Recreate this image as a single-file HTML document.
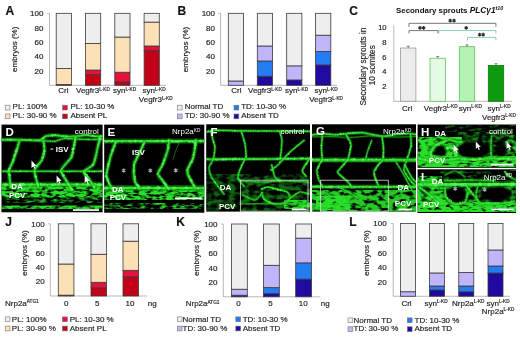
<!DOCTYPE html>
<html><head><meta charset="utf-8"><style>
html,body{margin:0;padding:0;background:#fff;}
body{width:520px;height:338px;overflow:hidden;}
svg{display:block;font-family:"Liberation Sans", sans-serif;will-change:transform;}
.ct{stroke:#2a2a2a;stroke-width:0.18px;}
</style></head><body>
<svg width="520" height="338" viewBox="0 0 520 338">
<rect width="520" height="338" fill="#fff"/>
<text x="5.6" y="14.6" font-size="12" text-anchor="start" font-weight="bold" fill="#111" class="ct" >A</text>
<line x1="49.5" y1="13.3" x2="49.5" y2="85.3" stroke="#999" stroke-width="0.7"/>
<text x="43.4" y="16.199999999999996" font-size="8" text-anchor="end" font-weight="normal" fill="#222" class="ct" >100</text>
<line x1="47.0" y1="13.30" x2="49.5" y2="13.30" stroke="#999" stroke-width="0.6"/>
<text x="43.4" y="30.599999999999994" font-size="8" text-anchor="end" font-weight="normal" fill="#222" class="ct" >80</text>
<text x="43.4" y="45.0" font-size="8" text-anchor="end" font-weight="normal" fill="#222" class="ct" >60</text>
<text x="43.4" y="59.4" font-size="8" text-anchor="end" font-weight="normal" fill="#222" class="ct" >40</text>
<text x="43.4" y="73.8" font-size="8" text-anchor="end" font-weight="normal" fill="#222" class="ct" >20</text>
<line x1="49.5" y1="85.3" x2="166" y2="85.3" stroke="#999" stroke-width="0.7"/>
<text x="0" y="0" font-size="8" text-anchor="middle" fill="#222" class="ct" transform="translate(17.0,49.3) rotate(-90)">embryos (%)</text>
<rect x="56.2" y="84.44" width="15.200000000000003" height="0.86" fill="#c20018" stroke="#3a3a3a" stroke-width="0.8"/>
<rect x="56.2" y="68.52" width="15.200000000000003" height="15.91" fill="#fde1b6" stroke="#3a3a3a" stroke-width="0.8"/>
<rect x="56.2" y="13.30" width="15.200000000000003" height="55.22" fill="#eeeeee" stroke="#3a3a3a" stroke-width="0.8"/>
<rect x="85.5" y="74.57" width="15.200000000000003" height="10.73" fill="#c20018" stroke="#3a3a3a" stroke-width="0.8"/>
<rect x="85.5" y="70.04" width="15.200000000000003" height="4.54" fill="#e6103a" stroke="#3a3a3a" stroke-width="0.8"/>
<rect x="85.5" y="43.40" width="15.200000000000003" height="26.64" fill="#fde1b6" stroke="#3a3a3a" stroke-width="0.8"/>
<rect x="85.5" y="13.30" width="15.200000000000003" height="30.10" fill="#eeeeee" stroke="#3a3a3a" stroke-width="0.8"/>
<rect x="114.8" y="81.99" width="15.200000000000003" height="3.31" fill="#c20018" stroke="#3a3a3a" stroke-width="0.8"/>
<rect x="114.8" y="72.20" width="15.200000000000003" height="9.79" fill="#e6103a" stroke="#3a3a3a" stroke-width="0.8"/>
<rect x="114.8" y="37.06" width="15.200000000000003" height="35.14" fill="#fde1b6" stroke="#3a3a3a" stroke-width="0.8"/>
<rect x="114.8" y="13.30" width="15.200000000000003" height="23.76" fill="#eeeeee" stroke="#3a3a3a" stroke-width="0.8"/>
<rect x="144.1" y="50.38" width="15.199999999999989" height="34.92" fill="#c20018" stroke="#3a3a3a" stroke-width="0.8"/>
<rect x="144.1" y="45.99" width="15.199999999999989" height="4.39" fill="#e6103a" stroke="#3a3a3a" stroke-width="0.8"/>
<rect x="144.1" y="22.08" width="15.199999999999989" height="23.90" fill="#fde1b6" stroke="#3a3a3a" stroke-width="0.8"/>
<rect x="144.1" y="13.30" width="15.199999999999989" height="8.78" fill="#eeeeee" stroke="#3a3a3a" stroke-width="0.8"/>
<text x="63.3" y="93.2" font-size="8" text-anchor="middle" font-weight="normal" fill="#222" class="ct" >Crl</text>
<text x="76" y="93.2" font-size="8" fill="#222" class="ct" text-anchor="start">Vegfr3<tspan font-size="4.7" dy="-2.6">L-KD</tspan></text>
<text x="113" y="93.2" font-size="8" fill="#222" class="ct" text-anchor="start">syn<tspan font-size="4.7" dy="-2.6">L-KD</tspan></text>
<text x="142.5" y="93.2" font-size="8" fill="#222" class="ct" text-anchor="start">syn<tspan font-size="4.7" dy="-2.6">L-KD</tspan></text>
<text x="138.8" y="102.2" font-size="8" fill="#222" class="ct" text-anchor="start">Vegfr3<tspan font-size="4.7" dy="-2.6">L-KD</tspan></text>
<rect x="5.2" y="105.19999999999999" width="4.8" height="4.8" fill="#eeeeee" stroke="#777" stroke-width="0.6"/>
<text x="12.6" y="109.4" font-size="8" text-anchor="start" font-weight="normal" fill="#222" class="ct" >PL: 100%</text>
<rect x="5.2" y="114.0" width="4.8" height="4.8" fill="#fde1b6" stroke="#777" stroke-width="0.6"/>
<text x="12.6" y="118.4" font-size="8" text-anchor="start" font-weight="normal" fill="#222" class="ct" >PL: 30-90 %</text>
<rect x="62.6" y="105.19999999999999" width="4.8" height="4.8" fill="#e6103a" stroke="#777" stroke-width="0.6"/>
<text x="70.4" y="109.4" font-size="8" text-anchor="start" font-weight="normal" fill="#222" class="ct" >PL: 10-30 %</text>
<rect x="62.6" y="114.0" width="4.8" height="4.8" fill="#c20018" stroke="#777" stroke-width="0.6"/>
<text x="70.4" y="118.4" font-size="8" text-anchor="start" font-weight="normal" fill="#222" class="ct" >Absent PL</text>
<text x="177.6" y="14.6" font-size="12" text-anchor="start" font-weight="bold" fill="#111" class="ct" >B</text>
<line x1="220.6" y1="13.3" x2="220.6" y2="85.3" stroke="#999" stroke-width="0.7"/>
<text x="215" y="16.199999999999996" font-size="8" text-anchor="end" font-weight="normal" fill="#222" class="ct" >100</text>
<line x1="218.1" y1="13.30" x2="220.6" y2="13.30" stroke="#999" stroke-width="0.6"/>
<text x="215" y="30.599999999999994" font-size="8" text-anchor="end" font-weight="normal" fill="#222" class="ct" >80</text>
<text x="215" y="45.0" font-size="8" text-anchor="end" font-weight="normal" fill="#222" class="ct" >60</text>
<text x="215" y="59.4" font-size="8" text-anchor="end" font-weight="normal" fill="#222" class="ct" >40</text>
<text x="215" y="73.8" font-size="8" text-anchor="end" font-weight="normal" fill="#222" class="ct" >20</text>
<line x1="220.6" y1="85.3" x2="337" y2="85.3" stroke="#999" stroke-width="0.7"/>
<text x="0" y="0" font-size="8" text-anchor="middle" fill="#222" class="ct" transform="translate(188,49.5) rotate(-90)">embryos (%)</text>
<rect x="228.3" y="80.98" width="15.199999999999989" height="4.32" fill="#bfb5f8" stroke="#3a3a3a" stroke-width="0.8"/>
<rect x="228.3" y="13.30" width="15.199999999999989" height="67.68" fill="#eeeeee" stroke="#3a3a3a" stroke-width="0.8"/>
<rect x="257.3" y="76.23" width="15.199999999999989" height="9.07" fill="#200aa0" stroke="#3a3a3a" stroke-width="0.8"/>
<rect x="257.3" y="61.00" width="15.199999999999989" height="15.23" fill="#237cf0" stroke="#3a3a3a" stroke-width="0.8"/>
<rect x="257.3" y="45.99" width="15.199999999999989" height="15.01" fill="#bfb5f8" stroke="#3a3a3a" stroke-width="0.8"/>
<rect x="257.3" y="13.30" width="15.199999999999989" height="32.69" fill="#eeeeee" stroke="#3a3a3a" stroke-width="0.8"/>
<rect x="286.7" y="79.97" width="15.199999999999989" height="5.33" fill="#200aa0" stroke="#3a3a3a" stroke-width="0.8"/>
<rect x="286.7" y="65.86" width="15.199999999999989" height="14.11" fill="#bfb5f8" stroke="#3a3a3a" stroke-width="0.8"/>
<rect x="286.7" y="13.30" width="15.199999999999989" height="52.56" fill="#eeeeee" stroke="#3a3a3a" stroke-width="0.8"/>
<rect x="315.6" y="64.92" width="15.199999999999989" height="20.38" fill="#200aa0" stroke="#3a3a3a" stroke-width="0.8"/>
<rect x="315.6" y="51.46" width="15.199999999999989" height="13.46" fill="#237cf0" stroke="#3a3a3a" stroke-width="0.8"/>
<rect x="315.6" y="35.19" width="15.199999999999989" height="16.27" fill="#bfb5f8" stroke="#3a3a3a" stroke-width="0.8"/>
<rect x="315.6" y="13.30" width="15.199999999999989" height="21.89" fill="#eeeeee" stroke="#3a3a3a" stroke-width="0.8"/>
<text x="236.3" y="93.2" font-size="8" text-anchor="middle" font-weight="normal" fill="#222" class="ct" >Crl</text>
<text x="248" y="93.2" font-size="8" fill="#222" class="ct" text-anchor="start">Vegfr3<tspan font-size="4.7" dy="-2.6">L-KD</tspan></text>
<text x="285" y="93.2" font-size="8" fill="#222" class="ct" text-anchor="start">syn<tspan font-size="4.7" dy="-2.6">L-KD</tspan></text>
<text x="314.5" y="93.2" font-size="8" fill="#222" class="ct" text-anchor="start">syn<tspan font-size="4.7" dy="-2.6">L-KD</tspan></text>
<text x="309.2" y="102.2" font-size="8" fill="#222" class="ct" text-anchor="start">Vegfr3<tspan font-size="4.7" dy="-2.6">L-KD</tspan></text>
<rect x="177.3" y="105.19999999999999" width="4.8" height="4.8" fill="#eeeeee" stroke="#777" stroke-width="0.6"/>
<text x="184.7" y="109.4" font-size="8" text-anchor="start" font-weight="normal" fill="#222" class="ct" >Normal TD</text>
<rect x="177.3" y="114.0" width="4.8" height="4.8" fill="#bfb5f8" stroke="#777" stroke-width="0.6"/>
<text x="184.7" y="118.4" font-size="8" text-anchor="start" font-weight="normal" fill="#222" class="ct" >TD: 30-90 %</text>
<rect x="234.0" y="105.19999999999999" width="4.8" height="4.8" fill="#237cf0" stroke="#777" stroke-width="0.6"/>
<text x="241.2" y="109.4" font-size="8" text-anchor="start" font-weight="normal" fill="#222" class="ct" >TD: 10-30 %</text>
<rect x="234.0" y="114.0" width="4.8" height="4.8" fill="#200aa0" stroke="#777" stroke-width="0.6"/>
<text x="241.2" y="118.4" font-size="8" text-anchor="start" font-weight="normal" fill="#222" class="ct" >Absent TD</text>
<text x="349.3" y="14.7" font-size="12" text-anchor="start" font-weight="bold" fill="#111" class="ct" >C</text>
<text x="396" y="12.5" font-size="7.9" font-weight="bold" fill="#111">Secondary sprouts <tspan font-style="italic" font-size="8.3">PLC&#947;1</tspan><tspan font-size="5.3" dy="-2.8" font-style="italic">t10</tspan></text>
<line x1="393.8" y1="25.3" x2="393.8" y2="101.3" stroke="#999" stroke-width="0.7"/>
<text x="386.6" y="30.2" font-size="7.6" text-anchor="end" font-weight="normal" fill="#222" class="ct" >10</text>
<text x="386.6" y="44.96" font-size="7.6" text-anchor="end" font-weight="normal" fill="#222" class="ct" >8</text>
<text x="386.6" y="59.72" font-size="7.6" text-anchor="end" font-weight="normal" fill="#222" class="ct" >6</text>
<text x="386.6" y="74.48" font-size="7.6" text-anchor="end" font-weight="normal" fill="#222" class="ct" >4</text>
<text x="386.6" y="89.24" font-size="7.6" text-anchor="end" font-weight="normal" fill="#222" class="ct" >2</text>
<line x1="393.8" y1="101.3" x2="512" y2="101.3" stroke="#999" stroke-width="0.7"/>
<text x="0" y="0" font-size="8.3" text-anchor="middle" fill="#222" class="ct" transform="translate(366.4,66.6) rotate(-90)">Secondary sprouts in</text>
<text x="0" y="0" font-size="8.3" text-anchor="middle" fill="#222" class="ct" transform="translate(375.3,65.2) rotate(-90)">10 somites</text>
<rect x="400.5" y="48.02" width="15.4" height="53.28" fill="#ececec" stroke="#9a9a9a" stroke-width="0.8"/>
<line x1="408.2" y1="48.02" x2="408.2" y2="46.22" stroke="#555" stroke-width="0.7"/>
<line x1="406.7" y1="46.22" x2="409.7" y2="46.22" stroke="#555" stroke-width="0.7"/>
<rect x="430" y="58.27" width="15.4" height="43.03" fill="#e2fbe2" stroke="#6dbf6d" stroke-width="0.8"/>
<line x1="437.7" y1="58.27" x2="437.7" y2="56.47" stroke="#555" stroke-width="0.7"/>
<line x1="436.2" y1="56.47" x2="439.2" y2="56.47" stroke="#555" stroke-width="0.7"/>
<rect x="459.3" y="46.69" width="15.4" height="54.61" fill="#b4f3b4" stroke="#5fbf5f" stroke-width="0.8"/>
<line x1="467.0" y1="46.69" x2="467.0" y2="44.89" stroke="#555" stroke-width="0.7"/>
<line x1="465.5" y1="44.89" x2="468.5" y2="44.89" stroke="#555" stroke-width="0.7"/>
<rect x="488.3" y="65.51" width="15.4" height="35.79" fill="#0f9a0f" stroke="#0b7a0b" stroke-width="0.8"/>
<line x1="496.0" y1="65.51" x2="496.0" y2="63.71" stroke="#555" stroke-width="0.7"/>
<line x1="494.5" y1="63.71" x2="497.5" y2="63.71" stroke="#555" stroke-width="0.7"/>
<text x="407.2" y="110.9" font-size="8" text-anchor="middle" font-weight="normal" fill="#222" class="ct" >Crl</text>
<text x="423.8" y="110.9" font-size="8" fill="#222" class="ct" text-anchor="start">Vegfr3<tspan font-size="4.7" dy="-2.6">L-KD</tspan></text>
<text x="458.7" y="110.9" font-size="8" fill="#222" class="ct" text-anchor="start">syn<tspan font-size="4.7" dy="-2.6">L-KD</tspan></text>
<text x="487.5" y="110.9" font-size="8" fill="#222" class="ct" text-anchor="start">syn<tspan font-size="4.7" dy="-2.6">L-KD</tspan></text>
<text x="482" y="119.5" font-size="8" fill="#222" class="ct" text-anchor="start">Vegfr3<tspan font-size="4.7" dy="-2.6">L-KD</tspan></text>
<path d="M409,26.8 V23.3 H495.9 V26.8" fill="none" stroke="#555" stroke-width="0.8"/>
<path d="M409,33.4 V30.6 H437.9 V33.4" fill="none" stroke="#555" stroke-width="0.8"/>
<path d="M438.8,33.4 V30.6 H495.9 V33.4" fill="none" stroke="#6cc0a0" stroke-width="0.8"/>
<path d="M467.5,40.4 V37.4 H495.9 V40.4" fill="none" stroke="#6cc0a0" stroke-width="0.8"/>
<path d="M450.20,18.75 L450.20,22.45 M448.60,19.68 L451.80,21.53 M448.60,21.53 L451.80,19.68 " stroke="#2a2a2a" stroke-width="1.15" fill="none"/>
<path d="M454.00,18.75 L454.00,22.45 M452.40,19.68 L455.60,21.53 M452.40,21.53 L455.60,19.68 " stroke="#2a2a2a" stroke-width="1.15" fill="none"/>
<path d="M420.00,25.95 L420.00,29.65 M418.40,26.88 L421.60,28.73 M418.40,28.73 L421.60,26.88 " stroke="#2a2a2a" stroke-width="1.15" fill="none"/>
<path d="M423.60,25.95 L423.60,29.65 M422.00,26.88 L425.20,28.73 M422.00,28.73 L425.20,26.88 " stroke="#2a2a2a" stroke-width="1.15" fill="none"/>
<path d="M466.20,25.95 L466.20,29.65 M464.60,26.88 L467.80,28.73 M464.60,28.73 L467.80,26.88 " stroke="#2a2a2a" stroke-width="1.15" fill="none"/>
<path d="M479.60,32.75 L479.60,36.45 M478.00,33.68 L481.20,35.52 M478.00,35.52 L481.20,33.68 " stroke="#2a2a2a" stroke-width="1.15" fill="none"/>
<path d="M483.20,32.75 L483.20,36.45 M481.60,33.68 L484.80,35.52 M481.60,35.52 L484.80,33.68 " stroke="#2a2a2a" stroke-width="1.15" fill="none"/>
<text x="5.2" y="225.9" font-size="12" text-anchor="start" font-weight="bold" fill="#111" class="ct" >J</text>
<line x1="50.3" y1="223.8" x2="50.3" y2="296" stroke="#999" stroke-width="0.7"/>
<text x="44.7" y="226.70000000000002" font-size="8" text-anchor="end" font-weight="normal" fill="#222" class="ct" >100</text>
<line x1="47.8" y1="223.80" x2="50.3" y2="223.80" stroke="#999" stroke-width="0.6"/>
<text x="44.7" y="241.14000000000001" font-size="8" text-anchor="end" font-weight="normal" fill="#222" class="ct" >80</text>
<text x="44.7" y="255.58" font-size="8" text-anchor="end" font-weight="normal" fill="#222" class="ct" >60</text>
<text x="44.7" y="270.02" font-size="8" text-anchor="end" font-weight="normal" fill="#222" class="ct" >40</text>
<text x="44.7" y="284.46" font-size="8" text-anchor="end" font-weight="normal" fill="#222" class="ct" >20</text>
<line x1="50.3" y1="296" x2="147" y2="296" stroke="#999" stroke-width="0.7"/>
<text x="0" y="0" font-size="8" text-anchor="middle" fill="#222" class="ct" transform="translate(27,253) rotate(-90)">embryos (%)</text>
<rect x="58.3" y="295.13" width="15.599999999999994" height="0.87" fill="#c20018" stroke="#3a3a3a" stroke-width="0.8"/>
<rect x="58.3" y="264.02" width="15.599999999999994" height="31.12" fill="#fde1b6" stroke="#3a3a3a" stroke-width="0.8"/>
<rect x="58.3" y="223.80" width="15.599999999999994" height="40.22" fill="#eeeeee" stroke="#3a3a3a" stroke-width="0.8"/>
<rect x="91" y="287.77" width="15.599999999999994" height="8.23" fill="#c20018" stroke="#3a3a3a" stroke-width="0.8"/>
<rect x="91" y="282.28" width="15.599999999999994" height="5.49" fill="#e6103a" stroke="#3a3a3a" stroke-width="0.8"/>
<rect x="91" y="254.27" width="15.599999999999994" height="28.01" fill="#fde1b6" stroke="#3a3a3a" stroke-width="0.8"/>
<rect x="91" y="223.80" width="15.599999999999994" height="30.47" fill="#eeeeee" stroke="#3a3a3a" stroke-width="0.8"/>
<rect x="123" y="276.79" width="15.599999999999994" height="19.21" fill="#c20018" stroke="#3a3a3a" stroke-width="0.8"/>
<rect x="123" y="270.30" width="15.599999999999994" height="6.50" fill="#e6103a" stroke="#3a3a3a" stroke-width="0.8"/>
<rect x="123" y="241.20" width="15.599999999999994" height="29.10" fill="#fde1b6" stroke="#3a3a3a" stroke-width="0.8"/>
<rect x="123" y="223.80" width="15.599999999999994" height="17.40" fill="#eeeeee" stroke="#3a3a3a" stroke-width="0.8"/>
<text x="5.0" y="306.0" font-size="8" fill="#222" class="ct" text-anchor="start">Nrp2a<tspan font-size="4.7" dy="-2.6">ATG1</tspan></text>
<text x="66.2" y="305.9" font-size="8" text-anchor="middle" font-weight="normal" fill="#222" class="ct" >0</text>
<text x="97.3" y="305.9" font-size="8" text-anchor="middle" font-weight="normal" fill="#222" class="ct" >5</text>
<text x="129.9" y="305.9" font-size="8" text-anchor="middle" font-weight="normal" fill="#222" class="ct" >10</text>
<text x="147.8" y="305.9" font-size="8" text-anchor="start" font-weight="normal" fill="#222" class="ct" >ng</text>
<rect x="5.2" y="316.90000000000003" width="4.8" height="4.8" fill="#eeeeee" stroke="#777" stroke-width="0.6"/>
<text x="11.8" y="321.5" font-size="8" text-anchor="start" font-weight="normal" fill="#222" class="ct" >PL: 100%</text>
<rect x="5.2" y="326.1" width="4.8" height="4.8" fill="#fde1b6" stroke="#777" stroke-width="0.6"/>
<text x="11.8" y="330.7" font-size="8" text-anchor="start" font-weight="normal" fill="#222" class="ct" >PL: 30-90 %</text>
<rect x="62.5" y="316.90000000000003" width="4.8" height="4.8" fill="#e6103a" stroke="#777" stroke-width="0.6"/>
<text x="69.7" y="321.5" font-size="8" text-anchor="start" font-weight="normal" fill="#222" class="ct" >PL: 10-30 %</text>
<rect x="62.5" y="326.1" width="4.8" height="4.8" fill="#c20018" stroke="#777" stroke-width="0.6"/>
<text x="69.7" y="330.7" font-size="8" text-anchor="start" font-weight="normal" fill="#222" class="ct" >Absent PL</text>
<text x="176.3" y="225.9" font-size="12" text-anchor="start" font-weight="bold" fill="#111" class="ct" >K</text>
<line x1="223.3" y1="224" x2="223.3" y2="296.8" stroke="#999" stroke-width="0.7"/>
<text x="217.5" y="226.9" font-size="8" text-anchor="end" font-weight="normal" fill="#222" class="ct" >100</text>
<line x1="220.8" y1="224.00" x2="223.3" y2="224.00" stroke="#999" stroke-width="0.6"/>
<text x="217.5" y="241.46" font-size="8" text-anchor="end" font-weight="normal" fill="#222" class="ct" >80</text>
<text x="217.5" y="256.02" font-size="8" text-anchor="end" font-weight="normal" fill="#222" class="ct" >60</text>
<text x="217.5" y="270.58" font-size="8" text-anchor="end" font-weight="normal" fill="#222" class="ct" >40</text>
<text x="217.5" y="285.14" font-size="8" text-anchor="end" font-weight="normal" fill="#222" class="ct" >20</text>
<line x1="223.3" y1="296.8" x2="319.8" y2="296.8" stroke="#999" stroke-width="0.7"/>
<text x="0" y="0" font-size="8" text-anchor="middle" fill="#222" class="ct" transform="translate(199.2,253) rotate(-90)">embryos (%)</text>
<rect x="231.5" y="295.20" width="15.800000000000011" height="1.60" fill="#200aa0" stroke="#3a3a3a" stroke-width="0.8"/>
<rect x="231.5" y="289.23" width="15.800000000000011" height="5.97" fill="#bfb5f8" stroke="#3a3a3a" stroke-width="0.8"/>
<rect x="231.5" y="224.00" width="15.800000000000011" height="65.23" fill="#eeeeee" stroke="#3a3a3a" stroke-width="0.8"/>
<rect x="263.5" y="293.67" width="15.800000000000011" height="3.13" fill="#200aa0" stroke="#3a3a3a" stroke-width="0.8"/>
<rect x="263.5" y="287.63" width="15.800000000000011" height="6.04" fill="#237cf0" stroke="#3a3a3a" stroke-width="0.8"/>
<rect x="263.5" y="265.28" width="15.800000000000011" height="22.35" fill="#bfb5f8" stroke="#3a3a3a" stroke-width="0.8"/>
<rect x="263.5" y="224.00" width="15.800000000000011" height="41.28" fill="#eeeeee" stroke="#3a3a3a" stroke-width="0.8"/>
<rect x="295.7" y="279.11" width="15.800000000000011" height="17.69" fill="#200aa0" stroke="#3a3a3a" stroke-width="0.8"/>
<rect x="295.7" y="262.88" width="15.800000000000011" height="16.23" fill="#237cf0" stroke="#3a3a3a" stroke-width="0.8"/>
<rect x="295.7" y="238.12" width="15.800000000000011" height="24.75" fill="#bfb5f8" stroke="#3a3a3a" stroke-width="0.8"/>
<rect x="295.7" y="224.00" width="15.800000000000011" height="14.12" fill="#eeeeee" stroke="#3a3a3a" stroke-width="0.8"/>
<text x="185.7" y="306.3" font-size="8" fill="#222" class="ct" text-anchor="start">Nrp2a<tspan font-size="4.7" dy="-2.6">ATG1</tspan></text>
<text x="238.5" y="305.8" font-size="8" text-anchor="middle" font-weight="normal" fill="#222" class="ct" >0</text>
<text x="270.5" y="305.8" font-size="8" text-anchor="middle" font-weight="normal" fill="#222" class="ct" >5</text>
<text x="303.2" y="306.0" font-size="8" text-anchor="middle" font-weight="normal" fill="#222" class="ct" >10</text>
<text x="320.8" y="306.0" font-size="8" text-anchor="start" font-weight="normal" fill="#222" class="ct" >ng</text>
<rect x="177.3" y="316.90000000000003" width="4.8" height="4.8" fill="#eeeeee" stroke="#777" stroke-width="0.6"/>
<text x="182.5" y="321.5" font-size="8" text-anchor="start" font-weight="normal" fill="#222" class="ct" >Normal TD</text>
<rect x="177.3" y="326.1" width="4.8" height="4.8" fill="#bfb5f8" stroke="#777" stroke-width="0.6"/>
<text x="182.5" y="330.7" font-size="8" text-anchor="start" font-weight="normal" fill="#222" class="ct" >TD: 30-90 %</text>
<rect x="235.8" y="316.90000000000003" width="4.8" height="4.8" fill="#237cf0" stroke="#777" stroke-width="0.6"/>
<text x="242.7" y="321.5" font-size="8" text-anchor="start" font-weight="normal" fill="#222" class="ct" >TD: 10-30 %</text>
<rect x="235.8" y="326.1" width="4.8" height="4.8" fill="#200aa0" stroke="#777" stroke-width="0.6"/>
<text x="242.7" y="330.7" font-size="8" text-anchor="start" font-weight="normal" fill="#222" class="ct" >Absent TD</text>
<text x="349.3" y="225.9" font-size="12" text-anchor="start" font-weight="bold" fill="#111" class="ct" >L</text>
<line x1="393.2" y1="223.5" x2="393.2" y2="296.25" stroke="#999" stroke-width="0.7"/>
<text x="386.7" y="226.4" font-size="8" text-anchor="end" font-weight="normal" fill="#222" class="ct" >100</text>
<line x1="390.7" y1="223.50" x2="393.2" y2="223.50" stroke="#999" stroke-width="0.6"/>
<text x="386.7" y="240.95000000000002" font-size="8" text-anchor="end" font-weight="normal" fill="#222" class="ct" >80</text>
<text x="386.7" y="255.5" font-size="8" text-anchor="end" font-weight="normal" fill="#222" class="ct" >60</text>
<text x="386.7" y="270.04999999999995" font-size="8" text-anchor="end" font-weight="normal" fill="#222" class="ct" >40</text>
<text x="386.7" y="284.59999999999997" font-size="8" text-anchor="end" font-weight="normal" fill="#222" class="ct" >20</text>
<line x1="393.2" y1="296.25" x2="510" y2="296.25" stroke="#999" stroke-width="0.7"/>
<text x="0" y="0" font-size="8" text-anchor="middle" fill="#222" class="ct" transform="translate(368.6,253) rotate(-90)">embryos (%)</text>
<rect x="400.5" y="291.74" width="15.0" height="4.51" fill="#bfb5f8" stroke="#3a3a3a" stroke-width="0.8"/>
<rect x="400.5" y="223.50" width="15.0" height="68.24" fill="#eeeeee" stroke="#3a3a3a" stroke-width="0.8"/>
<rect x="429.5" y="289.99" width="15.0" height="6.26" fill="#200aa0" stroke="#3a3a3a" stroke-width="0.8"/>
<rect x="429.5" y="285.99" width="15.0" height="4.00" fill="#237cf0" stroke="#3a3a3a" stroke-width="0.8"/>
<rect x="429.5" y="272.97" width="15.0" height="13.02" fill="#bfb5f8" stroke="#3a3a3a" stroke-width="0.8"/>
<rect x="429.5" y="223.50" width="15.0" height="49.47" fill="#eeeeee" stroke="#3a3a3a" stroke-width="0.8"/>
<rect x="458.75" y="291.74" width="15.0" height="4.51" fill="#200aa0" stroke="#3a3a3a" stroke-width="0.8"/>
<rect x="458.75" y="285.99" width="15.0" height="5.75" fill="#237cf0" stroke="#3a3a3a" stroke-width="0.8"/>
<rect x="458.75" y="272.53" width="15.0" height="13.46" fill="#bfb5f8" stroke="#3a3a3a" stroke-width="0.8"/>
<rect x="458.75" y="223.50" width="15.0" height="49.03" fill="#eeeeee" stroke="#3a3a3a" stroke-width="0.8"/>
<rect x="488" y="272.97" width="15.0" height="23.28" fill="#200aa0" stroke="#3a3a3a" stroke-width="0.8"/>
<rect x="488" y="265.99" width="15.0" height="6.98" fill="#237cf0" stroke="#3a3a3a" stroke-width="0.8"/>
<rect x="488" y="249.98" width="15.0" height="16.00" fill="#bfb5f8" stroke="#3a3a3a" stroke-width="0.8"/>
<rect x="488" y="223.50" width="15.0" height="26.48" fill="#eeeeee" stroke="#3a3a3a" stroke-width="0.8"/>
<text x="406.5" y="306" font-size="8" text-anchor="middle" font-weight="normal" fill="#222" class="ct" >Crl</text>
<text x="424.4" y="306" font-size="8" fill="#222" class="ct" text-anchor="start">syn<tspan font-size="4.7" dy="-2.6">L-KD</tspan></text>
<text x="452" y="306" font-size="8" fill="#222" class="ct" text-anchor="start">Nrp2a<tspan font-size="4.7" dy="-2.6">L-KD</tspan></text>
<text x="486.5" y="306" font-size="8" fill="#222" class="ct" text-anchor="start">syn<tspan font-size="4.7" dy="-2.6">L-KD</tspan></text>
<text x="481.8" y="314" font-size="8" fill="#222" class="ct" text-anchor="start">Nrp2a<tspan font-size="4.7" dy="-2.6">L-KD</tspan></text>
<rect x="348" y="317.90000000000003" width="4.8" height="4.8" fill="#eeeeee" stroke="#777" stroke-width="0.6"/>
<text x="353.5" y="322.5" font-size="8" text-anchor="start" font-weight="normal" fill="#222" class="ct" >Normal TD</text>
<rect x="348" y="326.8" width="4.8" height="4.8" fill="#bfb5f8" stroke="#777" stroke-width="0.6"/>
<text x="353.5" y="331.4" font-size="8" text-anchor="start" font-weight="normal" fill="#222" class="ct" >TD: 30-90 %</text>
<rect x="407.3" y="317.90000000000003" width="4.8" height="4.8" fill="#237cf0" stroke="#777" stroke-width="0.6"/>
<text x="414.5" y="322.5" font-size="8" text-anchor="start" font-weight="normal" fill="#222" class="ct" >TD: 10-30 %</text>
<rect x="407.3" y="326.8" width="4.8" height="4.8" fill="#200aa0" stroke="#777" stroke-width="0.6"/>
<text x="414.5" y="331.4" font-size="8" text-anchor="start" font-weight="normal" fill="#222" class="ct" >Absent TD</text>
<defs>
<filter id="blur1" x="-50%" y="-50%" width="200%" height="200%"><feGaussianBlur stdDeviation="1.2"/></filter>
<filter id="tA" x="0" y="0" width="1" height="1" filterUnits="objectBoundingBox" color-interpolation-filters="sRGB"><feTurbulence type="fractalNoise" baseFrequency="0.15 0.38" numOctaves="2" seed="3" result="n"/><feColorMatrix in="n" type="matrix" values="0 0 0 0 0.16  0 0 0 0 0.88  0 0 0 0 0.16  3.8 0 0 0 -1.15" result="g"/><feComposite in="g" in2="SourceGraphic" operator="in"/></filter>
<filter id="tB" x="0" y="0" width="1" height="1" filterUnits="objectBoundingBox" color-interpolation-filters="sRGB"><feTurbulence type="fractalNoise" baseFrequency="0.15 0.38" numOctaves="2" seed="9" result="n"/><feColorMatrix in="n" type="matrix" values="0 0 0 0 0.16  0 0 0 0 0.88  0 0 0 0 0.16  3.2 0 0 0 -1.35" result="g"/><feComposite in="g" in2="SourceGraphic" operator="in"/></filter>
<filter id="tC" x="0" y="0" width="1" height="1" filterUnits="objectBoundingBox" color-interpolation-filters="sRGB"><feTurbulence type="fractalNoise" baseFrequency="0.12 0.35" numOctaves="2" seed="4" result="n"/><feColorMatrix in="n" type="matrix" values="0 0 0 0 0.16  0 0 0 0 0.88  0 0 0 0 0.16  2.6 0 0 0 -1.3" result="g"/><feComposite in="g" in2="SourceGraphic" operator="in"/></filter>
<filter id="tD" x="0" y="0" width="1" height="1" filterUnits="objectBoundingBox" color-interpolation-filters="sRGB"><feTurbulence type="fractalNoise" baseFrequency="0.14 0.22" numOctaves="2" seed="11" result="n"/><feColorMatrix in="n" type="matrix" values="0 0 0 0 0.16  0 0 0 0 0.88  0 0 0 0 0.16  3.4 0 0 0 -1.3" result="g"/><feComposite in="g" in2="SourceGraphic" operator="in"/></filter>
<filter id="tE" x="0" y="0" width="1" height="1" filterUnits="objectBoundingBox" color-interpolation-filters="sRGB"><feTurbulence type="fractalNoise" baseFrequency="0.14 0.25" numOctaves="2" seed="13" result="n"/><feColorMatrix in="n" type="matrix" values="0 0 0 0 0.16  0 0 0 0 0.88  0 0 0 0 0.16  4.2 0 0 0 -1.25" result="g"/><feComposite in="g" in2="SourceGraphic" operator="in"/></filter>
<filter id="tF" x="0" y="0" width="1" height="1" filterUnits="objectBoundingBox" color-interpolation-filters="sRGB"><feTurbulence type="fractalNoise" baseFrequency="0.15 0.38" numOctaves="2" seed="17" result="n"/><feColorMatrix in="n" type="matrix" values="0 0 0 0 0.16  0 0 0 0 0.88  0 0 0 0 0.16  4.2 0 0 0 -1.2" result="g"/><feComposite in="g" in2="SourceGraphic" operator="in"/></filter>
<clipPath id="cpD"><rect x="1.5" y="124.6" width="101.1" height="87.7"/></clipPath>
<clipPath id="cpE"><rect x="104.2" y="124.6" width="100.1" height="88.1"/></clipPath>
<clipPath id="cpF"><rect x="206.2" y="124.3" width="103.8" height="87.3"/></clipPath>
<clipPath id="cpG"><rect x="312.0" y="124.3" width="104.0" height="87.3"/></clipPath>
<clipPath id="cpH"><rect x="417.6" y="124.5" width="98.4" height="43.3"/></clipPath>
<clipPath id="cpI"><rect x="417.6" y="169.3" width="98.4" height="43.7"/></clipPath>
</defs>
<rect x="1.5" y="124.6" width="101.1" height="87.7" fill="#000"/>
<rect x="104.2" y="124.6" width="100.1" height="88.1" fill="#000"/>
<rect x="206.2" y="124.3" width="103.8" height="87.3" fill="#000"/>
<rect x="312.0" y="124.3" width="104.0" height="87.3" fill="#000"/>
<rect x="417.6" y="124.5" width="98.4" height="43.3" fill="#000"/>
<rect x="417.6" y="169.3" width="98.4" height="43.7" fill="#000"/>
<g clip-path="url(#cpD)"><rect x="1" y="186" width="102.0" height="11.5" fill="#fff" fill-opacity="1.0" filter="url(#tA)"/><rect x="1" y="197.5" width="102.0" height="5.5" fill="#fff" fill-opacity="0.8" filter="url(#tB)"/><rect x="1" y="205.5" width="102.0" height="3.5" fill="#fff" fill-opacity="1.0" filter="url(#tA)"/><path d="M1.0,139.8 C4.2,139.8 13.5,139.7 20.0,139.8 C26.5,139.9 35.7,140.8 40.0,140.2 C44.3,139.6 43.5,137.0 46.0,136.2 C48.5,135.4 51.7,135.2 55.0,135.3 C58.3,135.4 62.5,136.3 66.0,136.5 C69.5,136.7 72.7,136.6 76.0,136.3 C79.3,136.1 82.8,135.0 86.0,135.0 C89.2,135.0 92.2,136.0 95.0,136.2 C97.8,136.4 101.7,136.3 103.0,136.3" fill="none" stroke="#129a12" stroke-width="4.4" stroke-opacity="0.50" stroke-linecap="round" stroke-linejoin="round"/><path d="M1.0,139.8 C4.2,139.8 13.5,139.7 20.0,139.8 C26.5,139.9 35.7,140.8 40.0,140.2 C44.3,139.6 43.5,137.0 46.0,136.2 C48.5,135.4 51.7,135.2 55.0,135.3 C58.3,135.4 62.5,136.3 66.0,136.5 C69.5,136.7 72.7,136.6 76.0,136.3 C79.3,136.1 82.8,135.0 86.0,135.0 C89.2,135.0 92.2,136.0 95.0,136.2 C97.8,136.4 101.7,136.3 103.0,136.3" fill="none" stroke="#2ee02e" stroke-width="1.9" stroke-opacity="0.85" stroke-linecap="round" stroke-linejoin="round"/><circle cx="1.1" cy="139.5" r="0.9" fill="#55ff55" fill-opacity="0.31"/><circle cx="3.0" cy="139.8" r="1.1" fill="#55ff55" fill-opacity="0.46"/><circle cx="5.4" cy="139.5" r="0.7" fill="#55ff55" fill-opacity="0.50"/><circle cx="7.8" cy="139.6" r="1.0" fill="#55ff55" fill-opacity="0.78"/><circle cx="10.6" cy="139.7" r="1.2" fill="#55ff55" fill-opacity="0.86"/><circle cx="13.2" cy="139.6" r="1.4" fill="#55ff55" fill-opacity="0.23"/><circle cx="15.1" cy="140.1" r="0.8" fill="#55ff55" fill-opacity="0.28"/><circle cx="17.7" cy="139.7" r="0.8" fill="#55ff55" fill-opacity="0.61"/><circle cx="19.6" cy="139.6" r="1.1" fill="#55ff55" fill-opacity="0.24"/><circle cx="22.1" cy="139.9" r="1.2" fill="#55ff55" fill-opacity="0.50"/><circle cx="24.7" cy="140.0" r="1.0" fill="#55ff55" fill-opacity="0.41"/><circle cx="26.7" cy="140.2" r="0.9" fill="#55ff55" fill-opacity="0.60"/><circle cx="29.3" cy="139.7" r="1.2" fill="#55ff55" fill-opacity="0.40"/><circle cx="30.8" cy="140.0" r="1.0" fill="#55ff55" fill-opacity="0.73"/><circle cx="33.5" cy="140.1" r="0.7" fill="#55ff55" fill-opacity="0.67"/><circle cx="35.7" cy="140.2" r="1.3" fill="#55ff55" fill-opacity="0.42"/><circle cx="38.0" cy="140.5" r="1.1" fill="#55ff55" fill-opacity="0.52"/><circle cx="39.6" cy="140.4" r="1.1" fill="#55ff55" fill-opacity="0.66"/><circle cx="42.3" cy="138.7" r="1.2" fill="#55ff55" fill-opacity="0.90"/><circle cx="43.6" cy="137.5" r="1.0" fill="#55ff55" fill-opacity="0.67"/><circle cx="45.6" cy="136.4" r="0.8" fill="#55ff55" fill-opacity="0.28"/><circle cx="48.2" cy="136.3" r="0.8" fill="#55ff55" fill-opacity="0.37"/><circle cx="50.5" cy="136.1" r="0.8" fill="#55ff55" fill-opacity="0.51"/><circle cx="52.6" cy="135.5" r="1.3" fill="#55ff55" fill-opacity="0.80"/><circle cx="55.4" cy="135.0" r="1.0" fill="#55ff55" fill-opacity="0.82"/><circle cx="57.0" cy="135.5" r="0.8" fill="#55ff55" fill-opacity="0.36"/><circle cx="59.0" cy="135.7" r="1.1" fill="#55ff55" fill-opacity="0.38"/><circle cx="62.0" cy="136.2" r="1.0" fill="#55ff55" fill-opacity="0.60"/><circle cx="63.9" cy="135.9" r="1.1" fill="#55ff55" fill-opacity="0.63"/><circle cx="66.3" cy="136.7" r="1.4" fill="#55ff55" fill-opacity="0.75"/><circle cx="68.2" cy="136.6" r="1.0" fill="#55ff55" fill-opacity="0.48"/><circle cx="70.8" cy="136.1" r="0.8" fill="#55ff55" fill-opacity="0.25"/><circle cx="73.1" cy="136.1" r="1.0" fill="#55ff55" fill-opacity="0.24"/><circle cx="75.6" cy="136.6" r="0.8" fill="#55ff55" fill-opacity="0.45"/><circle cx="78.3" cy="135.9" r="1.2" fill="#55ff55" fill-opacity="0.30"/><circle cx="81.3" cy="136.0" r="1.0" fill="#55ff55" fill-opacity="0.29"/><circle cx="83.2" cy="135.0" r="1.0" fill="#55ff55" fill-opacity="0.54"/><circle cx="86.3" cy="134.7" r="1.0" fill="#55ff55" fill-opacity="0.39"/><circle cx="88.3" cy="135.0" r="0.7" fill="#55ff55" fill-opacity="0.87"/><circle cx="90.5" cy="136.0" r="1.1" fill="#55ff55" fill-opacity="0.22"/><circle cx="92.6" cy="135.8" r="1.3" fill="#55ff55" fill-opacity="0.69"/><circle cx="95.0" cy="136.4" r="0.8" fill="#55ff55" fill-opacity="0.74"/><circle cx="97.9" cy="136.6" r="0.9" fill="#55ff55" fill-opacity="0.36"/><circle cx="100.6" cy="136.5" r="1.3" fill="#55ff55" fill-opacity="0.76"/><circle cx="102.9" cy="135.9" r="0.9" fill="#55ff55" fill-opacity="0.56"/><path d="M40.0,140.6 C42.5,140.7 51.0,141.5 55.0,141.2 C59.0,140.8 59.8,138.8 64.0,138.5 C68.2,138.2 73.5,139.0 80.0,139.2 C86.5,139.4 99.2,139.4 103.0,139.5" fill="none" stroke="#129a12" stroke-width="3.4" stroke-opacity="0.40" stroke-linecap="round" stroke-linejoin="round"/><path d="M40.0,140.6 C42.5,140.7 51.0,141.5 55.0,141.2 C59.0,140.8 59.8,138.8 64.0,138.5 C68.2,138.2 73.5,139.0 80.0,139.2 C86.5,139.4 99.2,139.4 103.0,139.5" fill="none" stroke="#2ee02e" stroke-width="1.5" stroke-opacity="0.68" stroke-linecap="round" stroke-linejoin="round"/><circle cx="39.8" cy="140.8" r="0.6" fill="#55ff55" fill-opacity="0.32"/><circle cx="42.8" cy="141.1" r="1.1" fill="#55ff55" fill-opacity="0.41"/><circle cx="44.8" cy="140.6" r="1.1" fill="#55ff55" fill-opacity="0.36"/><circle cx="47.6" cy="141.2" r="0.7" fill="#55ff55" fill-opacity="0.27"/><circle cx="50.1" cy="141.2" r="1.0" fill="#55ff55" fill-opacity="0.43"/><circle cx="52.8" cy="141.3" r="0.6" fill="#55ff55" fill-opacity="0.53"/><circle cx="54.7" cy="141.4" r="1.0" fill="#55ff55" fill-opacity="0.43"/><circle cx="57.6" cy="140.4" r="0.7" fill="#55ff55" fill-opacity="0.61"/><circle cx="59.7" cy="139.6" r="0.8" fill="#55ff55" fill-opacity="0.69"/><circle cx="62.1" cy="139.4" r="0.6" fill="#55ff55" fill-opacity="0.24"/><circle cx="64.4" cy="138.6" r="0.6" fill="#55ff55" fill-opacity="0.62"/><circle cx="66.0" cy="138.2" r="0.8" fill="#55ff55" fill-opacity="0.47"/><circle cx="68.6" cy="139.0" r="1.1" fill="#55ff55" fill-opacity="0.52"/><circle cx="71.1" cy="138.6" r="0.8" fill="#55ff55" fill-opacity="0.65"/><circle cx="72.9" cy="139.0" r="0.7" fill="#55ff55" fill-opacity="0.32"/><circle cx="75.1" cy="139.3" r="0.7" fill="#55ff55" fill-opacity="0.39"/><circle cx="77.8" cy="139.4" r="0.8" fill="#55ff55" fill-opacity="0.42"/><circle cx="80.0" cy="139.2" r="0.8" fill="#55ff55" fill-opacity="0.67"/><circle cx="82.3" cy="139.0" r="0.9" fill="#55ff55" fill-opacity="0.17"/><circle cx="84.3" cy="139.2" r="0.6" fill="#55ff55" fill-opacity="0.61"/><circle cx="86.8" cy="139.3" r="1.0" fill="#55ff55" fill-opacity="0.47"/><circle cx="88.9" cy="139.4" r="0.9" fill="#55ff55" fill-opacity="0.60"/><circle cx="91.7" cy="139.4" r="0.7" fill="#55ff55" fill-opacity="0.32"/><circle cx="94.1" cy="139.3" r="0.9" fill="#55ff55" fill-opacity="0.59"/><circle cx="96.1" cy="139.6" r="0.9" fill="#55ff55" fill-opacity="0.44"/><circle cx="98.4" cy="139.8" r="0.8" fill="#55ff55" fill-opacity="0.46"/><circle cx="101.1" cy="139.3" r="1.0" fill="#55ff55" fill-opacity="0.65"/><circle cx="103.3" cy="139.2" r="0.9" fill="#55ff55" fill-opacity="0.69"/><path d="M1.0,171.3 L103.0,171.3" fill="none" stroke="#129a12" stroke-width="3.4" stroke-opacity="0.45" stroke-linecap="round" stroke-linejoin="round"/><path d="M1.0,171.3 L103.0,171.3" fill="none" stroke="#2ee02e" stroke-width="1.5" stroke-opacity="0.77" stroke-linecap="round" stroke-linejoin="round"/><circle cx="0.7" cy="171.1" r="0.6" fill="#55ff55" fill-opacity="0.46"/><circle cx="3.4" cy="171.6" r="0.6" fill="#55ff55" fill-opacity="0.60"/><circle cx="5.6" cy="171.0" r="0.6" fill="#55ff55" fill-opacity="0.63"/><circle cx="7.4" cy="171.7" r="1.1" fill="#55ff55" fill-opacity="0.79"/><circle cx="10.3" cy="171.6" r="0.8" fill="#55ff55" fill-opacity="0.49"/><circle cx="12.1" cy="171.2" r="0.7" fill="#55ff55" fill-opacity="0.45"/><circle cx="14.5" cy="170.9" r="0.7" fill="#55ff55" fill-opacity="0.38"/><circle cx="16.1" cy="171.2" r="0.9" fill="#55ff55" fill-opacity="0.46"/><circle cx="18.4" cy="171.7" r="0.9" fill="#55ff55" fill-opacity="0.50"/><circle cx="20.6" cy="171.1" r="1.0" fill="#55ff55" fill-opacity="0.79"/><circle cx="23.0" cy="171.0" r="0.6" fill="#55ff55" fill-opacity="0.67"/><circle cx="25.6" cy="171.1" r="0.8" fill="#55ff55" fill-opacity="0.75"/><circle cx="27.7" cy="171.5" r="0.6" fill="#55ff55" fill-opacity="0.76"/><circle cx="30.0" cy="171.2" r="0.6" fill="#55ff55" fill-opacity="0.22"/><circle cx="32.2" cy="171.5" r="0.6" fill="#55ff55" fill-opacity="0.77"/><circle cx="33.9" cy="171.6" r="0.6" fill="#55ff55" fill-opacity="0.72"/><circle cx="36.5" cy="171.6" r="0.8" fill="#55ff55" fill-opacity="0.39"/><circle cx="38.7" cy="171.1" r="0.7" fill="#55ff55" fill-opacity="0.26"/><circle cx="40.6" cy="171.1" r="0.6" fill="#55ff55" fill-opacity="0.28"/><circle cx="43.3" cy="171.1" r="0.7" fill="#55ff55" fill-opacity="0.37"/><circle cx="45.2" cy="170.9" r="0.8" fill="#55ff55" fill-opacity="0.29"/><circle cx="47.8" cy="171.3" r="0.7" fill="#55ff55" fill-opacity="0.19"/><circle cx="50.1" cy="171.0" r="0.7" fill="#55ff55" fill-opacity="0.48"/><circle cx="52.0" cy="171.6" r="1.0" fill="#55ff55" fill-opacity="0.45"/><circle cx="54.4" cy="171.7" r="0.8" fill="#55ff55" fill-opacity="0.50"/><circle cx="56.6" cy="171.4" r="0.8" fill="#55ff55" fill-opacity="0.70"/><circle cx="58.3" cy="171.0" r="0.8" fill="#55ff55" fill-opacity="0.40"/><circle cx="60.7" cy="171.0" r="0.6" fill="#55ff55" fill-opacity="0.65"/><circle cx="63.4" cy="171.4" r="0.6" fill="#55ff55" fill-opacity="0.71"/><circle cx="65.1" cy="171.3" r="0.7" fill="#55ff55" fill-opacity="0.33"/><circle cx="67.3" cy="171.7" r="0.7" fill="#55ff55" fill-opacity="0.46"/><circle cx="69.5" cy="171.7" r="1.1" fill="#55ff55" fill-opacity="0.52"/><circle cx="71.6" cy="171.2" r="0.7" fill="#55ff55" fill-opacity="0.40"/><circle cx="73.9" cy="171.3" r="0.8" fill="#55ff55" fill-opacity="0.50"/><circle cx="76.1" cy="171.2" r="0.6" fill="#55ff55" fill-opacity="0.35"/><circle cx="78.5" cy="171.1" r="0.6" fill="#55ff55" fill-opacity="0.19"/><circle cx="81.0" cy="171.4" r="0.9" fill="#55ff55" fill-opacity="0.51"/><circle cx="83.0" cy="171.2" r="1.0" fill="#55ff55" fill-opacity="0.73"/><circle cx="85.4" cy="171.4" r="1.1" fill="#55ff55" fill-opacity="0.27"/><circle cx="87.8" cy="171.4" r="0.6" fill="#55ff55" fill-opacity="0.71"/><circle cx="89.4" cy="171.3" r="1.0" fill="#55ff55" fill-opacity="0.69"/><circle cx="92.2" cy="171.6" r="0.8" fill="#55ff55" fill-opacity="0.71"/><circle cx="94.3" cy="171.5" r="0.9" fill="#55ff55" fill-opacity="0.74"/><circle cx="96.1" cy="171.2" r="0.7" fill="#55ff55" fill-opacity="0.20"/><circle cx="98.6" cy="171.4" r="0.6" fill="#55ff55" fill-opacity="0.71"/><circle cx="100.8" cy="170.9" r="0.9" fill="#55ff55" fill-opacity="0.61"/><circle cx="103.0" cy="171.3" r="1.0" fill="#55ff55" fill-opacity="0.65"/><path d="M1.0,184.6 L103.0,184.6" fill="none" stroke="#129a12" stroke-width="5.5" stroke-opacity="0.50" stroke-linecap="round" stroke-linejoin="round"/><path d="M1.0,184.6 L103.0,184.6" fill="none" stroke="#2ee02e" stroke-width="2.4" stroke-opacity="0.85" stroke-linecap="round" stroke-linejoin="round"/><circle cx="1.2" cy="184.4" r="1.5" fill="#55ff55" fill-opacity="0.25"/><circle cx="3.4" cy="184.4" r="1.0" fill="#55ff55" fill-opacity="0.39"/><circle cx="5.4" cy="184.5" r="1.6" fill="#55ff55" fill-opacity="0.88"/><circle cx="7.9" cy="184.7" r="1.3" fill="#55ff55" fill-opacity="0.68"/><circle cx="9.6" cy="184.4" r="1.5" fill="#55ff55" fill-opacity="0.25"/><circle cx="12.1" cy="184.2" r="1.6" fill="#55ff55" fill-opacity="0.41"/><circle cx="14.4" cy="184.8" r="1.0" fill="#55ff55" fill-opacity="0.39"/><circle cx="16.5" cy="184.6" r="1.5" fill="#55ff55" fill-opacity="0.40"/><circle cx="19.1" cy="184.4" r="1.3" fill="#55ff55" fill-opacity="0.28"/><circle cx="20.6" cy="184.6" r="1.8" fill="#55ff55" fill-opacity="0.86"/><circle cx="23.1" cy="184.4" r="1.6" fill="#55ff55" fill-opacity="0.88"/><circle cx="25.2" cy="184.7" r="1.1" fill="#55ff55" fill-opacity="0.86"/><circle cx="28.0" cy="184.3" r="1.0" fill="#55ff55" fill-opacity="0.57"/><circle cx="30.1" cy="184.8" r="1.6" fill="#55ff55" fill-opacity="0.56"/><circle cx="32.0" cy="184.2" r="1.1" fill="#55ff55" fill-opacity="0.83"/><circle cx="34.2" cy="184.4" r="0.9" fill="#55ff55" fill-opacity="0.54"/><circle cx="36.3" cy="184.9" r="1.0" fill="#55ff55" fill-opacity="0.44"/><circle cx="39.0" cy="184.3" r="0.9" fill="#55ff55" fill-opacity="0.73"/><circle cx="41.2" cy="184.4" r="1.7" fill="#55ff55" fill-opacity="0.70"/><circle cx="43.5" cy="184.7" r="1.2" fill="#55ff55" fill-opacity="0.48"/><circle cx="45.2" cy="184.2" r="1.2" fill="#55ff55" fill-opacity="0.50"/><circle cx="47.4" cy="184.9" r="1.0" fill="#55ff55" fill-opacity="0.78"/><circle cx="49.8" cy="184.4" r="1.1" fill="#55ff55" fill-opacity="0.39"/><circle cx="52.3" cy="184.8" r="1.2" fill="#55ff55" fill-opacity="0.87"/><circle cx="54.6" cy="184.6" r="1.5" fill="#55ff55" fill-opacity="0.84"/><circle cx="56.6" cy="184.6" r="1.5" fill="#55ff55" fill-opacity="0.23"/><circle cx="58.5" cy="184.2" r="1.6" fill="#55ff55" fill-opacity="0.65"/><circle cx="60.8" cy="184.5" r="1.7" fill="#55ff55" fill-opacity="0.29"/><circle cx="63.5" cy="184.4" r="1.2" fill="#55ff55" fill-opacity="0.72"/><circle cx="65.4" cy="184.5" r="1.5" fill="#55ff55" fill-opacity="0.41"/><circle cx="67.3" cy="184.9" r="1.1" fill="#55ff55" fill-opacity="0.31"/><circle cx="70.1" cy="185.0" r="1.3" fill="#55ff55" fill-opacity="0.35"/><circle cx="71.7" cy="184.3" r="1.3" fill="#55ff55" fill-opacity="0.30"/><circle cx="74.0" cy="184.4" r="1.2" fill="#55ff55" fill-opacity="0.26"/><circle cx="76.6" cy="184.5" r="1.4" fill="#55ff55" fill-opacity="0.82"/><circle cx="78.5" cy="184.5" r="1.3" fill="#55ff55" fill-opacity="0.57"/><circle cx="81.2" cy="184.3" r="1.0" fill="#55ff55" fill-opacity="0.39"/><circle cx="83.3" cy="184.4" r="1.4" fill="#55ff55" fill-opacity="0.64"/><circle cx="85.2" cy="184.6" r="1.1" fill="#55ff55" fill-opacity="0.37"/><circle cx="87.8" cy="184.2" r="1.8" fill="#55ff55" fill-opacity="0.79"/><circle cx="90.0" cy="184.6" r="0.9" fill="#55ff55" fill-opacity="0.70"/><circle cx="91.8" cy="184.9" r="1.4" fill="#55ff55" fill-opacity="0.20"/><circle cx="94.5" cy="184.4" r="1.6" fill="#55ff55" fill-opacity="0.80"/><circle cx="96.4" cy="184.7" r="1.0" fill="#55ff55" fill-opacity="0.31"/><circle cx="98.7" cy="184.8" r="1.7" fill="#55ff55" fill-opacity="0.71"/><circle cx="100.4" cy="184.8" r="1.3" fill="#55ff55" fill-opacity="0.59"/><circle cx="103.1" cy="184.4" r="1.1" fill="#55ff55" fill-opacity="0.84"/><path d="M19.5,140.6 C19.1,142.1 17.9,146.2 16.9,149.5 C15.9,152.8 14.6,156.6 13.3,160.2 C12.0,163.8 9.5,167.6 8.9,170.8 C8.3,174.1 9.5,177.0 9.8,179.7 C10.1,182.4 10.5,185.6 10.6,186.8" fill="none" stroke="#129a12" stroke-width="4.6" stroke-opacity="0.50" stroke-linecap="round" stroke-linejoin="round"/><path d="M19.5,140.6 C19.1,142.1 17.9,146.2 16.9,149.5 C15.9,152.8 14.6,156.6 13.3,160.2 C12.0,163.8 9.5,167.6 8.9,170.8 C8.3,174.1 9.5,177.0 9.8,179.7 C10.1,182.4 10.5,185.6 10.6,186.8" fill="none" stroke="#2ee02e" stroke-width="2.0" stroke-opacity="0.85" stroke-linecap="round" stroke-linejoin="round"/><circle cx="19.6" cy="140.8" r="0.8" fill="#55ff55" fill-opacity="0.38"/><circle cx="18.9" cy="142.9" r="0.8" fill="#55ff55" fill-opacity="0.25"/><circle cx="18.3" cy="144.7" r="1.0" fill="#55ff55" fill-opacity="0.36"/><circle cx="17.9" cy="147.4" r="1.0" fill="#55ff55" fill-opacity="0.52"/><circle cx="16.7" cy="149.3" r="1.4" fill="#55ff55" fill-opacity="0.53"/><circle cx="16.0" cy="151.3" r="1.5" fill="#55ff55" fill-opacity="0.69"/><circle cx="15.4" cy="153.6" r="1.1" fill="#55ff55" fill-opacity="0.67"/><circle cx="14.5" cy="155.5" r="1.3" fill="#55ff55" fill-opacity="0.85"/><circle cx="14.2" cy="157.8" r="1.0" fill="#55ff55" fill-opacity="0.49"/><circle cx="13.3" cy="160.0" r="1.3" fill="#55ff55" fill-opacity="0.72"/><circle cx="12.7" cy="162.1" r="1.5" fill="#55ff55" fill-opacity="0.42"/><circle cx="11.4" cy="164.8" r="0.9" fill="#55ff55" fill-opacity="0.73"/><circle cx="10.4" cy="166.5" r="1.1" fill="#55ff55" fill-opacity="0.33"/><circle cx="9.5" cy="168.6" r="1.2" fill="#55ff55" fill-opacity="0.86"/><circle cx="8.6" cy="170.4" r="0.9" fill="#55ff55" fill-opacity="0.88"/><circle cx="9.4" cy="173.3" r="0.8" fill="#55ff55" fill-opacity="0.48"/><circle cx="9.7" cy="175.1" r="1.3" fill="#55ff55" fill-opacity="0.90"/><circle cx="9.8" cy="177.1" r="0.9" fill="#55ff55" fill-opacity="0.86"/><circle cx="9.7" cy="179.6" r="1.2" fill="#55ff55" fill-opacity="0.47"/><circle cx="9.9" cy="181.9" r="0.9" fill="#55ff55" fill-opacity="0.20"/><circle cx="10.7" cy="184.2" r="1.5" fill="#55ff55" fill-opacity="0.29"/><circle cx="10.9" cy="186.7" r="1.0" fill="#55ff55" fill-opacity="0.78"/><path d="M43.5,141.5 C43.6,143.1 44.7,148.2 44.4,151.3 C44.1,154.4 43.2,157.4 41.7,160.2 C40.2,163.0 36.7,166.2 35.5,168.1 C34.3,170.0 34.5,169.8 34.6,171.7 C34.8,173.6 35.8,177.2 36.4,179.7 C37.0,182.2 37.8,185.6 38.1,186.8" fill="none" stroke="#129a12" stroke-width="4.6" stroke-opacity="0.50" stroke-linecap="round" stroke-linejoin="round"/><path d="M43.5,141.5 C43.6,143.1 44.7,148.2 44.4,151.3 C44.1,154.4 43.2,157.4 41.7,160.2 C40.2,163.0 36.7,166.2 35.5,168.1 C34.3,170.0 34.5,169.8 34.6,171.7 C34.8,173.6 35.8,177.2 36.4,179.7 C37.0,182.2 37.8,185.6 38.1,186.8" fill="none" stroke="#2ee02e" stroke-width="2.0" stroke-opacity="0.85" stroke-linecap="round" stroke-linejoin="round"/><circle cx="43.4" cy="141.8" r="0.8" fill="#55ff55" fill-opacity="0.53"/><circle cx="44.0" cy="143.6" r="0.9" fill="#55ff55" fill-opacity="0.45"/><circle cx="44.2" cy="146.0" r="1.1" fill="#55ff55" fill-opacity="0.77"/><circle cx="44.5" cy="148.7" r="0.8" fill="#55ff55" fill-opacity="0.24"/><circle cx="44.3" cy="151.1" r="1.3" fill="#55ff55" fill-opacity="0.83"/><circle cx="43.5" cy="153.7" r="1.5" fill="#55ff55" fill-opacity="0.63"/><circle cx="42.7" cy="156.0" r="1.0" fill="#55ff55" fill-opacity="0.39"/><circle cx="42.7" cy="157.6" r="1.4" fill="#55ff55" fill-opacity="0.64"/><circle cx="42.1" cy="160.6" r="0.9" fill="#55ff55" fill-opacity="0.53"/><circle cx="40.1" cy="162.2" r="1.0" fill="#55ff55" fill-opacity="0.38"/><circle cx="38.8" cy="164.3" r="1.4" fill="#55ff55" fill-opacity="0.33"/><circle cx="37.1" cy="166.0" r="1.4" fill="#55ff55" fill-opacity="0.74"/><circle cx="35.7" cy="167.8" r="1.0" fill="#55ff55" fill-opacity="0.45"/><circle cx="34.4" cy="171.4" r="0.9" fill="#55ff55" fill-opacity="0.73"/><circle cx="35.1" cy="174.8" r="0.8" fill="#55ff55" fill-opacity="0.59"/><circle cx="35.6" cy="176.7" r="1.4" fill="#55ff55" fill-opacity="0.89"/><circle cx="36.6" cy="179.7" r="0.8" fill="#55ff55" fill-opacity="0.55"/><circle cx="37.1" cy="182.2" r="0.9" fill="#55ff55" fill-opacity="0.49"/><circle cx="37.7" cy="184.1" r="1.3" fill="#55ff55" fill-opacity="0.79"/><circle cx="38.2" cy="186.7" r="1.4" fill="#55ff55" fill-opacity="0.41"/><path d="M75.6,137.6 C75.2,139.3 74.2,144.7 73.5,148.0 C72.8,151.3 72.8,154.7 71.3,157.5 C69.8,160.3 66.5,162.7 64.8,165.0 C63.1,167.3 60.8,168.7 61.0,171.2 C61.2,173.7 64.1,176.9 66.0,180.0 C67.9,183.1 71.2,188.3 72.2,190.0" fill="none" stroke="#129a12" stroke-width="4.6" stroke-opacity="0.50" stroke-linecap="round" stroke-linejoin="round"/><path d="M75.6,137.6 C75.2,139.3 74.2,144.7 73.5,148.0 C72.8,151.3 72.8,154.7 71.3,157.5 C69.8,160.3 66.5,162.7 64.8,165.0 C63.1,167.3 60.8,168.7 61.0,171.2 C61.2,173.7 64.1,176.9 66.0,180.0 C67.9,183.1 71.2,188.3 72.2,190.0" fill="none" stroke="#2ee02e" stroke-width="2.0" stroke-opacity="0.85" stroke-linecap="round" stroke-linejoin="round"/><circle cx="75.4" cy="137.4" r="1.3" fill="#55ff55" fill-opacity="0.34"/><circle cx="75.1" cy="140.1" r="0.9" fill="#55ff55" fill-opacity="0.82"/><circle cx="74.6" cy="142.6" r="1.0" fill="#55ff55" fill-opacity="0.89"/><circle cx="74.4" cy="145.1" r="1.4" fill="#55ff55" fill-opacity="0.66"/><circle cx="73.8" cy="148.3" r="1.1" fill="#55ff55" fill-opacity="0.77"/><circle cx="72.6" cy="150.1" r="0.8" fill="#55ff55" fill-opacity="0.41"/><circle cx="72.7" cy="152.6" r="1.5" fill="#55ff55" fill-opacity="0.61"/><circle cx="71.7" cy="155.3" r="1.4" fill="#55ff55" fill-opacity="0.51"/><circle cx="71.4" cy="157.6" r="1.5" fill="#55ff55" fill-opacity="0.27"/><circle cx="69.4" cy="159.1" r="0.9" fill="#55ff55" fill-opacity="0.46"/><circle cx="68.2" cy="161.0" r="0.9" fill="#55ff55" fill-opacity="0.62"/><circle cx="66.6" cy="162.9" r="0.8" fill="#55ff55" fill-opacity="0.43"/><circle cx="65.0" cy="165.0" r="1.0" fill="#55ff55" fill-opacity="0.34"/><circle cx="63.4" cy="167.1" r="0.8" fill="#55ff55" fill-opacity="0.27"/><circle cx="62.0" cy="169.3" r="1.2" fill="#55ff55" fill-opacity="0.26"/><circle cx="60.8" cy="171.6" r="1.1" fill="#55ff55" fill-opacity="0.40"/><circle cx="62.1" cy="173.3" r="1.0" fill="#55ff55" fill-opacity="0.60"/><circle cx="63.4" cy="175.4" r="1.4" fill="#55ff55" fill-opacity="0.90"/><circle cx="64.4" cy="178.1" r="1.3" fill="#55ff55" fill-opacity="0.34"/><circle cx="65.9" cy="180.3" r="1.1" fill="#55ff55" fill-opacity="0.77"/><circle cx="66.9" cy="182.0" r="1.1" fill="#55ff55" fill-opacity="0.31"/><circle cx="68.2" cy="184.1" r="1.2" fill="#55ff55" fill-opacity="0.84"/><circle cx="69.4" cy="185.8" r="1.0" fill="#55ff55" fill-opacity="0.55"/><circle cx="70.6" cy="188.0" r="1.1" fill="#55ff55" fill-opacity="0.85"/><circle cx="72.0" cy="189.7" r="1.4" fill="#55ff55" fill-opacity="0.88"/><path d="M99.7,139.0 C99.3,140.5 98.2,144.9 97.5,148.0 C96.8,151.1 96.3,154.7 95.5,157.5 C94.7,160.3 94.8,162.6 92.9,165.0 C91.0,167.4 84.7,169.4 84.0,171.7 C83.3,174.0 87.3,176.4 89.0,179.0 C90.7,181.6 93.5,185.8 94.4,187.2" fill="none" stroke="#129a12" stroke-width="4.6" stroke-opacity="0.50" stroke-linecap="round" stroke-linejoin="round"/><path d="M99.7,139.0 C99.3,140.5 98.2,144.9 97.5,148.0 C96.8,151.1 96.3,154.7 95.5,157.5 C94.7,160.3 94.8,162.6 92.9,165.0 C91.0,167.4 84.7,169.4 84.0,171.7 C83.3,174.0 87.3,176.4 89.0,179.0 C90.7,181.6 93.5,185.8 94.4,187.2" fill="none" stroke="#2ee02e" stroke-width="2.0" stroke-opacity="0.85" stroke-linecap="round" stroke-linejoin="round"/><circle cx="99.7" cy="138.6" r="1.5" fill="#55ff55" fill-opacity="0.88"/><circle cx="99.5" cy="141.3" r="1.4" fill="#55ff55" fill-opacity="0.47"/><circle cx="98.8" cy="143.3" r="1.4" fill="#55ff55" fill-opacity="0.31"/><circle cx="98.3" cy="145.5" r="1.1" fill="#55ff55" fill-opacity="0.79"/><circle cx="97.5" cy="147.9" r="0.9" fill="#55ff55" fill-opacity="0.48"/><circle cx="97.2" cy="150.7" r="0.8" fill="#55ff55" fill-opacity="0.37"/><circle cx="96.7" cy="152.4" r="0.8" fill="#55ff55" fill-opacity="0.59"/><circle cx="96.1" cy="155.2" r="1.4" fill="#55ff55" fill-opacity="0.28"/><circle cx="95.4" cy="157.6" r="1.2" fill="#55ff55" fill-opacity="0.41"/><circle cx="94.6" cy="160.0" r="1.1" fill="#55ff55" fill-opacity="0.66"/><circle cx="93.8" cy="162.3" r="0.8" fill="#55ff55" fill-opacity="0.63"/><circle cx="92.9" cy="164.7" r="1.3" fill="#55ff55" fill-opacity="0.75"/><circle cx="90.8" cy="166.3" r="1.1" fill="#55ff55" fill-opacity="0.27"/><circle cx="89.3" cy="167.3" r="0.8" fill="#55ff55" fill-opacity="0.51"/><circle cx="87.7" cy="169.2" r="1.2" fill="#55ff55" fill-opacity="0.26"/><circle cx="85.8" cy="170.3" r="1.1" fill="#55ff55" fill-opacity="0.24"/><circle cx="84.3" cy="172.1" r="1.5" fill="#55ff55" fill-opacity="0.30"/><circle cx="85.0" cy="173.9" r="1.3" fill="#55ff55" fill-opacity="0.77"/><circle cx="86.8" cy="175.1" r="1.1" fill="#55ff55" fill-opacity="0.87"/><circle cx="87.4" cy="177.1" r="1.3" fill="#55ff55" fill-opacity="0.85"/><circle cx="89.3" cy="178.8" r="1.3" fill="#55ff55" fill-opacity="0.31"/><circle cx="90.4" cy="181.4" r="1.4" fill="#55ff55" fill-opacity="0.30"/><circle cx="91.7" cy="183.0" r="0.9" fill="#55ff55" fill-opacity="0.38"/><circle cx="92.8" cy="185.5" r="0.8" fill="#55ff55" fill-opacity="0.33"/><circle cx="94.1" cy="187.4" r="1.3" fill="#55ff55" fill-opacity="0.83"/></g>
<text x="5.6" y="136.4" font-size="11.5" font-weight="bold" fill="#fff" text-anchor="start">D</text>
<text x="98.8" y="134.2" font-size="8" font-weight="normal" fill="#fff" text-anchor="end">control</text>
<text x="55.7" y="152" font-size="8" font-weight="bold" fill="#fff" text-anchor="start">ISV</text>
<rect x="50.5" y="148.6" width="2.4" height="1" fill="#fff"/><rect x="71.5" y="148.6" width="2.4" height="1" fill="#fff"/>
<text x="11.2" y="188.7" font-size="8" font-weight="bold" fill="#fff" text-anchor="start">DA</text>
<text x="8.9" y="198.4" font-size="8" font-weight="bold" fill="#fff" text-anchor="start">PCV</text>
<path transform="translate(31.5,160.5) rotate(0) scale(1.0)" d="M0,0 L0,7.4 L1.8,5.9 L3.0,8.3 L4.0,7.8 L2.9,5.5 L5.0,5.3 Z" fill="#fff"/>
<path transform="translate(56.6,175.5) rotate(0) scale(1.0)" d="M0,0 L0,7.4 L1.8,5.9 L3.0,8.3 L4.0,7.8 L2.9,5.5 L5.0,5.3 Z" fill="#fff"/>
<path transform="translate(84.7,175.5) rotate(0) scale(1.0)" d="M0,0 L0,7.4 L1.8,5.9 L3.0,8.3 L4.0,7.8 L2.9,5.5 L5.0,5.3 Z" fill="#fff"/>
<rect x="73" y="209.2" width="26" height="1.7" fill="#fff"/>
<g clip-path="url(#cpE)"><rect x="104" y="189.5" width="101.0" height="10.5" fill="#fff" fill-opacity="1.0" filter="url(#tA)"/><rect x="104" y="203" width="101.0" height="6.0" fill="#fff" fill-opacity="1.0" filter="url(#tB)"/><path d="M104.0,141.2 L205.0,141.2" fill="none" stroke="#129a12" stroke-width="5.3" stroke-opacity="0.50" stroke-linecap="round" stroke-linejoin="round"/><path d="M104.0,141.2 L205.0,141.2" fill="none" stroke="#2ee02e" stroke-width="2.3" stroke-opacity="0.85" stroke-linecap="round" stroke-linejoin="round"/><circle cx="104.1" cy="141.1" r="1.0" fill="#55ff55" fill-opacity="0.57"/><circle cx="106.3" cy="141.5" r="1.6" fill="#55ff55" fill-opacity="0.59"/><circle cx="108.6" cy="141.1" r="1.0" fill="#55ff55" fill-opacity="0.90"/><circle cx="111.1" cy="141.3" r="1.6" fill="#55ff55" fill-opacity="0.39"/><circle cx="112.9" cy="140.9" r="1.2" fill="#55ff55" fill-opacity="0.74"/><circle cx="115.5" cy="141.0" r="1.5" fill="#55ff55" fill-opacity="0.23"/><circle cx="117.5" cy="141.3" r="1.4" fill="#55ff55" fill-opacity="0.89"/><circle cx="119.3" cy="140.9" r="1.1" fill="#55ff55" fill-opacity="0.20"/><circle cx="122.0" cy="141.5" r="1.4" fill="#55ff55" fill-opacity="0.50"/><circle cx="124.3" cy="140.8" r="1.0" fill="#55ff55" fill-opacity="0.36"/><circle cx="126.1" cy="141.1" r="0.9" fill="#55ff55" fill-opacity="0.45"/><circle cx="128.8" cy="141.0" r="1.1" fill="#55ff55" fill-opacity="0.61"/><circle cx="130.6" cy="141.5" r="1.4" fill="#55ff55" fill-opacity="0.53"/><circle cx="132.9" cy="141.3" r="1.1" fill="#55ff55" fill-opacity="0.30"/><circle cx="135.3" cy="141.0" r="1.6" fill="#55ff55" fill-opacity="0.75"/><circle cx="137.7" cy="141.1" r="0.9" fill="#55ff55" fill-opacity="0.65"/><circle cx="140.3" cy="141.4" r="1.4" fill="#55ff55" fill-opacity="0.51"/><circle cx="141.8" cy="141.2" r="1.1" fill="#55ff55" fill-opacity="0.83"/><circle cx="144.0" cy="141.4" r="1.2" fill="#55ff55" fill-opacity="0.37"/><circle cx="147.0" cy="140.9" r="0.9" fill="#55ff55" fill-opacity="0.59"/><circle cx="148.9" cy="141.3" r="1.0" fill="#55ff55" fill-opacity="0.63"/><circle cx="151.0" cy="141.0" r="1.6" fill="#55ff55" fill-opacity="0.32"/><circle cx="153.6" cy="141.4" r="0.9" fill="#55ff55" fill-opacity="0.82"/><circle cx="155.8" cy="141.2" r="0.9" fill="#55ff55" fill-opacity="0.79"/><circle cx="157.6" cy="140.9" r="1.5" fill="#55ff55" fill-opacity="0.52"/><circle cx="160.0" cy="141.4" r="1.1" fill="#55ff55" fill-opacity="0.23"/><circle cx="162.5" cy="141.0" r="1.5" fill="#55ff55" fill-opacity="0.79"/><circle cx="164.8" cy="141.2" r="1.3" fill="#55ff55" fill-opacity="0.51"/><circle cx="167.2" cy="141.0" r="1.1" fill="#55ff55" fill-opacity="0.65"/><circle cx="168.9" cy="141.0" r="1.6" fill="#55ff55" fill-opacity="0.21"/><circle cx="171.5" cy="141.1" r="1.5" fill="#55ff55" fill-opacity="0.86"/><circle cx="173.4" cy="141.5" r="1.6" fill="#55ff55" fill-opacity="0.43"/><circle cx="176.0" cy="141.6" r="1.4" fill="#55ff55" fill-opacity="0.68"/><circle cx="178.2" cy="141.5" r="1.3" fill="#55ff55" fill-opacity="0.79"/><circle cx="180.4" cy="141.0" r="1.2" fill="#55ff55" fill-opacity="0.71"/><circle cx="182.2" cy="141.5" r="1.0" fill="#55ff55" fill-opacity="0.64"/><circle cx="184.5" cy="141.5" r="1.0" fill="#55ff55" fill-opacity="0.22"/><circle cx="186.7" cy="140.8" r="1.2" fill="#55ff55" fill-opacity="0.30"/><circle cx="189.4" cy="141.4" r="1.5" fill="#55ff55" fill-opacity="0.64"/><circle cx="191.4" cy="141.5" r="0.9" fill="#55ff55" fill-opacity="0.61"/><circle cx="193.4" cy="141.5" r="1.6" fill="#55ff55" fill-opacity="0.82"/><circle cx="195.7" cy="141.0" r="1.7" fill="#55ff55" fill-opacity="0.86"/><circle cx="198.5" cy="141.4" r="1.0" fill="#55ff55" fill-opacity="0.22"/><circle cx="200.6" cy="141.0" r="1.4" fill="#55ff55" fill-opacity="0.78"/><circle cx="203.0" cy="141.0" r="0.9" fill="#55ff55" fill-opacity="0.27"/><circle cx="204.6" cy="141.0" r="1.1" fill="#55ff55" fill-opacity="0.50"/><path d="M104.0,188.0 L205.0,188.0" fill="none" stroke="#129a12" stroke-width="5.8" stroke-opacity="0.50" stroke-linecap="round" stroke-linejoin="round"/><path d="M104.0,188.0 L205.0,188.0" fill="none" stroke="#2ee02e" stroke-width="2.5" stroke-opacity="0.85" stroke-linecap="round" stroke-linejoin="round"/><circle cx="103.9" cy="187.9" r="1.2" fill="#55ff55" fill-opacity="0.70"/><circle cx="106.5" cy="188.1" r="1.8" fill="#55ff55" fill-opacity="0.55"/><circle cx="108.4" cy="188.2" r="1.0" fill="#55ff55" fill-opacity="0.49"/><circle cx="110.8" cy="187.8" r="1.3" fill="#55ff55" fill-opacity="0.69"/><circle cx="113.2" cy="187.7" r="1.7" fill="#55ff55" fill-opacity="0.26"/><circle cx="115.4" cy="188.4" r="0.9" fill="#55ff55" fill-opacity="0.34"/><circle cx="117.5" cy="188.2" r="0.9" fill="#55ff55" fill-opacity="0.54"/><circle cx="119.6" cy="188.3" r="1.1" fill="#55ff55" fill-opacity="0.55"/><circle cx="121.8" cy="187.8" r="1.2" fill="#55ff55" fill-opacity="0.86"/><circle cx="123.9" cy="188.1" r="1.6" fill="#55ff55" fill-opacity="0.55"/><circle cx="126.6" cy="188.2" r="1.0" fill="#55ff55" fill-opacity="0.75"/><circle cx="128.6" cy="187.9" r="1.5" fill="#55ff55" fill-opacity="0.45"/><circle cx="131.2" cy="187.6" r="1.8" fill="#55ff55" fill-opacity="0.26"/><circle cx="133.5" cy="188.0" r="1.1" fill="#55ff55" fill-opacity="0.38"/><circle cx="135.2" cy="188.0" r="1.3" fill="#55ff55" fill-opacity="0.82"/><circle cx="137.9" cy="188.1" r="1.4" fill="#55ff55" fill-opacity="0.73"/><circle cx="139.6" cy="188.3" r="1.3" fill="#55ff55" fill-opacity="0.43"/><circle cx="141.9" cy="188.0" r="1.6" fill="#55ff55" fill-opacity="0.72"/><circle cx="144.1" cy="188.0" r="1.7" fill="#55ff55" fill-opacity="0.61"/><circle cx="146.4" cy="187.8" r="1.8" fill="#55ff55" fill-opacity="0.37"/><circle cx="148.6" cy="187.7" r="1.6" fill="#55ff55" fill-opacity="0.79"/><circle cx="151.2" cy="187.7" r="1.2" fill="#55ff55" fill-opacity="0.43"/><circle cx="153.8" cy="188.2" r="1.2" fill="#55ff55" fill-opacity="0.33"/><circle cx="155.3" cy="187.9" r="1.0" fill="#55ff55" fill-opacity="0.87"/><circle cx="158.1" cy="187.9" r="1.9" fill="#55ff55" fill-opacity="0.76"/><circle cx="159.8" cy="187.8" r="1.1" fill="#55ff55" fill-opacity="0.65"/><circle cx="162.3" cy="188.2" r="1.3" fill="#55ff55" fill-opacity="0.22"/><circle cx="164.7" cy="188.0" r="1.6" fill="#55ff55" fill-opacity="0.55"/><circle cx="166.8" cy="188.2" r="1.1" fill="#55ff55" fill-opacity="0.62"/><circle cx="169.1" cy="188.2" r="1.8" fill="#55ff55" fill-opacity="0.50"/><circle cx="171.5" cy="188.3" r="1.3" fill="#55ff55" fill-opacity="0.36"/><circle cx="173.9" cy="188.1" r="1.7" fill="#55ff55" fill-opacity="0.69"/><circle cx="175.7" cy="188.1" r="1.5" fill="#55ff55" fill-opacity="0.52"/><circle cx="178.3" cy="188.2" r="1.0" fill="#55ff55" fill-opacity="0.49"/><circle cx="180.2" cy="188.0" r="1.5" fill="#55ff55" fill-opacity="0.38"/><circle cx="182.7" cy="188.3" r="1.5" fill="#55ff55" fill-opacity="0.49"/><circle cx="185.0" cy="187.9" r="1.1" fill="#55ff55" fill-opacity="0.66"/><circle cx="186.7" cy="188.0" r="1.4" fill="#55ff55" fill-opacity="0.88"/><circle cx="189.6" cy="188.0" r="1.1" fill="#55ff55" fill-opacity="0.75"/><circle cx="191.6" cy="188.2" r="1.0" fill="#55ff55" fill-opacity="0.60"/><circle cx="194.0" cy="188.0" r="1.4" fill="#55ff55" fill-opacity="0.65"/><circle cx="195.8" cy="188.1" r="1.3" fill="#55ff55" fill-opacity="0.86"/><circle cx="198.0" cy="188.4" r="1.3" fill="#55ff55" fill-opacity="0.73"/><circle cx="200.3" cy="187.9" r="1.3" fill="#55ff55" fill-opacity="0.24"/><circle cx="202.7" cy="188.2" r="0.9" fill="#55ff55" fill-opacity="0.49"/><circle cx="204.8" cy="188.2" r="1.3" fill="#55ff55" fill-opacity="0.39"/><path d="M115.8,141.9 C115.0,144.1 112.4,150.3 111.0,155.0 C109.6,159.7 108.0,166.5 107.3,170.0 C106.5,173.5 106.2,173.9 106.5,176.0 C106.8,178.1 108.0,180.7 108.9,182.8 C109.8,184.9 111.4,187.7 111.9,188.7" fill="none" stroke="#129a12" stroke-width="4.6" stroke-opacity="0.50" stroke-linecap="round" stroke-linejoin="round"/><path d="M115.8,141.9 C115.0,144.1 112.4,150.3 111.0,155.0 C109.6,159.7 108.0,166.5 107.3,170.0 C106.5,173.5 106.2,173.9 106.5,176.0 C106.8,178.1 108.0,180.7 108.9,182.8 C109.8,184.9 111.4,187.7 111.9,188.7" fill="none" stroke="#2ee02e" stroke-width="2.0" stroke-opacity="0.85" stroke-linecap="round" stroke-linejoin="round"/><circle cx="115.6" cy="142.1" r="1.5" fill="#55ff55" fill-opacity="0.57"/><circle cx="114.7" cy="144.3" r="1.0" fill="#55ff55" fill-opacity="0.35"/><circle cx="114.2" cy="146.3" r="1.4" fill="#55ff55" fill-opacity="0.64"/><circle cx="113.3" cy="148.6" r="0.9" fill="#55ff55" fill-opacity="0.87"/><circle cx="112.6" cy="150.5" r="1.4" fill="#55ff55" fill-opacity="0.77"/><circle cx="112.1" cy="152.7" r="1.2" fill="#55ff55" fill-opacity="0.29"/><circle cx="110.9" cy="154.8" r="1.4" fill="#55ff55" fill-opacity="0.39"/><circle cx="110.1" cy="157.3" r="1.1" fill="#55ff55" fill-opacity="0.33"/><circle cx="109.8" cy="159.3" r="1.0" fill="#55ff55" fill-opacity="0.37"/><circle cx="109.5" cy="161.3" r="1.1" fill="#55ff55" fill-opacity="0.65"/><circle cx="108.5" cy="163.8" r="1.4" fill="#55ff55" fill-opacity="0.80"/><circle cx="108.1" cy="166.0" r="1.4" fill="#55ff55" fill-opacity="0.75"/><circle cx="107.4" cy="168.2" r="1.2" fill="#55ff55" fill-opacity="0.21"/><circle cx="107.0" cy="169.7" r="1.2" fill="#55ff55" fill-opacity="0.38"/><circle cx="106.8" cy="172.7" r="0.9" fill="#55ff55" fill-opacity="0.74"/><circle cx="106.2" cy="176.3" r="1.4" fill="#55ff55" fill-opacity="0.75"/><circle cx="107.4" cy="178.6" r="1.2" fill="#55ff55" fill-opacity="0.75"/><circle cx="107.9" cy="180.7" r="1.3" fill="#55ff55" fill-opacity="0.79"/><circle cx="108.9" cy="183.1" r="1.1" fill="#55ff55" fill-opacity="0.72"/><circle cx="109.7" cy="184.5" r="1.2" fill="#55ff55" fill-opacity="0.39"/><circle cx="110.9" cy="186.4" r="1.1" fill="#55ff55" fill-opacity="0.24"/><circle cx="111.9" cy="189.0" r="1.1" fill="#55ff55" fill-opacity="0.55"/><path d="M144.2,142.6 C143.2,144.7 140.2,151.3 138.5,155.0 C136.8,158.7 134.6,160.6 134.0,165.0 C133.4,169.4 133.8,177.4 134.8,181.3 C135.8,185.2 139.1,187.5 140.0,188.7" fill="none" stroke="#129a12" stroke-width="4.6" stroke-opacity="0.50" stroke-linecap="round" stroke-linejoin="round"/><path d="M144.2,142.6 C143.2,144.7 140.2,151.3 138.5,155.0 C136.8,158.7 134.6,160.6 134.0,165.0 C133.4,169.4 133.8,177.4 134.8,181.3 C135.8,185.2 139.1,187.5 140.0,188.7" fill="none" stroke="#2ee02e" stroke-width="2.0" stroke-opacity="0.85" stroke-linecap="round" stroke-linejoin="round"/><circle cx="144.2" cy="142.7" r="0.8" fill="#55ff55" fill-opacity="0.79"/><circle cx="143.1" cy="144.6" r="1.2" fill="#55ff55" fill-opacity="0.79"/><circle cx="142.4" cy="146.8" r="1.5" fill="#55ff55" fill-opacity="0.25"/><circle cx="141.5" cy="149.1" r="0.8" fill="#55ff55" fill-opacity="0.63"/><circle cx="140.4" cy="150.9" r="1.0" fill="#55ff55" fill-opacity="0.89"/><circle cx="139.6" cy="153.0" r="1.4" fill="#55ff55" fill-opacity="0.22"/><circle cx="138.4" cy="155.0" r="1.0" fill="#55ff55" fill-opacity="0.80"/><circle cx="137.1" cy="157.4" r="1.1" fill="#55ff55" fill-opacity="0.74"/><circle cx="136.5" cy="159.8" r="1.1" fill="#55ff55" fill-opacity="0.59"/><circle cx="135.1" cy="162.3" r="1.4" fill="#55ff55" fill-opacity="0.48"/><circle cx="134.1" cy="165.2" r="1.1" fill="#55ff55" fill-opacity="0.88"/><circle cx="134.0" cy="167.4" r="1.0" fill="#55ff55" fill-opacity="0.42"/><circle cx="133.9" cy="169.8" r="1.2" fill="#55ff55" fill-opacity="0.75"/><circle cx="134.0" cy="171.8" r="1.4" fill="#55ff55" fill-opacity="0.58"/><circle cx="134.8" cy="174.4" r="0.8" fill="#55ff55" fill-opacity="0.33"/><circle cx="134.9" cy="176.7" r="1.2" fill="#55ff55" fill-opacity="0.75"/><circle cx="134.8" cy="179.0" r="1.2" fill="#55ff55" fill-opacity="0.64"/><circle cx="134.9" cy="181.3" r="1.3" fill="#55ff55" fill-opacity="0.35"/><circle cx="135.8" cy="182.8" r="1.3" fill="#55ff55" fill-opacity="0.27"/><circle cx="137.5" cy="184.9" r="1.3" fill="#55ff55" fill-opacity="0.84"/><circle cx="138.7" cy="186.7" r="1.4" fill="#55ff55" fill-opacity="0.75"/><circle cx="139.9" cy="188.6" r="1.0" fill="#55ff55" fill-opacity="0.50"/><path d="M169.0,140.5 C168.8,142.2 168.7,146.3 167.6,150.4 C166.5,154.5 164.0,161.1 162.4,165.0 C160.8,168.9 157.9,171.2 158.0,173.9 C158.1,176.6 161.3,178.5 163.0,181.0 C164.7,183.5 167.4,187.4 168.3,188.7" fill="none" stroke="#129a12" stroke-width="4.6" stroke-opacity="0.50" stroke-linecap="round" stroke-linejoin="round"/><path d="M169.0,140.5 C168.8,142.2 168.7,146.3 167.6,150.4 C166.5,154.5 164.0,161.1 162.4,165.0 C160.8,168.9 157.9,171.2 158.0,173.9 C158.1,176.6 161.3,178.5 163.0,181.0 C164.7,183.5 167.4,187.4 168.3,188.7" fill="none" stroke="#2ee02e" stroke-width="2.0" stroke-opacity="0.85" stroke-linecap="round" stroke-linejoin="round"/><circle cx="168.6" cy="140.6" r="1.2" fill="#55ff55" fill-opacity="0.85"/><circle cx="168.9" cy="143.0" r="0.8" fill="#55ff55" fill-opacity="0.28"/><circle cx="167.9" cy="145.4" r="1.4" fill="#55ff55" fill-opacity="0.51"/><circle cx="168.3" cy="147.9" r="1.2" fill="#55ff55" fill-opacity="0.86"/><circle cx="167.7" cy="150.2" r="1.1" fill="#55ff55" fill-opacity="0.27"/><circle cx="166.5" cy="152.6" r="0.9" fill="#55ff55" fill-opacity="0.21"/><circle cx="165.8" cy="154.9" r="0.8" fill="#55ff55" fill-opacity="0.88"/><circle cx="165.5" cy="156.5" r="0.8" fill="#55ff55" fill-opacity="0.21"/><circle cx="164.3" cy="159.0" r="1.3" fill="#55ff55" fill-opacity="0.33"/><circle cx="164.1" cy="160.5" r="1.3" fill="#55ff55" fill-opacity="0.80"/><circle cx="163.1" cy="163.3" r="1.2" fill="#55ff55" fill-opacity="0.70"/><circle cx="162.6" cy="164.6" r="0.9" fill="#55ff55" fill-opacity="0.88"/><circle cx="161.6" cy="166.9" r="0.8" fill="#55ff55" fill-opacity="0.66"/><circle cx="159.9" cy="169.7" r="1.0" fill="#55ff55" fill-opacity="0.71"/><circle cx="159.0" cy="171.7" r="1.1" fill="#55ff55" fill-opacity="0.24"/><circle cx="157.7" cy="174.1" r="1.1" fill="#55ff55" fill-opacity="0.67"/><circle cx="159.8" cy="176.2" r="1.0" fill="#55ff55" fill-opacity="0.65"/><circle cx="161.7" cy="178.9" r="1.0" fill="#55ff55" fill-opacity="0.75"/><circle cx="162.6" cy="181.4" r="1.2" fill="#55ff55" fill-opacity="0.40"/><circle cx="164.2" cy="183.0" r="1.3" fill="#55ff55" fill-opacity="0.78"/><circle cx="165.7" cy="184.7" r="1.5" fill="#55ff55" fill-opacity="0.78"/><circle cx="166.9" cy="186.9" r="1.1" fill="#55ff55" fill-opacity="0.82"/><circle cx="168.5" cy="188.5" r="1.2" fill="#55ff55" fill-opacity="0.83"/><path d="M180.4,140.5 C179.7,142.1 177.2,146.9 176.0,150.0 C174.8,153.1 173.8,157.5 173.3,159.0" fill="none" stroke="#2ee02e" stroke-width="1.0" stroke-opacity="0.42" stroke-linecap="round" stroke-linejoin="round"/><path d="M196.0,140.5 C195.5,143.3 194.6,152.6 193.2,157.5 C191.8,162.4 188.2,166.8 187.5,170.0 C186.8,173.2 187.8,173.9 189.0,176.8 C190.2,179.7 193.9,185.5 194.9,187.2" fill="none" stroke="#129a12" stroke-width="4.6" stroke-opacity="0.50" stroke-linecap="round" stroke-linejoin="round"/><path d="M196.0,140.5 C195.5,143.3 194.6,152.6 193.2,157.5 C191.8,162.4 188.2,166.8 187.5,170.0 C186.8,173.2 187.8,173.9 189.0,176.8 C190.2,179.7 193.9,185.5 194.9,187.2" fill="none" stroke="#2ee02e" stroke-width="2.0" stroke-opacity="0.85" stroke-linecap="round" stroke-linejoin="round"/><circle cx="195.9" cy="140.6" r="0.8" fill="#55ff55" fill-opacity="0.38"/><circle cx="195.2" cy="143.2" r="1.4" fill="#55ff55" fill-opacity="0.82"/><circle cx="195.3" cy="145.2" r="1.4" fill="#55ff55" fill-opacity="0.81"/><circle cx="194.9" cy="148.1" r="1.4" fill="#55ff55" fill-opacity="0.76"/><circle cx="194.4" cy="150.5" r="1.0" fill="#55ff55" fill-opacity="0.26"/><circle cx="194.3" cy="152.4" r="0.9" fill="#55ff55" fill-opacity="0.73"/><circle cx="193.6" cy="154.8" r="1.2" fill="#55ff55" fill-opacity="0.67"/><circle cx="193.4" cy="157.5" r="0.9" fill="#55ff55" fill-opacity="0.73"/><circle cx="192.5" cy="159.4" r="0.8" fill="#55ff55" fill-opacity="0.76"/><circle cx="191.6" cy="161.7" r="1.2" fill="#55ff55" fill-opacity="0.83"/><circle cx="190.1" cy="163.5" r="1.1" fill="#55ff55" fill-opacity="0.61"/><circle cx="189.3" cy="165.9" r="0.9" fill="#55ff55" fill-opacity="0.69"/><circle cx="188.2" cy="167.6" r="1.1" fill="#55ff55" fill-opacity="0.56"/><circle cx="187.2" cy="170.1" r="1.5" fill="#55ff55" fill-opacity="0.46"/><circle cx="188.1" cy="172.1" r="1.3" fill="#55ff55" fill-opacity="0.31"/><circle cx="188.1" cy="174.9" r="1.1" fill="#55ff55" fill-opacity="0.21"/><circle cx="189.1" cy="176.6" r="1.4" fill="#55ff55" fill-opacity="0.54"/><circle cx="190.5" cy="179.1" r="1.3" fill="#55ff55" fill-opacity="0.50"/><circle cx="191.2" cy="180.6" r="1.4" fill="#55ff55" fill-opacity="0.87"/><circle cx="192.2" cy="182.7" r="0.9" fill="#55ff55" fill-opacity="0.33"/><circle cx="193.7" cy="185.5" r="1.2" fill="#55ff55" fill-opacity="0.81"/><circle cx="195.0" cy="187.1" r="1.4" fill="#55ff55" fill-opacity="0.24"/></g>
<text x="107.6" y="135.8" font-size="11.5" font-weight="bold" fill="#fff" text-anchor="start">E</text>
<text x="172" y="134.2" font-size="8" fill="#fff" text-anchor="start">Nrp2a<tspan font-size="4.7" dy="-2.6">KD</tspan></text>
<text x="132" y="154.7" font-size="8" font-weight="bold" fill="#fff" text-anchor="start">ISV</text>
<path d="M123.70,168.40 L123.70,172.60 M121.88,169.45 L125.52,171.55 M121.88,171.55 L125.52,169.45 " stroke="#aaa3b2" stroke-width="1.3" fill="none"/>
<path d="M150.30,168.40 L150.30,172.60 M148.48,169.45 L152.12,171.55 M148.48,171.55 L152.12,169.45 " stroke="#aaa3b2" stroke-width="1.3" fill="none"/>
<path d="M175.70,168.20 L175.70,172.40 M173.88,169.25 L177.52,171.35 M173.88,171.35 L177.52,169.25 " stroke="#aaa3b2" stroke-width="1.3" fill="none"/>
<text x="111.9" y="191.6" font-size="8" font-weight="bold" fill="#fff" text-anchor="start">DA</text>
<text x="109.7" y="199.7" font-size="8" font-weight="bold" fill="#fff" text-anchor="start">PCV</text>
<rect x="175" y="197.5" width="26.599999999999994" height="1.7" fill="#fff"/>
<g clip-path="url(#cpF)"><rect x="206" y="174" width="104.0" height="37.6" fill="#fff" fill-opacity="0.45" filter="url(#tD)"/><rect x="284" y="200" width="26.0" height="9.0" fill="#fff" fill-opacity="1.0" filter="url(#tA)"/><path d="M206.0,132.0 C207.7,131.7 210.3,130.5 216.0,130.3 C221.7,130.1 232.7,130.7 240.0,130.8 C247.3,130.9 248.3,130.9 260.0,131.0 C271.7,131.1 301.7,131.2 310.0,131.3" fill="none" stroke="#129a12" stroke-width="3.2" stroke-opacity="0.50" stroke-linecap="round" stroke-linejoin="round"/><path d="M206.0,132.0 C207.7,131.7 210.3,130.5 216.0,130.3 C221.7,130.1 232.7,130.7 240.0,130.8 C247.3,130.9 248.3,130.9 260.0,131.0 C271.7,131.1 301.7,131.2 310.0,131.3" fill="none" stroke="#2ee02e" stroke-width="1.4" stroke-opacity="0.85" stroke-linecap="round" stroke-linejoin="round"/><circle cx="205.8" cy="132.1" r="0.6" fill="#55ff55" fill-opacity="0.87"/><circle cx="208.6" cy="131.5" r="0.9" fill="#55ff55" fill-opacity="0.87"/><circle cx="211.4" cy="131.5" r="0.8" fill="#55ff55" fill-opacity="0.31"/><circle cx="213.3" cy="130.6" r="0.6" fill="#55ff55" fill-opacity="0.23"/><circle cx="216.3" cy="129.9" r="1.0" fill="#55ff55" fill-opacity="0.83"/><circle cx="218.5" cy="130.7" r="0.9" fill="#55ff55" fill-opacity="0.70"/><circle cx="221.0" cy="130.8" r="0.6" fill="#55ff55" fill-opacity="0.30"/><circle cx="223.3" cy="130.7" r="0.9" fill="#55ff55" fill-opacity="0.41"/><circle cx="225.4" cy="130.2" r="0.6" fill="#55ff55" fill-opacity="0.43"/><circle cx="227.8" cy="130.3" r="0.8" fill="#55ff55" fill-opacity="0.32"/><circle cx="230.6" cy="130.4" r="0.9" fill="#55ff55" fill-opacity="0.21"/><circle cx="232.6" cy="131.0" r="0.5" fill="#55ff55" fill-opacity="0.85"/><circle cx="234.9" cy="130.7" r="1.0" fill="#55ff55" fill-opacity="0.82"/><circle cx="237.9" cy="130.9" r="0.6" fill="#55ff55" fill-opacity="0.85"/><circle cx="240.3" cy="130.8" r="0.8" fill="#55ff55" fill-opacity="0.44"/><circle cx="242.0" cy="130.5" r="0.9" fill="#55ff55" fill-opacity="0.30"/><circle cx="244.2" cy="131.1" r="0.9" fill="#55ff55" fill-opacity="0.59"/><circle cx="246.4" cy="130.7" r="0.7" fill="#55ff55" fill-opacity="0.49"/><circle cx="248.6" cy="130.9" r="1.0" fill="#55ff55" fill-opacity="0.43"/><circle cx="250.8" cy="131.3" r="0.7" fill="#55ff55" fill-opacity="0.83"/><circle cx="253.5" cy="130.7" r="0.6" fill="#55ff55" fill-opacity="0.83"/><circle cx="255.4" cy="130.7" r="0.8" fill="#55ff55" fill-opacity="0.40"/><circle cx="258.2" cy="131.3" r="0.7" fill="#55ff55" fill-opacity="0.89"/><circle cx="260.3" cy="130.6" r="0.6" fill="#55ff55" fill-opacity="0.40"/><circle cx="262.7" cy="130.6" r="0.9" fill="#55ff55" fill-opacity="0.41"/><circle cx="264.3" cy="130.6" r="0.9" fill="#55ff55" fill-opacity="0.44"/><circle cx="266.6" cy="131.0" r="1.0" fill="#55ff55" fill-opacity="0.57"/><circle cx="269.1" cy="130.8" r="1.0" fill="#55ff55" fill-opacity="0.35"/><circle cx="271.5" cy="130.8" r="0.6" fill="#55ff55" fill-opacity="0.74"/><circle cx="273.7" cy="131.1" r="0.6" fill="#55ff55" fill-opacity="0.26"/><circle cx="276.0" cy="131.3" r="0.7" fill="#55ff55" fill-opacity="0.34"/><circle cx="277.9" cy="130.8" r="1.0" fill="#55ff55" fill-opacity="0.61"/><circle cx="280.6" cy="130.8" r="0.9" fill="#55ff55" fill-opacity="0.49"/><circle cx="283.0" cy="131.4" r="1.0" fill="#55ff55" fill-opacity="0.43"/><circle cx="285.3" cy="131.1" r="0.8" fill="#55ff55" fill-opacity="0.21"/><circle cx="287.0" cy="131.4" r="1.0" fill="#55ff55" fill-opacity="0.39"/><circle cx="289.4" cy="131.3" r="0.7" fill="#55ff55" fill-opacity="0.31"/><circle cx="291.8" cy="131.2" r="0.5" fill="#55ff55" fill-opacity="0.56"/><circle cx="294.3" cy="131.5" r="0.6" fill="#55ff55" fill-opacity="0.70"/><circle cx="296.3" cy="131.4" r="0.7" fill="#55ff55" fill-opacity="0.70"/><circle cx="299.0" cy="131.2" r="0.6" fill="#55ff55" fill-opacity="0.81"/><circle cx="300.9" cy="130.9" r="0.8" fill="#55ff55" fill-opacity="0.57"/><circle cx="302.9" cy="130.9" r="1.0" fill="#55ff55" fill-opacity="0.36"/><circle cx="305.1" cy="130.9" r="0.7" fill="#55ff55" fill-opacity="0.77"/><circle cx="307.3" cy="131.4" r="0.9" fill="#55ff55" fill-opacity="0.34"/><circle cx="310.2" cy="131.0" r="0.8" fill="#55ff55" fill-opacity="0.57"/><path d="M206.0,159.4 L310.0,158.6" fill="none" stroke="#129a12" stroke-width="4.1" stroke-opacity="0.50" stroke-linecap="round" stroke-linejoin="round"/><path d="M206.0,159.4 L310.0,158.6" fill="none" stroke="#2ee02e" stroke-width="1.8" stroke-opacity="0.85" stroke-linecap="round" stroke-linejoin="round"/><circle cx="205.6" cy="159.1" r="1.3" fill="#55ff55" fill-opacity="0.70"/><circle cx="208.0" cy="159.1" r="1.0" fill="#55ff55" fill-opacity="0.55"/><circle cx="210.5" cy="159.7" r="0.9" fill="#55ff55" fill-opacity="0.30"/><circle cx="212.8" cy="159.1" r="0.8" fill="#55ff55" fill-opacity="0.60"/><circle cx="214.8" cy="159.3" r="1.2" fill="#55ff55" fill-opacity="0.86"/><circle cx="217.0" cy="159.7" r="1.2" fill="#55ff55" fill-opacity="0.57"/><circle cx="219.1" cy="159.2" r="1.2" fill="#55ff55" fill-opacity="0.44"/><circle cx="221.7" cy="159.6" r="1.0" fill="#55ff55" fill-opacity="0.89"/><circle cx="223.3" cy="159.3" r="1.2" fill="#55ff55" fill-opacity="0.79"/><circle cx="225.7" cy="159.2" r="1.3" fill="#55ff55" fill-opacity="0.85"/><circle cx="228.2" cy="158.9" r="1.1" fill="#55ff55" fill-opacity="0.46"/><circle cx="230.0" cy="158.9" r="1.0" fill="#55ff55" fill-opacity="0.55"/><circle cx="232.9" cy="159.3" r="1.3" fill="#55ff55" fill-opacity="0.74"/><circle cx="235.1" cy="158.8" r="1.2" fill="#55ff55" fill-opacity="0.82"/><circle cx="237.1" cy="159.0" r="1.1" fill="#55ff55" fill-opacity="0.39"/><circle cx="239.3" cy="158.9" r="1.0" fill="#55ff55" fill-opacity="0.85"/><circle cx="241.8" cy="159.0" r="1.0" fill="#55ff55" fill-opacity="0.50"/><circle cx="243.3" cy="159.2" r="0.9" fill="#55ff55" fill-opacity="0.65"/><circle cx="245.6" cy="159.1" r="1.3" fill="#55ff55" fill-opacity="0.56"/><circle cx="247.7" cy="158.8" r="1.0" fill="#55ff55" fill-opacity="0.30"/><circle cx="250.1" cy="158.9" r="0.9" fill="#55ff55" fill-opacity="0.48"/><circle cx="252.7" cy="159.1" r="0.7" fill="#55ff55" fill-opacity="0.58"/><circle cx="254.4" cy="159.2" r="1.1" fill="#55ff55" fill-opacity="0.66"/><circle cx="257.0" cy="159.0" r="1.0" fill="#55ff55" fill-opacity="0.58"/><circle cx="258.9" cy="159.0" r="0.9" fill="#55ff55" fill-opacity="0.37"/><circle cx="260.9" cy="158.9" r="0.9" fill="#55ff55" fill-opacity="0.61"/><circle cx="263.6" cy="159.0" r="1.3" fill="#55ff55" fill-opacity="0.37"/><circle cx="265.6" cy="159.2" r="0.9" fill="#55ff55" fill-opacity="0.89"/><circle cx="268.3" cy="158.9" r="0.8" fill="#55ff55" fill-opacity="0.25"/><circle cx="270.1" cy="159.1" r="0.7" fill="#55ff55" fill-opacity="0.47"/><circle cx="272.8" cy="159.1" r="0.7" fill="#55ff55" fill-opacity="0.36"/><circle cx="274.5" cy="159.0" r="0.8" fill="#55ff55" fill-opacity="0.44"/><circle cx="277.1" cy="158.9" r="1.1" fill="#55ff55" fill-opacity="0.79"/><circle cx="279.2" cy="158.8" r="1.2" fill="#55ff55" fill-opacity="0.72"/><circle cx="281.6" cy="158.5" r="1.2" fill="#55ff55" fill-opacity="0.70"/><circle cx="283.7" cy="158.9" r="1.3" fill="#55ff55" fill-opacity="0.20"/><circle cx="285.7" cy="158.7" r="1.0" fill="#55ff55" fill-opacity="0.87"/><circle cx="288.0" cy="158.7" r="1.2" fill="#55ff55" fill-opacity="0.81"/><circle cx="290.3" cy="158.6" r="1.0" fill="#55ff55" fill-opacity="0.52"/><circle cx="292.2" cy="158.6" r="0.9" fill="#55ff55" fill-opacity="0.59"/><circle cx="294.5" cy="158.7" r="1.2" fill="#55ff55" fill-opacity="0.79"/><circle cx="296.4" cy="158.8" r="0.8" fill="#55ff55" fill-opacity="0.41"/><circle cx="299.3" cy="158.5" r="1.1" fill="#55ff55" fill-opacity="0.26"/><circle cx="301.5" cy="158.4" r="1.2" fill="#55ff55" fill-opacity="0.79"/><circle cx="303.0" cy="158.3" r="1.0" fill="#55ff55" fill-opacity="0.84"/><circle cx="305.9" cy="158.9" r="1.1" fill="#55ff55" fill-opacity="0.55"/><circle cx="307.8" cy="158.6" r="1.0" fill="#55ff55" fill-opacity="0.90"/><circle cx="309.9" cy="158.7" r="1.1" fill="#55ff55" fill-opacity="0.47"/><path d="M210.7,131.0 C211.1,132.5 212.3,137.2 213.0,140.0 C213.7,142.8 214.9,144.4 215.0,147.6 C215.1,150.8 213.8,157.1 213.5,159.0" fill="none" stroke="#129a12" stroke-width="3.0" stroke-opacity="0.50" stroke-linecap="round" stroke-linejoin="round"/><path d="M210.7,131.0 C211.1,132.5 212.3,137.2 213.0,140.0 C213.7,142.8 214.9,144.4 215.0,147.6 C215.1,150.8 213.8,157.1 213.5,159.0" fill="none" stroke="#2ee02e" stroke-width="1.3" stroke-opacity="0.85" stroke-linecap="round" stroke-linejoin="round"/><circle cx="210.8" cy="131.0" r="0.7" fill="#55ff55" fill-opacity="0.86"/><circle cx="211.2" cy="133.3" r="0.5" fill="#55ff55" fill-opacity="0.46"/><circle cx="212.2" cy="135.5" r="0.8" fill="#55ff55" fill-opacity="0.82"/><circle cx="212.8" cy="137.6" r="0.7" fill="#55ff55" fill-opacity="0.64"/><circle cx="212.7" cy="139.9" r="0.7" fill="#55ff55" fill-opacity="0.77"/><circle cx="213.7" cy="142.2" r="1.0" fill="#55ff55" fill-opacity="0.78"/><circle cx="214.6" cy="145.5" r="0.9" fill="#55ff55" fill-opacity="0.68"/><circle cx="214.7" cy="147.4" r="0.9" fill="#55ff55" fill-opacity="0.49"/><circle cx="214.5" cy="149.6" r="0.7" fill="#55ff55" fill-opacity="0.55"/><circle cx="214.3" cy="152.6" r="0.8" fill="#55ff55" fill-opacity="0.62"/><circle cx="214.0" cy="154.7" r="0.8" fill="#55ff55" fill-opacity="0.23"/><circle cx="213.4" cy="156.6" r="0.6" fill="#55ff55" fill-opacity="0.68"/><circle cx="213.6" cy="158.8" r="0.9" fill="#55ff55" fill-opacity="0.61"/><path d="M241.2,131.2 C241.8,133.2 244.0,139.2 244.8,143.3 C245.6,147.5 246.2,153.4 246.2,156.1 C246.2,158.8 245.0,158.8 244.8,159.3" fill="none" stroke="#129a12" stroke-width="3.0" stroke-opacity="0.50" stroke-linecap="round" stroke-linejoin="round"/><path d="M241.2,131.2 C241.8,133.2 244.0,139.2 244.8,143.3 C245.6,147.5 246.2,153.4 246.2,156.1 C246.2,158.8 245.0,158.8 244.8,159.3" fill="none" stroke="#2ee02e" stroke-width="1.3" stroke-opacity="0.85" stroke-linecap="round" stroke-linejoin="round"/><circle cx="241.0" cy="131.3" r="0.7" fill="#55ff55" fill-opacity="0.59"/><circle cx="242.0" cy="133.5" r="0.7" fill="#55ff55" fill-opacity="0.90"/><circle cx="242.8" cy="135.7" r="0.5" fill="#55ff55" fill-opacity="0.31"/><circle cx="243.4" cy="138.7" r="0.5" fill="#55ff55" fill-opacity="0.32"/><circle cx="243.7" cy="140.5" r="0.8" fill="#55ff55" fill-opacity="0.76"/><circle cx="245.0" cy="143.2" r="0.9" fill="#55ff55" fill-opacity="0.43"/><circle cx="244.8" cy="146.2" r="0.6" fill="#55ff55" fill-opacity="0.39"/><circle cx="245.3" cy="148.3" r="0.8" fill="#55ff55" fill-opacity="0.44"/><circle cx="245.7" cy="151.3" r="0.5" fill="#55ff55" fill-opacity="0.82"/><circle cx="245.7" cy="153.2" r="0.7" fill="#55ff55" fill-opacity="0.63"/><circle cx="246.1" cy="156.4" r="0.9" fill="#55ff55" fill-opacity="0.80"/><circle cx="244.9" cy="159.7" r="0.9" fill="#55ff55" fill-opacity="0.41"/><path d="M279.7,131.5 C280.1,133.0 281.8,136.2 281.9,140.5 C282.0,144.8 280.8,154.4 280.4,157.5 C280.0,160.6 279.8,159.0 279.7,159.3" fill="none" stroke="#129a12" stroke-width="3.0" stroke-opacity="0.50" stroke-linecap="round" stroke-linejoin="round"/><path d="M279.7,131.5 C280.1,133.0 281.8,136.2 281.9,140.5 C282.0,144.8 280.8,154.4 280.4,157.5 C280.0,160.6 279.8,159.0 279.7,159.3" fill="none" stroke="#2ee02e" stroke-width="1.3" stroke-opacity="0.85" stroke-linecap="round" stroke-linejoin="round"/><circle cx="279.5" cy="131.4" r="0.7" fill="#55ff55" fill-opacity="0.86"/><circle cx="280.1" cy="134.1" r="0.8" fill="#55ff55" fill-opacity="0.35"/><circle cx="280.6" cy="135.7" r="0.7" fill="#55ff55" fill-opacity="0.75"/><circle cx="281.7" cy="138.1" r="0.7" fill="#55ff55" fill-opacity="0.33"/><circle cx="281.9" cy="140.4" r="0.8" fill="#55ff55" fill-opacity="0.28"/><circle cx="281.4" cy="143.2" r="0.7" fill="#55ff55" fill-opacity="0.25"/><circle cx="281.2" cy="145.2" r="0.7" fill="#55ff55" fill-opacity="0.37"/><circle cx="281.4" cy="147.7" r="0.6" fill="#55ff55" fill-opacity="0.22"/><circle cx="280.7" cy="150.0" r="0.6" fill="#55ff55" fill-opacity="0.69"/><circle cx="280.8" cy="152.9" r="0.9" fill="#55ff55" fill-opacity="0.29"/><circle cx="280.5" cy="155.2" r="0.9" fill="#55ff55" fill-opacity="0.31"/><circle cx="280.2" cy="157.9" r="0.7" fill="#55ff55" fill-opacity="0.87"/><circle cx="279.7" cy="159.0" r="0.7" fill="#55ff55" fill-opacity="0.36"/><path d="M303.9,140.5 C301.6,142.4 294.3,148.0 290.0,152.0 C285.7,156.0 281.4,161.6 278.3,164.6 C275.2,167.6 272.4,169.1 271.2,170.0" fill="none" stroke="#129a12" stroke-width="3.0" stroke-opacity="0.50" stroke-linecap="round" stroke-linejoin="round"/><path d="M303.9,140.5 C301.6,142.4 294.3,148.0 290.0,152.0 C285.7,156.0 281.4,161.6 278.3,164.6 C275.2,167.6 272.4,169.1 271.2,170.0" fill="none" stroke="#2ee02e" stroke-width="1.3" stroke-opacity="0.85" stroke-linecap="round" stroke-linejoin="round"/><circle cx="304.2" cy="140.6" r="0.8" fill="#55ff55" fill-opacity="0.38"/><circle cx="302.2" cy="141.7" r="0.7" fill="#55ff55" fill-opacity="0.37"/><circle cx="300.4" cy="143.4" r="0.9" fill="#55ff55" fill-opacity="0.29"/><circle cx="298.6" cy="144.9" r="0.6" fill="#55ff55" fill-opacity="0.74"/><circle cx="296.9" cy="145.9" r="0.8" fill="#55ff55" fill-opacity="0.42"/><circle cx="295.1" cy="147.8" r="0.6" fill="#55ff55" fill-opacity="0.80"/><circle cx="293.4" cy="149.1" r="0.5" fill="#55ff55" fill-opacity="0.59"/><circle cx="291.6" cy="150.3" r="0.6" fill="#55ff55" fill-opacity="0.25"/><circle cx="289.8" cy="151.9" r="0.5" fill="#55ff55" fill-opacity="0.70"/><circle cx="288.6" cy="154.1" r="0.9" fill="#55ff55" fill-opacity="0.74"/><circle cx="286.3" cy="155.7" r="0.6" fill="#55ff55" fill-opacity="0.39"/><circle cx="284.9" cy="157.5" r="0.8" fill="#55ff55" fill-opacity="0.45"/><circle cx="283.6" cy="159.1" r="0.8" fill="#55ff55" fill-opacity="0.37"/><circle cx="281.3" cy="161.3" r="0.8" fill="#55ff55" fill-opacity="0.33"/><circle cx="279.6" cy="162.4" r="0.8" fill="#55ff55" fill-opacity="0.70"/><circle cx="278.1" cy="164.5" r="0.6" fill="#55ff55" fill-opacity="0.34"/><circle cx="276.6" cy="165.7" r="0.5" fill="#55ff55" fill-opacity="0.42"/><circle cx="274.9" cy="167.1" r="0.9" fill="#55ff55" fill-opacity="0.60"/><circle cx="272.9" cy="168.3" r="0.7" fill="#55ff55" fill-opacity="0.68"/><circle cx="271.0" cy="169.6" r="0.9" fill="#55ff55" fill-opacity="0.74"/><path d="M244.8,159.3 C244.0,161.1 240.9,166.9 239.8,170.0 C238.7,173.1 237.3,175.3 238.0,178.0 C238.7,180.7 243.0,184.7 244.0,186.0" fill="none" stroke="#129a12" stroke-width="3.0" stroke-opacity="0.50" stroke-linecap="round" stroke-linejoin="round"/><path d="M244.8,159.3 C244.0,161.1 240.9,166.9 239.8,170.0 C238.7,173.1 237.3,175.3 238.0,178.0 C238.7,180.7 243.0,184.7 244.0,186.0" fill="none" stroke="#2ee02e" stroke-width="1.3" stroke-opacity="0.85" stroke-linecap="round" stroke-linejoin="round"/><circle cx="244.4" cy="159.1" r="0.9" fill="#55ff55" fill-opacity="0.63"/><circle cx="243.6" cy="161.8" r="0.5" fill="#55ff55" fill-opacity="0.75"/><circle cx="243.0" cy="163.5" r="0.9" fill="#55ff55" fill-opacity="0.26"/><circle cx="241.6" cy="165.4" r="0.9" fill="#55ff55" fill-opacity="0.78"/><circle cx="241.1" cy="168.0" r="0.9" fill="#55ff55" fill-opacity="0.50"/><circle cx="239.9" cy="170.0" r="0.8" fill="#55ff55" fill-opacity="0.78"/><circle cx="239.1" cy="172.7" r="0.5" fill="#55ff55" fill-opacity="0.69"/><circle cx="238.8" cy="175.0" r="0.9" fill="#55ff55" fill-opacity="0.29"/><circle cx="237.8" cy="178.0" r="0.8" fill="#55ff55" fill-opacity="0.76"/><circle cx="239.5" cy="179.8" r="1.0" fill="#55ff55" fill-opacity="0.65"/><circle cx="240.9" cy="181.8" r="0.5" fill="#55ff55" fill-opacity="0.45"/><circle cx="242.7" cy="184.1" r="0.6" fill="#55ff55" fill-opacity="0.30"/><circle cx="244.0" cy="186.0" r="0.6" fill="#55ff55" fill-opacity="0.37"/><path d="M271.8,165.0 C272.3,167.0 273.4,174.1 274.8,176.8 C276.2,179.5 279.1,180.3 280.0,181.0" fill="none" stroke="#129a12" stroke-width="3.0" stroke-opacity="0.50" stroke-linecap="round" stroke-linejoin="round"/><path d="M271.8,165.0 C272.3,167.0 273.4,174.1 274.8,176.8 C276.2,179.5 279.1,180.3 280.0,181.0" fill="none" stroke="#2ee02e" stroke-width="1.3" stroke-opacity="0.85" stroke-linecap="round" stroke-linejoin="round"/><circle cx="271.6" cy="165.3" r="0.9" fill="#55ff55" fill-opacity="0.45"/><circle cx="272.3" cy="167.6" r="0.6" fill="#55ff55" fill-opacity="0.59"/><circle cx="272.7" cy="169.9" r="0.8" fill="#55ff55" fill-opacity="0.73"/><circle cx="273.8" cy="172.3" r="0.8" fill="#55ff55" fill-opacity="0.52"/><circle cx="274.1" cy="174.2" r="0.5" fill="#55ff55" fill-opacity="0.40"/><circle cx="274.6" cy="177.0" r="0.5" fill="#55ff55" fill-opacity="0.40"/><circle cx="276.4" cy="178.2" r="0.7" fill="#55ff55" fill-opacity="0.28"/><circle cx="277.9" cy="179.2" r="0.7" fill="#55ff55" fill-opacity="0.32"/><circle cx="279.7" cy="181.2" r="1.0" fill="#55ff55" fill-opacity="0.73"/><path d="M213.5,159.0 C212.8,160.5 209.2,164.8 209.0,168.0 C208.8,171.2 209.5,173.7 212.0,178.0 C214.5,182.3 222.0,191.3 224.0,194.0" fill="none" stroke="#129a12" stroke-width="3.2" stroke-opacity="0.40" stroke-linecap="round" stroke-linejoin="round"/><path d="M213.5,159.0 C212.8,160.5 209.2,164.8 209.0,168.0 C208.8,171.2 209.5,173.7 212.0,178.0 C214.5,182.3 222.0,191.3 224.0,194.0" fill="none" stroke="#2ee02e" stroke-width="1.4" stroke-opacity="0.68" stroke-linecap="round" stroke-linejoin="round"/><circle cx="213.2" cy="159.0" r="1.0" fill="#55ff55" fill-opacity="0.48"/><circle cx="212.4" cy="160.9" r="0.8" fill="#55ff55" fill-opacity="0.27"/><circle cx="211.4" cy="163.8" r="1.0" fill="#55ff55" fill-opacity="0.52"/><circle cx="209.9" cy="165.5" r="0.9" fill="#55ff55" fill-opacity="0.30"/><circle cx="209.3" cy="167.8" r="0.5" fill="#55ff55" fill-opacity="0.59"/><circle cx="210.0" cy="170.8" r="0.6" fill="#55ff55" fill-opacity="0.52"/><circle cx="210.8" cy="173.2" r="0.6" fill="#55ff55" fill-opacity="0.60"/><circle cx="211.5" cy="175.4" r="0.7" fill="#55ff55" fill-opacity="0.26"/><circle cx="211.9" cy="178.3" r="0.7" fill="#55ff55" fill-opacity="0.47"/><circle cx="213.4" cy="179.9" r="0.7" fill="#55ff55" fill-opacity="0.18"/><circle cx="215.0" cy="181.9" r="1.0" fill="#55ff55" fill-opacity="0.56"/><circle cx="215.7" cy="183.2" r="0.8" fill="#55ff55" fill-opacity="0.44"/><circle cx="217.5" cy="184.8" r="0.8" fill="#55ff55" fill-opacity="0.20"/><circle cx="218.3" cy="186.5" r="0.8" fill="#55ff55" fill-opacity="0.70"/><circle cx="220.2" cy="188.3" r="0.8" fill="#55ff55" fill-opacity="0.27"/><circle cx="221.6" cy="190.4" r="1.0" fill="#55ff55" fill-opacity="0.64"/><circle cx="222.7" cy="192.2" r="0.7" fill="#55ff55" fill-opacity="0.53"/><circle cx="224.1" cy="194.3" r="0.7" fill="#55ff55" fill-opacity="0.41"/><path d="M310.0,158.0 C308.8,160.0 303.2,167.0 302.5,170.0 C301.8,173.0 305.2,175.0 305.8,176.0" fill="none" stroke="#129a12" stroke-width="3.2" stroke-opacity="0.50" stroke-linecap="round" stroke-linejoin="round"/><path d="M310.0,158.0 C308.8,160.0 303.2,167.0 302.5,170.0 C301.8,173.0 305.2,175.0 305.8,176.0" fill="none" stroke="#2ee02e" stroke-width="1.4" stroke-opacity="0.85" stroke-linecap="round" stroke-linejoin="round"/><circle cx="309.8" cy="158.0" r="1.0" fill="#55ff55" fill-opacity="0.32"/><circle cx="308.5" cy="159.7" r="0.8" fill="#55ff55" fill-opacity="0.44"/><circle cx="307.9" cy="162.3" r="0.7" fill="#55ff55" fill-opacity="0.52"/><circle cx="306.6" cy="164.1" r="1.0" fill="#55ff55" fill-opacity="0.88"/><circle cx="305.1" cy="166.1" r="1.0" fill="#55ff55" fill-opacity="0.24"/><circle cx="304.1" cy="168.0" r="0.7" fill="#55ff55" fill-opacity="0.60"/><circle cx="302.4" cy="170.3" r="0.9" fill="#55ff55" fill-opacity="0.41"/><circle cx="303.7" cy="172.0" r="0.5" fill="#55ff55" fill-opacity="0.33"/><circle cx="304.6" cy="174.1" r="0.6" fill="#55ff55" fill-opacity="0.66"/><circle cx="305.9" cy="175.9" r="0.7" fill="#55ff55" fill-opacity="0.57"/><path d="M240.0,181.0 C243.3,181.2 252.5,182.0 260.0,182.0 C267.5,182.0 277.0,181.0 285.0,181.0 C293.0,181.0 304.2,181.8 308.0,182.0" fill="none" stroke="#129a12" stroke-width="3.0" stroke-opacity="0.35" stroke-linecap="round" stroke-linejoin="round"/><path d="M240.0,181.0 C243.3,181.2 252.5,182.0 260.0,182.0 C267.5,182.0 277.0,181.0 285.0,181.0 C293.0,181.0 304.2,181.8 308.0,182.0" fill="none" stroke="#2ee02e" stroke-width="1.3" stroke-opacity="0.59" stroke-linecap="round" stroke-linejoin="round"/><circle cx="240.3" cy="181.0" r="0.5" fill="#55ff55" fill-opacity="0.23"/><circle cx="242.0" cy="180.8" r="0.5" fill="#55ff55" fill-opacity="0.56"/><circle cx="244.4" cy="181.3" r="0.7" fill="#55ff55" fill-opacity="0.26"/><circle cx="246.4" cy="181.3" r="0.6" fill="#55ff55" fill-opacity="0.42"/><circle cx="248.8" cy="181.1" r="0.8" fill="#55ff55" fill-opacity="0.18"/><circle cx="251.2" cy="181.7" r="0.7" fill="#55ff55" fill-opacity="0.56"/><circle cx="253.7" cy="181.8" r="0.9" fill="#55ff55" fill-opacity="0.20"/><circle cx="255.5" cy="181.5" r="0.5" fill="#55ff55" fill-opacity="0.55"/><circle cx="258.0" cy="181.6" r="1.0" fill="#55ff55" fill-opacity="0.42"/><circle cx="259.8" cy="181.9" r="0.9" fill="#55ff55" fill-opacity="0.17"/><circle cx="262.0" cy="181.7" r="0.5" fill="#55ff55" fill-opacity="0.43"/><circle cx="264.9" cy="181.9" r="0.8" fill="#55ff55" fill-opacity="0.35"/><circle cx="267.2" cy="182.0" r="0.9" fill="#55ff55" fill-opacity="0.42"/><circle cx="269.0" cy="181.8" r="0.6" fill="#55ff55" fill-opacity="0.51"/><circle cx="271.1" cy="181.4" r="0.8" fill="#55ff55" fill-opacity="0.54"/><circle cx="273.8" cy="181.1" r="0.8" fill="#55ff55" fill-opacity="0.60"/><circle cx="275.9" cy="181.6" r="0.8" fill="#55ff55" fill-opacity="0.19"/><circle cx="278.3" cy="181.1" r="0.5" fill="#55ff55" fill-opacity="0.59"/><circle cx="280.7" cy="181.2" r="0.6" fill="#55ff55" fill-opacity="0.36"/><circle cx="282.4" cy="181.3" r="0.5" fill="#55ff55" fill-opacity="0.15"/><circle cx="284.8" cy="181.1" r="0.6" fill="#55ff55" fill-opacity="0.41"/><circle cx="287.6" cy="181.1" r="0.7" fill="#55ff55" fill-opacity="0.21"/><circle cx="290.0" cy="180.8" r="0.8" fill="#55ff55" fill-opacity="0.54"/><circle cx="291.9" cy="181.6" r="0.7" fill="#55ff55" fill-opacity="0.21"/><circle cx="293.9" cy="181.7" r="0.9" fill="#55ff55" fill-opacity="0.16"/><circle cx="296.5" cy="181.2" r="0.8" fill="#55ff55" fill-opacity="0.33"/><circle cx="299.1" cy="181.7" r="0.9" fill="#55ff55" fill-opacity="0.33"/><circle cx="300.9" cy="182.0" r="0.5" fill="#55ff55" fill-opacity="0.30"/><circle cx="303.1" cy="181.7" r="0.8" fill="#55ff55" fill-opacity="0.16"/><circle cx="305.6" cy="181.8" r="0.7" fill="#55ff55" fill-opacity="0.42"/><circle cx="307.9" cy="181.6" r="0.5" fill="#55ff55" fill-opacity="0.42"/><path d="M262.0,189.0 C263.0,188.7 265.3,186.9 268.0,187.0 C270.7,187.1 274.8,188.7 278.0,189.5 C281.2,190.3 285.0,190.6 287.0,192.0 C289.0,193.4 290.5,196.2 290.0,198.0 C289.5,199.8 287.0,202.1 284.0,203.0 C281.0,203.9 275.3,204.2 272.0,203.5 C268.7,202.8 265.7,200.8 264.0,199.0 C262.3,197.2 262.3,194.0 262.0,193.0" fill="none" stroke="#129a12" stroke-width="3.2" stroke-opacity="0.50" stroke-linecap="round" stroke-linejoin="round"/><path d="M262.0,189.0 C263.0,188.7 265.3,186.9 268.0,187.0 C270.7,187.1 274.8,188.7 278.0,189.5 C281.2,190.3 285.0,190.6 287.0,192.0 C289.0,193.4 290.5,196.2 290.0,198.0 C289.5,199.8 287.0,202.1 284.0,203.0 C281.0,203.9 275.3,204.2 272.0,203.5 C268.7,202.8 265.7,200.8 264.0,199.0 C262.3,197.2 262.3,194.0 262.0,193.0" fill="none" stroke="#2ee02e" stroke-width="1.4" stroke-opacity="0.85" stroke-linecap="round" stroke-linejoin="round"/><circle cx="261.6" cy="188.7" r="0.8" fill="#55ff55" fill-opacity="0.89"/><circle cx="264.8" cy="188.0" r="0.9" fill="#55ff55" fill-opacity="0.39"/><circle cx="268.0" cy="187.4" r="0.7" fill="#55ff55" fill-opacity="0.60"/><circle cx="270.5" cy="187.8" r="1.0" fill="#55ff55" fill-opacity="0.22"/><circle cx="273.1" cy="188.4" r="1.0" fill="#55ff55" fill-opacity="0.74"/><circle cx="275.7" cy="189.2" r="0.7" fill="#55ff55" fill-opacity="0.40"/><circle cx="277.8" cy="189.7" r="1.0" fill="#55ff55" fill-opacity="0.68"/><circle cx="280.4" cy="190.0" r="0.9" fill="#55ff55" fill-opacity="0.56"/><circle cx="282.1" cy="190.6" r="0.8" fill="#55ff55" fill-opacity="0.48"/><circle cx="284.7" cy="191.3" r="0.7" fill="#55ff55" fill-opacity="0.89"/><circle cx="286.9" cy="191.7" r="0.7" fill="#55ff55" fill-opacity="0.36"/><circle cx="288.0" cy="194.0" r="0.5" fill="#55ff55" fill-opacity="0.81"/><circle cx="288.7" cy="195.7" r="0.8" fill="#55ff55" fill-opacity="0.41"/><circle cx="290.2" cy="198.0" r="0.7" fill="#55ff55" fill-opacity="0.42"/><circle cx="288.3" cy="199.7" r="1.0" fill="#55ff55" fill-opacity="0.44"/><circle cx="286.1" cy="201.7" r="0.6" fill="#55ff55" fill-opacity="0.33"/><circle cx="283.9" cy="203.3" r="0.7" fill="#55ff55" fill-opacity="0.74"/><circle cx="281.9" cy="202.9" r="0.6" fill="#55ff55" fill-opacity="0.54"/><circle cx="278.9" cy="203.0" r="0.7" fill="#55ff55" fill-opacity="0.22"/><circle cx="276.7" cy="203.1" r="0.9" fill="#55ff55" fill-opacity="0.35"/><circle cx="274.5" cy="203.2" r="0.8" fill="#55ff55" fill-opacity="0.80"/><circle cx="272.1" cy="203.2" r="0.9" fill="#55ff55" fill-opacity="0.87"/><circle cx="269.9" cy="202.1" r="0.9" fill="#55ff55" fill-opacity="0.81"/><circle cx="268.3" cy="201.4" r="0.6" fill="#55ff55" fill-opacity="0.58"/><circle cx="265.9" cy="200.3" r="1.0" fill="#55ff55" fill-opacity="0.35"/><circle cx="264.1" cy="198.9" r="0.9" fill="#55ff55" fill-opacity="0.48"/><circle cx="262.6" cy="196.1" r="0.6" fill="#55ff55" fill-opacity="0.49"/><circle cx="262.1" cy="192.8" r="0.7" fill="#55ff55" fill-opacity="0.55"/><path d="M240.0,203.8 L310.0,203.8" fill="none" stroke="#129a12" stroke-width="2.3" stroke-opacity="0.30" stroke-linecap="round" stroke-linejoin="round"/><path d="M240.0,203.8 L310.0,203.8" fill="none" stroke="#2ee02e" stroke-width="1.0" stroke-opacity="0.51" stroke-linecap="round" stroke-linejoin="round"/><circle cx="240.3" cy="203.9" r="0.5" fill="#55ff55" fill-opacity="0.13"/><circle cx="242.3" cy="204.0" r="0.7" fill="#55ff55" fill-opacity="0.14"/><circle cx="244.2" cy="203.5" r="0.5" fill="#55ff55" fill-opacity="0.16"/><circle cx="247.0" cy="203.7" r="0.7" fill="#55ff55" fill-opacity="0.16"/><circle cx="249.1" cy="203.9" r="0.6" fill="#55ff55" fill-opacity="0.37"/><circle cx="251.5" cy="203.6" r="0.6" fill="#55ff55" fill-opacity="0.26"/><circle cx="253.8" cy="203.6" r="0.6" fill="#55ff55" fill-opacity="0.44"/><circle cx="255.8" cy="203.6" r="0.7" fill="#55ff55" fill-opacity="0.53"/><circle cx="257.8" cy="203.4" r="0.6" fill="#55ff55" fill-opacity="0.52"/><circle cx="260.5" cy="203.7" r="0.6" fill="#55ff55" fill-opacity="0.40"/><circle cx="262.8" cy="203.5" r="0.7" fill="#55ff55" fill-opacity="0.22"/><circle cx="264.5" cy="203.8" r="0.4" fill="#55ff55" fill-opacity="0.18"/><circle cx="267.4" cy="203.7" r="0.6" fill="#55ff55" fill-opacity="0.20"/><circle cx="269.5" cy="204.1" r="0.4" fill="#55ff55" fill-opacity="0.19"/><circle cx="271.8" cy="203.6" r="0.4" fill="#55ff55" fill-opacity="0.13"/><circle cx="274.0" cy="203.7" r="0.7" fill="#55ff55" fill-opacity="0.33"/><circle cx="276.0" cy="204.1" r="0.7" fill="#55ff55" fill-opacity="0.31"/><circle cx="278.0" cy="203.9" r="0.4" fill="#55ff55" fill-opacity="0.43"/><circle cx="280.3" cy="203.9" r="0.5" fill="#55ff55" fill-opacity="0.48"/><circle cx="283.3" cy="203.9" r="0.5" fill="#55ff55" fill-opacity="0.51"/><circle cx="285.0" cy="203.7" r="0.5" fill="#55ff55" fill-opacity="0.23"/><circle cx="287.6" cy="203.9" r="0.5" fill="#55ff55" fill-opacity="0.21"/><circle cx="289.5" cy="203.9" r="0.5" fill="#55ff55" fill-opacity="0.54"/><circle cx="292.2" cy="203.6" r="0.4" fill="#55ff55" fill-opacity="0.48"/><circle cx="294.0" cy="203.7" r="0.7" fill="#55ff55" fill-opacity="0.47"/><circle cx="296.2" cy="203.9" r="0.6" fill="#55ff55" fill-opacity="0.49"/><circle cx="298.8" cy="204.1" r="0.6" fill="#55ff55" fill-opacity="0.31"/><circle cx="300.9" cy="204.0" r="0.5" fill="#55ff55" fill-opacity="0.49"/><circle cx="303.5" cy="204.2" r="0.7" fill="#55ff55" fill-opacity="0.20"/><circle cx="305.2" cy="204.2" r="0.5" fill="#55ff55" fill-opacity="0.13"/><circle cx="307.5" cy="204.0" r="0.4" fill="#55ff55" fill-opacity="0.50"/><circle cx="310.1" cy="203.5" r="0.4" fill="#55ff55" fill-opacity="0.19"/><path d="M243.0,195.0 C245.0,195.8 251.8,200.3 255.0,200.0 C258.2,199.7 260.8,194.2 262.0,193.0" fill="none" stroke="#129a12" stroke-width="3.0" stroke-opacity="0.40" stroke-linecap="round" stroke-linejoin="round"/><path d="M243.0,195.0 C245.0,195.8 251.8,200.3 255.0,200.0 C258.2,199.7 260.8,194.2 262.0,193.0" fill="none" stroke="#2ee02e" stroke-width="1.3" stroke-opacity="0.68" stroke-linecap="round" stroke-linejoin="round"/><circle cx="243.2" cy="195.3" r="0.7" fill="#55ff55" fill-opacity="0.67"/><circle cx="245.2" cy="196.2" r="1.0" fill="#55ff55" fill-opacity="0.18"/><circle cx="247.8" cy="196.8" r="0.8" fill="#55ff55" fill-opacity="0.18"/><circle cx="249.8" cy="198.4" r="0.7" fill="#55ff55" fill-opacity="0.22"/><circle cx="252.3" cy="199.0" r="0.6" fill="#55ff55" fill-opacity="0.65"/><circle cx="254.7" cy="200.1" r="0.6" fill="#55ff55" fill-opacity="0.40"/><circle cx="256.8" cy="197.9" r="0.6" fill="#55ff55" fill-opacity="0.57"/><circle cx="258.8" cy="196.4" r="0.7" fill="#55ff55" fill-opacity="0.44"/><circle cx="260.6" cy="194.9" r="0.6" fill="#55ff55" fill-opacity="0.70"/><circle cx="261.8" cy="192.7" r="0.6" fill="#55ff55" fill-opacity="0.26"/><path d="M290.0,198.0 C291.7,197.0 297.0,192.7 300.0,192.0 C303.0,191.3 306.7,193.7 308.0,194.0" fill="none" stroke="#129a12" stroke-width="3.0" stroke-opacity="0.40" stroke-linecap="round" stroke-linejoin="round"/><path d="M290.0,198.0 C291.7,197.0 297.0,192.7 300.0,192.0 C303.0,191.3 306.7,193.7 308.0,194.0" fill="none" stroke="#2ee02e" stroke-width="1.3" stroke-opacity="0.68" stroke-linecap="round" stroke-linejoin="round"/><circle cx="289.9" cy="198.0" r="0.5" fill="#55ff55" fill-opacity="0.44"/><circle cx="292.2" cy="196.9" r="0.7" fill="#55ff55" fill-opacity="0.17"/><circle cx="294.2" cy="196.0" r="0.8" fill="#55ff55" fill-opacity="0.47"/><circle cx="295.9" cy="194.3" r="0.9" fill="#55ff55" fill-opacity="0.56"/><circle cx="297.9" cy="193.1" r="0.7" fill="#55ff55" fill-opacity="0.70"/><circle cx="300.4" cy="191.6" r="0.7" fill="#55ff55" fill-opacity="0.24"/><circle cx="302.5" cy="192.8" r="0.8" fill="#55ff55" fill-opacity="0.68"/><circle cx="305.1" cy="193.0" r="0.7" fill="#55ff55" fill-opacity="0.29"/><circle cx="308.3" cy="193.6" r="0.9" fill="#55ff55" fill-opacity="0.60"/></g>
<text x="210.6" y="135.7" font-size="11.5" font-weight="bold" fill="#fff" text-anchor="start">F</text>
<text x="304.6" y="134.3" font-size="8" font-weight="normal" fill="#fff" text-anchor="end">control</text>
<rect x="240.5" y="180.2" width="67.5" height="31.0" fill="none" stroke="#d8d8d8" stroke-width="0.8"/>
<text x="219.8" y="189.9" font-size="8" font-weight="bold" fill="#fff" text-anchor="start">DA</text>
<text x="219" y="208.6" font-size="8" font-weight="bold" fill="#fff" text-anchor="start">PCV</text>
<rect x="291.8" y="208.6" width="14.800000000000011" height="1.7" fill="#fff"/>
<g clip-path="url(#cpG)"><rect x="312" y="190" width="104.0" height="22.5" fill="#fff" fill-opacity="0.9" filter="url(#tE)"/><rect x="316" y="196" width="34.0" height="14.0" fill="#fff" fill-opacity="1.0" filter="url(#tF)"/><path d="M312.0,135.0 C313.7,134.8 318.2,133.5 322.0,133.5 C325.8,133.5 330.7,134.8 335.0,134.8 C339.3,134.8 343.5,133.8 348.0,133.5 C352.5,133.2 358.0,132.5 362.0,132.7 C366.0,132.9 368.5,133.9 372.0,134.5 C375.5,135.1 379.2,136.3 383.0,136.3 C386.8,136.3 390.8,135.0 395.0,134.5 C399.2,134.0 404.5,133.5 408.0,133.5 C411.5,133.5 414.7,134.3 416.0,134.5" fill="none" stroke="#129a12" stroke-width="3.7" stroke-opacity="0.50" stroke-linecap="round" stroke-linejoin="round"/><path d="M312.0,135.0 C313.7,134.8 318.2,133.5 322.0,133.5 C325.8,133.5 330.7,134.8 335.0,134.8 C339.3,134.8 343.5,133.8 348.0,133.5 C352.5,133.2 358.0,132.5 362.0,132.7 C366.0,132.9 368.5,133.9 372.0,134.5 C375.5,135.1 379.2,136.3 383.0,136.3 C386.8,136.3 390.8,135.0 395.0,134.5 C399.2,134.0 404.5,133.5 408.0,133.5 C411.5,133.5 414.7,134.3 416.0,134.5" fill="none" stroke="#2ee02e" stroke-width="1.6" stroke-opacity="0.85" stroke-linecap="round" stroke-linejoin="round"/><circle cx="312.1" cy="135.0" r="1.0" fill="#55ff55" fill-opacity="0.43"/><circle cx="314.1" cy="134.8" r="0.8" fill="#55ff55" fill-opacity="0.88"/><circle cx="317.1" cy="134.6" r="1.1" fill="#55ff55" fill-opacity="0.56"/><circle cx="319.7" cy="133.8" r="0.7" fill="#55ff55" fill-opacity="0.64"/><circle cx="322.0" cy="133.6" r="1.0" fill="#55ff55" fill-opacity="0.48"/><circle cx="324.7" cy="133.8" r="1.0" fill="#55ff55" fill-opacity="0.43"/><circle cx="327.0" cy="134.3" r="0.7" fill="#55ff55" fill-opacity="0.63"/><circle cx="329.8" cy="134.3" r="0.9" fill="#55ff55" fill-opacity="0.71"/><circle cx="332.7" cy="134.6" r="0.7" fill="#55ff55" fill-opacity="0.30"/><circle cx="335.3" cy="134.6" r="0.9" fill="#55ff55" fill-opacity="0.57"/><circle cx="337.6" cy="134.7" r="0.7" fill="#55ff55" fill-opacity="0.78"/><circle cx="340.5" cy="133.9" r="1.1" fill="#55ff55" fill-opacity="0.83"/><circle cx="343.1" cy="133.7" r="0.8" fill="#55ff55" fill-opacity="0.78"/><circle cx="345.1" cy="133.6" r="0.7" fill="#55ff55" fill-opacity="0.38"/><circle cx="348.0" cy="133.2" r="1.1" fill="#55ff55" fill-opacity="0.56"/><circle cx="350.5" cy="133.3" r="0.8" fill="#55ff55" fill-opacity="0.90"/><circle cx="352.9" cy="133.0" r="0.9" fill="#55ff55" fill-opacity="0.76"/><circle cx="355.0" cy="132.9" r="1.0" fill="#55ff55" fill-opacity="0.46"/><circle cx="357.2" cy="132.6" r="0.8" fill="#55ff55" fill-opacity="0.44"/><circle cx="359.3" cy="132.6" r="0.7" fill="#55ff55" fill-opacity="0.60"/><circle cx="361.9" cy="132.5" r="1.0" fill="#55ff55" fill-opacity="0.39"/><circle cx="364.6" cy="133.4" r="1.1" fill="#55ff55" fill-opacity="0.26"/><circle cx="367.2" cy="133.7" r="0.7" fill="#55ff55" fill-opacity="0.50"/><circle cx="369.5" cy="133.9" r="0.8" fill="#55ff55" fill-opacity="0.23"/><circle cx="371.9" cy="134.6" r="1.0" fill="#55ff55" fill-opacity="0.41"/><circle cx="374.1" cy="134.9" r="1.1" fill="#55ff55" fill-opacity="0.45"/><circle cx="376.8" cy="135.4" r="1.2" fill="#55ff55" fill-opacity="0.33"/><circle cx="378.5" cy="135.2" r="0.8" fill="#55ff55" fill-opacity="0.67"/><circle cx="380.8" cy="135.9" r="1.1" fill="#55ff55" fill-opacity="0.47"/><circle cx="382.6" cy="136.4" r="1.1" fill="#55ff55" fill-opacity="0.73"/><circle cx="385.7" cy="135.9" r="0.9" fill="#55ff55" fill-opacity="0.52"/><circle cx="387.8" cy="135.6" r="0.9" fill="#55ff55" fill-opacity="0.82"/><circle cx="390.3" cy="135.4" r="0.9" fill="#55ff55" fill-opacity="0.78"/><circle cx="392.7" cy="134.9" r="0.8" fill="#55ff55" fill-opacity="0.23"/><circle cx="394.7" cy="134.3" r="1.1" fill="#55ff55" fill-opacity="0.74"/><circle cx="397.3" cy="134.0" r="0.6" fill="#55ff55" fill-opacity="0.77"/><circle cx="399.8" cy="134.2" r="1.1" fill="#55ff55" fill-opacity="0.60"/><circle cx="402.4" cy="134.1" r="1.0" fill="#55ff55" fill-opacity="0.54"/><circle cx="405.8" cy="134.0" r="0.9" fill="#55ff55" fill-opacity="0.61"/><circle cx="407.9" cy="133.5" r="1.1" fill="#55ff55" fill-opacity="0.30"/><circle cx="410.5" cy="133.6" r="0.6" fill="#55ff55" fill-opacity="0.89"/><circle cx="413.6" cy="134.2" r="0.8" fill="#55ff55" fill-opacity="0.38"/><circle cx="415.6" cy="134.3" r="0.9" fill="#55ff55" fill-opacity="0.49"/><path d="M312.0,137.0 C315.0,136.9 323.7,136.4 330.0,136.5 C336.3,136.6 343.3,137.6 350.0,137.5 C356.7,137.4 362.5,136.1 370.0,136.0 C377.5,135.9 387.3,136.9 395.0,137.0 C402.7,137.1 412.5,136.6 416.0,136.5" fill="none" stroke="#129a12" stroke-width="2.3" stroke-opacity="0.30" stroke-linecap="round" stroke-linejoin="round"/><path d="M312.0,137.0 C315.0,136.9 323.7,136.4 330.0,136.5 C336.3,136.6 343.3,137.6 350.0,137.5 C356.7,137.4 362.5,136.1 370.0,136.0 C377.5,135.9 387.3,136.9 395.0,137.0 C402.7,137.1 412.5,136.6 416.0,136.5" fill="none" stroke="#2ee02e" stroke-width="1.0" stroke-opacity="0.51" stroke-linecap="round" stroke-linejoin="round"/><path d="M312.0,159.8 L416.0,159.8" fill="none" stroke="#129a12" stroke-width="5.1" stroke-opacity="0.50" stroke-linecap="round" stroke-linejoin="round"/><path d="M312.0,159.8 L416.0,159.8" fill="none" stroke="#2ee02e" stroke-width="2.2" stroke-opacity="0.85" stroke-linecap="round" stroke-linejoin="round"/><circle cx="312.3" cy="159.6" r="1.5" fill="#55ff55" fill-opacity="0.76"/><circle cx="314.2" cy="159.7" r="1.0" fill="#55ff55" fill-opacity="0.24"/><circle cx="316.5" cy="159.7" r="1.2" fill="#55ff55" fill-opacity="0.54"/><circle cx="319.0" cy="159.8" r="1.5" fill="#55ff55" fill-opacity="0.34"/><circle cx="320.9" cy="159.7" r="0.9" fill="#55ff55" fill-opacity="0.42"/><circle cx="322.9" cy="160.0" r="1.3" fill="#55ff55" fill-opacity="0.43"/><circle cx="325.5" cy="159.9" r="1.1" fill="#55ff55" fill-opacity="0.70"/><circle cx="327.4" cy="160.1" r="1.2" fill="#55ff55" fill-opacity="0.85"/><circle cx="329.8" cy="159.4" r="0.9" fill="#55ff55" fill-opacity="0.50"/><circle cx="332.0" cy="159.5" r="1.5" fill="#55ff55" fill-opacity="0.25"/><circle cx="334.4" cy="159.8" r="1.6" fill="#55ff55" fill-opacity="0.59"/><circle cx="336.2" cy="159.6" r="1.4" fill="#55ff55" fill-opacity="0.67"/><circle cx="338.9" cy="159.6" r="1.5" fill="#55ff55" fill-opacity="0.30"/><circle cx="341.0" cy="160.2" r="0.9" fill="#55ff55" fill-opacity="0.27"/><circle cx="342.8" cy="160.1" r="1.2" fill="#55ff55" fill-opacity="0.66"/><circle cx="344.8" cy="160.0" r="1.4" fill="#55ff55" fill-opacity="0.31"/><circle cx="347.2" cy="159.6" r="0.9" fill="#55ff55" fill-opacity="0.79"/><circle cx="349.7" cy="159.5" r="1.3" fill="#55ff55" fill-opacity="0.42"/><circle cx="352.1" cy="159.5" r="1.6" fill="#55ff55" fill-opacity="0.43"/><circle cx="354.0" cy="159.4" r="1.5" fill="#55ff55" fill-opacity="0.89"/><circle cx="356.0" cy="159.8" r="1.1" fill="#55ff55" fill-opacity="0.65"/><circle cx="358.7" cy="159.7" r="0.9" fill="#55ff55" fill-opacity="0.53"/><circle cx="360.9" cy="159.5" r="1.4" fill="#55ff55" fill-opacity="0.28"/><circle cx="363.2" cy="159.8" r="1.6" fill="#55ff55" fill-opacity="0.90"/><circle cx="365.3" cy="159.8" r="1.1" fill="#55ff55" fill-opacity="0.44"/><circle cx="367.3" cy="160.1" r="1.6" fill="#55ff55" fill-opacity="0.27"/><circle cx="369.2" cy="159.5" r="1.3" fill="#55ff55" fill-opacity="0.58"/><circle cx="372.0" cy="159.6" r="1.0" fill="#55ff55" fill-opacity="0.83"/><circle cx="374.0" cy="160.2" r="1.6" fill="#55ff55" fill-opacity="0.22"/><circle cx="376.3" cy="159.4" r="1.1" fill="#55ff55" fill-opacity="0.86"/><circle cx="378.2" cy="160.0" r="1.1" fill="#55ff55" fill-opacity="0.51"/><circle cx="380.4" cy="159.5" r="1.0" fill="#55ff55" fill-opacity="0.75"/><circle cx="382.8" cy="160.0" r="1.3" fill="#55ff55" fill-opacity="0.27"/><circle cx="384.6" cy="159.8" r="1.3" fill="#55ff55" fill-opacity="0.52"/><circle cx="386.9" cy="159.9" r="0.9" fill="#55ff55" fill-opacity="0.65"/><circle cx="389.6" cy="159.5" r="1.1" fill="#55ff55" fill-opacity="0.46"/><circle cx="391.5" cy="160.1" r="1.0" fill="#55ff55" fill-opacity="0.86"/><circle cx="393.6" cy="159.5" r="1.5" fill="#55ff55" fill-opacity="0.54"/><circle cx="396.1" cy="159.8" r="1.6" fill="#55ff55" fill-opacity="0.28"/><circle cx="398.0" cy="159.8" r="0.9" fill="#55ff55" fill-opacity="0.53"/><circle cx="400.3" cy="159.7" r="1.2" fill="#55ff55" fill-opacity="0.46"/><circle cx="402.5" cy="160.1" r="1.0" fill="#55ff55" fill-opacity="0.29"/><circle cx="404.5" cy="160.2" r="1.2" fill="#55ff55" fill-opacity="0.82"/><circle cx="407.2" cy="160.0" r="1.2" fill="#55ff55" fill-opacity="0.75"/><circle cx="409.1" cy="159.6" r="1.0" fill="#55ff55" fill-opacity="0.73"/><circle cx="411.6" cy="159.6" r="0.9" fill="#55ff55" fill-opacity="0.48"/><circle cx="413.9" cy="159.6" r="1.6" fill="#55ff55" fill-opacity="0.26"/><circle cx="416.2" cy="159.4" r="1.3" fill="#55ff55" fill-opacity="0.75"/><path d="M312.0,161.3 L416.0,161.3" fill="none" stroke="#129a12" stroke-width="2.3" stroke-opacity="0.30" stroke-linecap="round" stroke-linejoin="round"/><path d="M312.0,161.3 L416.0,161.3" fill="none" stroke="#2ee02e" stroke-width="1.0" stroke-opacity="0.51" stroke-linecap="round" stroke-linejoin="round"/><path d="M312.0,186.8 L416.0,186.8" fill="none" stroke="#129a12" stroke-width="4.6" stroke-opacity="0.50" stroke-linecap="round" stroke-linejoin="round"/><path d="M312.0,186.8 L416.0,186.8" fill="none" stroke="#2ee02e" stroke-width="2.0" stroke-opacity="0.85" stroke-linecap="round" stroke-linejoin="round"/><circle cx="312.4" cy="186.4" r="0.9" fill="#55ff55" fill-opacity="0.62"/><circle cx="314.5" cy="186.7" r="1.2" fill="#55ff55" fill-opacity="0.68"/><circle cx="316.8" cy="186.4" r="1.4" fill="#55ff55" fill-opacity="0.52"/><circle cx="318.6" cy="186.5" r="1.5" fill="#55ff55" fill-opacity="0.49"/><circle cx="321.0" cy="186.5" r="0.9" fill="#55ff55" fill-opacity="0.71"/><circle cx="322.8" cy="186.6" r="1.0" fill="#55ff55" fill-opacity="0.30"/><circle cx="325.7" cy="187.0" r="1.0" fill="#55ff55" fill-opacity="0.88"/><circle cx="327.7" cy="187.1" r="1.1" fill="#55ff55" fill-opacity="0.55"/><circle cx="329.5" cy="186.9" r="1.3" fill="#55ff55" fill-opacity="0.65"/><circle cx="331.6" cy="187.0" r="1.4" fill="#55ff55" fill-opacity="0.75"/><circle cx="334.5" cy="186.9" r="1.0" fill="#55ff55" fill-opacity="0.31"/><circle cx="336.6" cy="187.1" r="1.3" fill="#55ff55" fill-opacity="0.29"/><circle cx="338.8" cy="187.0" r="1.4" fill="#55ff55" fill-opacity="0.72"/><circle cx="341.0" cy="187.0" r="1.2" fill="#55ff55" fill-opacity="0.50"/><circle cx="343.3" cy="186.8" r="1.4" fill="#55ff55" fill-opacity="0.41"/><circle cx="345.6" cy="187.0" r="1.5" fill="#55ff55" fill-opacity="0.28"/><circle cx="347.2" cy="186.6" r="0.9" fill="#55ff55" fill-opacity="0.79"/><circle cx="349.6" cy="187.1" r="1.1" fill="#55ff55" fill-opacity="0.37"/><circle cx="351.7" cy="187.0" r="1.3" fill="#55ff55" fill-opacity="0.70"/><circle cx="354.4" cy="187.1" r="1.3" fill="#55ff55" fill-opacity="0.68"/><circle cx="356.4" cy="187.1" r="1.1" fill="#55ff55" fill-opacity="0.26"/><circle cx="358.7" cy="187.0" r="1.0" fill="#55ff55" fill-opacity="0.62"/><circle cx="360.3" cy="186.5" r="0.8" fill="#55ff55" fill-opacity="0.54"/><circle cx="363.0" cy="186.8" r="1.4" fill="#55ff55" fill-opacity="0.49"/><circle cx="365.0" cy="187.1" r="1.0" fill="#55ff55" fill-opacity="0.35"/><circle cx="367.0" cy="186.6" r="1.2" fill="#55ff55" fill-opacity="0.40"/><circle cx="369.7" cy="187.0" r="1.3" fill="#55ff55" fill-opacity="0.51"/><circle cx="371.4" cy="187.1" r="0.8" fill="#55ff55" fill-opacity="0.68"/><circle cx="374.3" cy="186.7" r="0.9" fill="#55ff55" fill-opacity="0.39"/><circle cx="376.3" cy="187.1" r="0.9" fill="#55ff55" fill-opacity="0.82"/><circle cx="378.7" cy="186.8" r="1.0" fill="#55ff55" fill-opacity="0.55"/><circle cx="380.9" cy="186.5" r="1.5" fill="#55ff55" fill-opacity="0.33"/><circle cx="382.5" cy="187.2" r="1.1" fill="#55ff55" fill-opacity="0.20"/><circle cx="384.8" cy="186.7" r="1.1" fill="#55ff55" fill-opacity="0.77"/><circle cx="387.5" cy="186.8" r="0.8" fill="#55ff55" fill-opacity="0.59"/><circle cx="389.8" cy="186.9" r="1.0" fill="#55ff55" fill-opacity="0.85"/><circle cx="391.6" cy="187.2" r="0.8" fill="#55ff55" fill-opacity="0.64"/><circle cx="394.0" cy="186.7" r="1.0" fill="#55ff55" fill-opacity="0.66"/><circle cx="396.4" cy="186.8" r="1.1" fill="#55ff55" fill-opacity="0.67"/><circle cx="397.9" cy="187.1" r="1.0" fill="#55ff55" fill-opacity="0.88"/><circle cx="400.5" cy="187.0" r="1.3" fill="#55ff55" fill-opacity="0.59"/><circle cx="402.9" cy="186.4" r="1.4" fill="#55ff55" fill-opacity="0.71"/><circle cx="405.3" cy="187.1" r="1.0" fill="#55ff55" fill-opacity="0.30"/><circle cx="407.2" cy="186.4" r="0.9" fill="#55ff55" fill-opacity="0.61"/><circle cx="409.5" cy="186.6" r="1.0" fill="#55ff55" fill-opacity="0.72"/><circle cx="411.6" cy="186.7" r="1.3" fill="#55ff55" fill-opacity="0.40"/><circle cx="414.0" cy="186.9" r="1.5" fill="#55ff55" fill-opacity="0.65"/><circle cx="416.2" cy="187.0" r="1.0" fill="#55ff55" fill-opacity="0.87"/><path d="M322.3,136.0 C322.2,138.0 321.5,144.1 321.5,148.0 C321.5,151.9 322.2,157.7 322.3,159.6" fill="none" stroke="#129a12" stroke-width="3.2" stroke-opacity="0.50" stroke-linecap="round" stroke-linejoin="round"/><path d="M322.3,136.0 C322.2,138.0 321.5,144.1 321.5,148.0 C321.5,151.9 322.2,157.7 322.3,159.6" fill="none" stroke="#2ee02e" stroke-width="1.4" stroke-opacity="0.85" stroke-linecap="round" stroke-linejoin="round"/><circle cx="322.4" cy="136.3" r="0.7" fill="#55ff55" fill-opacity="0.31"/><circle cx="321.9" cy="138.4" r="0.9" fill="#55ff55" fill-opacity="0.44"/><circle cx="322.2" cy="140.5" r="1.0" fill="#55ff55" fill-opacity="0.31"/><circle cx="321.7" cy="143.1" r="0.7" fill="#55ff55" fill-opacity="0.24"/><circle cx="321.4" cy="145.4" r="1.0" fill="#55ff55" fill-opacity="0.87"/><circle cx="321.4" cy="148.0" r="1.0" fill="#55ff55" fill-opacity="0.34"/><circle cx="321.6" cy="150.2" r="0.6" fill="#55ff55" fill-opacity="0.38"/><circle cx="321.6" cy="153.0" r="1.0" fill="#55ff55" fill-opacity="0.39"/><circle cx="322.1" cy="155.2" r="0.8" fill="#55ff55" fill-opacity="0.79"/><circle cx="322.3" cy="157.3" r="0.7" fill="#55ff55" fill-opacity="0.31"/><circle cx="322.5" cy="159.4" r="0.8" fill="#55ff55" fill-opacity="0.67"/><path d="M346.0,134.5 C346.8,136.2 350.7,140.4 351.0,144.6 C351.3,148.8 348.5,157.1 348.0,159.6" fill="none" stroke="#129a12" stroke-width="3.2" stroke-opacity="0.50" stroke-linecap="round" stroke-linejoin="round"/><path d="M346.0,134.5 C346.8,136.2 350.7,140.4 351.0,144.6 C351.3,148.8 348.5,157.1 348.0,159.6" fill="none" stroke="#2ee02e" stroke-width="1.4" stroke-opacity="0.85" stroke-linecap="round" stroke-linejoin="round"/><circle cx="346.0" cy="134.3" r="0.7" fill="#55ff55" fill-opacity="0.84"/><circle cx="347.2" cy="136.2" r="0.9" fill="#55ff55" fill-opacity="0.38"/><circle cx="347.9" cy="138.9" r="1.0" fill="#55ff55" fill-opacity="0.60"/><circle cx="348.7" cy="140.6" r="0.7" fill="#55ff55" fill-opacity="0.37"/><circle cx="349.9" cy="142.8" r="0.9" fill="#55ff55" fill-opacity="0.67"/><circle cx="351.1" cy="145.0" r="0.6" fill="#55ff55" fill-opacity="0.41"/><circle cx="350.7" cy="147.0" r="0.9" fill="#55ff55" fill-opacity="0.68"/><circle cx="349.9" cy="149.5" r="1.0" fill="#55ff55" fill-opacity="0.72"/><circle cx="349.2" cy="152.4" r="0.9" fill="#55ff55" fill-opacity="0.44"/><circle cx="349.1" cy="154.9" r="0.8" fill="#55ff55" fill-opacity="0.56"/><circle cx="348.2" cy="157.0" r="0.6" fill="#55ff55" fill-opacity="0.44"/><circle cx="348.1" cy="159.7" r="0.8" fill="#55ff55" fill-opacity="0.80"/><path d="M371.7,140.5 C371.1,142.1 369.0,146.8 368.0,150.0 C367.0,153.2 365.9,158.0 365.5,159.6" fill="none" stroke="#129a12" stroke-width="2.8" stroke-opacity="0.40" stroke-linecap="round" stroke-linejoin="round"/><path d="M371.7,140.5 C371.1,142.1 369.0,146.8 368.0,150.0 C367.0,153.2 365.9,158.0 365.5,159.6" fill="none" stroke="#2ee02e" stroke-width="1.2" stroke-opacity="0.68" stroke-linecap="round" stroke-linejoin="round"/><circle cx="371.5" cy="140.8" r="0.6" fill="#55ff55" fill-opacity="0.48"/><circle cx="370.5" cy="143.0" r="0.8" fill="#55ff55" fill-opacity="0.63"/><circle cx="370.2" cy="145.6" r="0.8" fill="#55ff55" fill-opacity="0.44"/><circle cx="369.0" cy="147.9" r="0.8" fill="#55ff55" fill-opacity="0.62"/><circle cx="368.2" cy="150.1" r="0.5" fill="#55ff55" fill-opacity="0.55"/><circle cx="367.5" cy="152.7" r="0.6" fill="#55ff55" fill-opacity="0.20"/><circle cx="366.5" cy="154.5" r="0.6" fill="#55ff55" fill-opacity="0.28"/><circle cx="366.4" cy="157.1" r="0.8" fill="#55ff55" fill-opacity="0.71"/><circle cx="365.8" cy="159.5" r="0.8" fill="#55ff55" fill-opacity="0.20"/><path d="M382.0,136.3 C382.2,138.2 383.3,144.1 383.5,148.0 C383.7,151.9 383.1,157.7 383.0,159.6" fill="none" stroke="#129a12" stroke-width="3.2" stroke-opacity="0.50" stroke-linecap="round" stroke-linejoin="round"/><path d="M382.0,136.3 C382.2,138.2 383.3,144.1 383.5,148.0 C383.7,151.9 383.1,157.7 383.0,159.6" fill="none" stroke="#2ee02e" stroke-width="1.4" stroke-opacity="0.85" stroke-linecap="round" stroke-linejoin="round"/><circle cx="381.7" cy="136.1" r="0.5" fill="#55ff55" fill-opacity="0.64"/><circle cx="382.3" cy="138.9" r="0.6" fill="#55ff55" fill-opacity="0.51"/><circle cx="382.3" cy="140.8" r="0.5" fill="#55ff55" fill-opacity="0.78"/><circle cx="382.8" cy="143.4" r="0.9" fill="#55ff55" fill-opacity="0.44"/><circle cx="383.0" cy="145.9" r="0.6" fill="#55ff55" fill-opacity="0.76"/><circle cx="383.1" cy="148.2" r="0.9" fill="#55ff55" fill-opacity="0.58"/><circle cx="383.3" cy="150.0" r="0.5" fill="#55ff55" fill-opacity="0.55"/><circle cx="383.4" cy="152.6" r="0.9" fill="#55ff55" fill-opacity="0.71"/><circle cx="383.0" cy="155.3" r="0.8" fill="#55ff55" fill-opacity="0.61"/><circle cx="383.5" cy="157.1" r="1.0" fill="#55ff55" fill-opacity="0.76"/><circle cx="383.0" cy="159.3" r="1.0" fill="#55ff55" fill-opacity="0.25"/><path d="M410.5,134.0 C410.6,136.0 411.6,141.7 411.0,146.0 C410.4,150.3 407.7,157.3 407.0,159.6" fill="none" stroke="#129a12" stroke-width="3.2" stroke-opacity="0.50" stroke-linecap="round" stroke-linejoin="round"/><path d="M410.5,134.0 C410.6,136.0 411.6,141.7 411.0,146.0 C410.4,150.3 407.7,157.3 407.0,159.6" fill="none" stroke="#2ee02e" stroke-width="1.4" stroke-opacity="0.85" stroke-linecap="round" stroke-linejoin="round"/><circle cx="410.7" cy="134.0" r="0.8" fill="#55ff55" fill-opacity="0.68"/><circle cx="410.5" cy="136.2" r="0.7" fill="#55ff55" fill-opacity="0.33"/><circle cx="410.7" cy="138.8" r="0.6" fill="#55ff55" fill-opacity="0.72"/><circle cx="410.6" cy="141.0" r="0.6" fill="#55ff55" fill-opacity="0.69"/><circle cx="411.3" cy="143.8" r="0.8" fill="#55ff55" fill-opacity="0.69"/><circle cx="411.2" cy="146.2" r="1.0" fill="#55ff55" fill-opacity="0.84"/><circle cx="409.9" cy="148.6" r="0.6" fill="#55ff55" fill-opacity="0.34"/><circle cx="409.5" cy="150.4" r="0.9" fill="#55ff55" fill-opacity="0.64"/><circle cx="409.4" cy="152.6" r="0.6" fill="#55ff55" fill-opacity="0.64"/><circle cx="408.2" cy="155.4" r="0.5" fill="#55ff55" fill-opacity="0.32"/><circle cx="407.3" cy="157.0" r="0.9" fill="#55ff55" fill-opacity="0.52"/><circle cx="407.0" cy="160.0" r="0.6" fill="#55ff55" fill-opacity="0.74"/><path d="M348.0,159.6 C346.5,161.3 340.7,167.8 339.0,170.0 C337.3,172.2 336.7,171.2 338.0,173.0 C339.3,174.8 344.7,178.7 347.0,181.0 C349.3,183.3 351.2,186.0 352.0,187.0" fill="none" stroke="#129a12" stroke-width="3.2" stroke-opacity="0.50" stroke-linecap="round" stroke-linejoin="round"/><path d="M348.0,159.6 C346.5,161.3 340.7,167.8 339.0,170.0 C337.3,172.2 336.7,171.2 338.0,173.0 C339.3,174.8 344.7,178.7 347.0,181.0 C349.3,183.3 351.2,186.0 352.0,187.0" fill="none" stroke="#2ee02e" stroke-width="1.4" stroke-opacity="0.85" stroke-linecap="round" stroke-linejoin="round"/><circle cx="348.0" cy="159.9" r="1.0" fill="#55ff55" fill-opacity="0.76"/><circle cx="346.6" cy="161.3" r="0.6" fill="#55ff55" fill-opacity="0.28"/><circle cx="344.6" cy="163.4" r="0.6" fill="#55ff55" fill-opacity="0.38"/><circle cx="343.9" cy="164.7" r="0.9" fill="#55ff55" fill-opacity="0.86"/><circle cx="342.2" cy="166.8" r="0.9" fill="#55ff55" fill-opacity="0.47"/><circle cx="340.3" cy="168.3" r="0.6" fill="#55ff55" fill-opacity="0.21"/><circle cx="339.3" cy="170.2" r="0.7" fill="#55ff55" fill-opacity="0.21"/><circle cx="338.3" cy="173.0" r="0.8" fill="#55ff55" fill-opacity="0.23"/><circle cx="339.9" cy="174.9" r="0.6" fill="#55ff55" fill-opacity="0.43"/><circle cx="341.4" cy="176.0" r="0.8" fill="#55ff55" fill-opacity="0.65"/><circle cx="343.1" cy="177.9" r="1.0" fill="#55ff55" fill-opacity="0.47"/><circle cx="345.2" cy="179.5" r="0.6" fill="#55ff55" fill-opacity="0.34"/><circle cx="347.0" cy="180.7" r="0.9" fill="#55ff55" fill-opacity="0.69"/><circle cx="348.6" cy="182.9" r="0.9" fill="#55ff55" fill-opacity="0.24"/><circle cx="350.1" cy="185.1" r="0.9" fill="#55ff55" fill-opacity="0.70"/><circle cx="351.7" cy="187.3" r="0.9" fill="#55ff55" fill-opacity="0.53"/><path d="M383.0,159.6 C381.5,161.7 374.7,167.4 374.0,172.0 C373.3,176.6 378.2,184.5 379.0,187.0" fill="none" stroke="#129a12" stroke-width="3.2" stroke-opacity="0.50" stroke-linecap="round" stroke-linejoin="round"/><path d="M383.0,159.6 C381.5,161.7 374.7,167.4 374.0,172.0 C373.3,176.6 378.2,184.5 379.0,187.0" fill="none" stroke="#2ee02e" stroke-width="1.4" stroke-opacity="0.85" stroke-linecap="round" stroke-linejoin="round"/><circle cx="382.8" cy="160.0" r="0.8" fill="#55ff55" fill-opacity="0.24"/><circle cx="381.7" cy="161.9" r="0.6" fill="#55ff55" fill-opacity="0.47"/><circle cx="379.6" cy="163.4" r="0.9" fill="#55ff55" fill-opacity="0.72"/><circle cx="378.1" cy="165.4" r="1.0" fill="#55ff55" fill-opacity="0.76"/><circle cx="376.8" cy="168.0" r="0.7" fill="#55ff55" fill-opacity="0.85"/><circle cx="375.8" cy="169.7" r="1.0" fill="#55ff55" fill-opacity="0.65"/><circle cx="374.2" cy="171.7" r="0.6" fill="#55ff55" fill-opacity="0.21"/><circle cx="374.5" cy="174.4" r="1.0" fill="#55ff55" fill-opacity="0.70"/><circle cx="375.1" cy="176.5" r="0.6" fill="#55ff55" fill-opacity="0.56"/><circle cx="375.7" cy="178.7" r="1.0" fill="#55ff55" fill-opacity="0.84"/><circle cx="376.9" cy="180.7" r="0.8" fill="#55ff55" fill-opacity="0.77"/><circle cx="377.2" cy="182.4" r="0.8" fill="#55ff55" fill-opacity="0.76"/><circle cx="378.2" cy="184.5" r="0.8" fill="#55ff55" fill-opacity="0.40"/><circle cx="379.3" cy="187.2" r="0.9" fill="#55ff55" fill-opacity="0.22"/><path d="M407.0,159.6 C406.5,161.3 403.5,166.6 404.0,170.0 C404.5,173.4 408.0,177.3 410.0,180.0 C412.0,182.7 415.0,185.0 416.0,186.0" fill="none" stroke="#129a12" stroke-width="3.2" stroke-opacity="0.50" stroke-linecap="round" stroke-linejoin="round"/><path d="M407.0,159.6 C406.5,161.3 403.5,166.6 404.0,170.0 C404.5,173.4 408.0,177.3 410.0,180.0 C412.0,182.7 415.0,185.0 416.0,186.0" fill="none" stroke="#2ee02e" stroke-width="1.4" stroke-opacity="0.85" stroke-linecap="round" stroke-linejoin="round"/><circle cx="407.1" cy="159.4" r="0.8" fill="#55ff55" fill-opacity="0.29"/><circle cx="406.6" cy="162.2" r="0.8" fill="#55ff55" fill-opacity="0.28"/><circle cx="405.7" cy="165.1" r="0.7" fill="#55ff55" fill-opacity="0.27"/><circle cx="404.6" cy="167.2" r="1.0" fill="#55ff55" fill-opacity="0.27"/><circle cx="404.1" cy="170.4" r="0.9" fill="#55ff55" fill-opacity="0.30"/><circle cx="404.9" cy="171.7" r="0.9" fill="#55ff55" fill-opacity="0.20"/><circle cx="406.4" cy="174.0" r="0.9" fill="#55ff55" fill-opacity="0.62"/><circle cx="407.7" cy="176.3" r="0.7" fill="#55ff55" fill-opacity="0.63"/><circle cx="409.1" cy="178.3" r="0.9" fill="#55ff55" fill-opacity="0.76"/><circle cx="410.1" cy="180.3" r="0.9" fill="#55ff55" fill-opacity="0.22"/><circle cx="411.7" cy="182.4" r="0.8" fill="#55ff55" fill-opacity="0.81"/><circle cx="413.8" cy="183.8" r="0.8" fill="#55ff55" fill-opacity="0.69"/><circle cx="415.7" cy="186.0" r="0.7" fill="#55ff55" fill-opacity="0.43"/><path d="M322.3,159.6 C321.4,161.3 317.6,166.6 317.0,170.0 C316.4,173.4 318.0,177.2 319.0,180.0 C320.0,182.8 322.3,185.8 323.0,187.0" fill="none" stroke="#129a12" stroke-width="3.0" stroke-opacity="0.50" stroke-linecap="round" stroke-linejoin="round"/><path d="M322.3,159.6 C321.4,161.3 317.6,166.6 317.0,170.0 C316.4,173.4 318.0,177.2 319.0,180.0 C320.0,182.8 322.3,185.8 323.0,187.0" fill="none" stroke="#2ee02e" stroke-width="1.3" stroke-opacity="0.85" stroke-linecap="round" stroke-linejoin="round"/><circle cx="322.6" cy="159.8" r="1.0" fill="#55ff55" fill-opacity="0.66"/><circle cx="321.4" cy="161.5" r="0.9" fill="#55ff55" fill-opacity="0.90"/><circle cx="319.8" cy="163.5" r="0.6" fill="#55ff55" fill-opacity="0.49"/><circle cx="319.0" cy="166.1" r="0.9" fill="#55ff55" fill-opacity="0.84"/><circle cx="318.3" cy="167.9" r="0.9" fill="#55ff55" fill-opacity="0.82"/><circle cx="316.9" cy="170.1" r="0.5" fill="#55ff55" fill-opacity="0.78"/><circle cx="317.9" cy="172.2" r="0.7" fill="#55ff55" fill-opacity="0.58"/><circle cx="318.0" cy="175.4" r="0.7" fill="#55ff55" fill-opacity="0.65"/><circle cx="318.7" cy="177.9" r="0.7" fill="#55ff55" fill-opacity="0.84"/><circle cx="318.8" cy="180.3" r="0.5" fill="#55ff55" fill-opacity="0.35"/><circle cx="320.5" cy="182.7" r="0.5" fill="#55ff55" fill-opacity="0.38"/><circle cx="321.8" cy="184.8" r="0.6" fill="#55ff55" fill-opacity="0.51"/><circle cx="322.8" cy="186.8" r="0.9" fill="#55ff55" fill-opacity="0.73"/><path d="M339.6,187.2 C342.2,188.7 350.8,193.0 355.0,196.0 C359.2,199.0 363.3,203.5 365.0,205.0" fill="none" stroke="#129a12" stroke-width="2.8" stroke-opacity="0.40" stroke-linecap="round" stroke-linejoin="round"/><path d="M339.6,187.2 C342.2,188.7 350.8,193.0 355.0,196.0 C359.2,199.0 363.3,203.5 365.0,205.0" fill="none" stroke="#2ee02e" stroke-width="1.2" stroke-opacity="0.68" stroke-linecap="round" stroke-linejoin="round"/><circle cx="339.4" cy="187.0" r="0.5" fill="#55ff55" fill-opacity="0.55"/><circle cx="341.6" cy="188.4" r="0.9" fill="#55ff55" fill-opacity="0.52"/><circle cx="343.3" cy="189.1" r="0.7" fill="#55ff55" fill-opacity="0.55"/><circle cx="345.3" cy="190.2" r="0.5" fill="#55ff55" fill-opacity="0.17"/><circle cx="347.7" cy="191.8" r="0.5" fill="#55ff55" fill-opacity="0.44"/><circle cx="349.0" cy="192.4" r="0.6" fill="#55ff55" fill-opacity="0.59"/><circle cx="351.3" cy="193.8" r="0.6" fill="#55ff55" fill-opacity="0.39"/><circle cx="353.4" cy="194.8" r="0.8" fill="#55ff55" fill-opacity="0.21"/><circle cx="355.3" cy="195.8" r="0.8" fill="#55ff55" fill-opacity="0.18"/><circle cx="356.8" cy="197.3" r="0.8" fill="#55ff55" fill-opacity="0.61"/><circle cx="358.7" cy="198.7" r="0.5" fill="#55ff55" fill-opacity="0.27"/><circle cx="360.1" cy="200.2" r="0.7" fill="#55ff55" fill-opacity="0.49"/><circle cx="362.1" cy="201.9" r="0.5" fill="#55ff55" fill-opacity="0.21"/><circle cx="363.1" cy="203.2" r="0.7" fill="#55ff55" fill-opacity="0.48"/><circle cx="364.7" cy="205.4" r="0.5" fill="#55ff55" fill-opacity="0.64"/><path d="M404.9,165.0 C406.1,167.2 410.1,175.2 412.0,178.0 C413.9,180.8 415.3,181.3 416.0,182.0" fill="none" stroke="#129a12" stroke-width="3.2" stroke-opacity="0.50" stroke-linecap="round" stroke-linejoin="round"/><path d="M404.9,165.0 C406.1,167.2 410.1,175.2 412.0,178.0 C413.9,180.8 415.3,181.3 416.0,182.0" fill="none" stroke="#2ee02e" stroke-width="1.4" stroke-opacity="0.85" stroke-linecap="round" stroke-linejoin="round"/><circle cx="404.6" cy="165.2" r="0.7" fill="#55ff55" fill-opacity="0.71"/><circle cx="406.1" cy="166.9" r="0.7" fill="#55ff55" fill-opacity="0.46"/><circle cx="407.1" cy="169.2" r="0.7" fill="#55ff55" fill-opacity="0.76"/><circle cx="408.2" cy="171.3" r="0.9" fill="#55ff55" fill-opacity="0.36"/><circle cx="409.7" cy="173.6" r="0.7" fill="#55ff55" fill-opacity="0.46"/><circle cx="410.9" cy="176.1" r="1.0" fill="#55ff55" fill-opacity="0.24"/><circle cx="412.0" cy="177.7" r="0.6" fill="#55ff55" fill-opacity="0.22"/><circle cx="413.7" cy="179.7" r="0.8" fill="#55ff55" fill-opacity="0.70"/><circle cx="415.8" cy="182.0" r="0.8" fill="#55ff55" fill-opacity="0.32"/><path d="M396.0,162.0 C397.3,164.2 401.3,170.3 404.0,175.0 C406.7,179.7 410.0,186.5 412.0,190.0 C414.0,193.5 415.3,195.0 416.0,196.0" fill="none" stroke="#129a12" stroke-width="2.8" stroke-opacity="0.40" stroke-linecap="round" stroke-linejoin="round"/><path d="M396.0,162.0 C397.3,164.2 401.3,170.3 404.0,175.0 C406.7,179.7 410.0,186.5 412.0,190.0 C414.0,193.5 415.3,195.0 416.0,196.0" fill="none" stroke="#2ee02e" stroke-width="1.2" stroke-opacity="0.68" stroke-linecap="round" stroke-linejoin="round"/><circle cx="395.9" cy="162.0" r="0.5" fill="#55ff55" fill-opacity="0.20"/><circle cx="397.0" cy="163.9" r="0.9" fill="#55ff55" fill-opacity="0.47"/><circle cx="399.0" cy="166.7" r="0.8" fill="#55ff55" fill-opacity="0.48"/><circle cx="400.4" cy="168.5" r="0.8" fill="#55ff55" fill-opacity="0.22"/><circle cx="401.6" cy="170.4" r="0.6" fill="#55ff55" fill-opacity="0.26"/><circle cx="403.0" cy="172.8" r="0.5" fill="#55ff55" fill-opacity="0.31"/><circle cx="404.0" cy="174.9" r="0.8" fill="#55ff55" fill-opacity="0.20"/><circle cx="405.0" cy="176.8" r="0.5" fill="#55ff55" fill-opacity="0.53"/><circle cx="406.0" cy="178.9" r="0.9" fill="#55ff55" fill-opacity="0.43"/><circle cx="407.0" cy="181.4" r="0.7" fill="#55ff55" fill-opacity="0.45"/><circle cx="408.4" cy="183.6" r="0.8" fill="#55ff55" fill-opacity="0.46"/><circle cx="409.4" cy="186.0" r="0.7" fill="#55ff55" fill-opacity="0.52"/><circle cx="411.1" cy="187.8" r="0.9" fill="#55ff55" fill-opacity="0.57"/><circle cx="411.8" cy="190.1" r="0.9" fill="#55ff55" fill-opacity="0.26"/><circle cx="413.1" cy="191.6" r="0.9" fill="#55ff55" fill-opacity="0.21"/><circle cx="414.4" cy="194.2" r="0.6" fill="#55ff55" fill-opacity="0.24"/><circle cx="415.9" cy="196.1" r="0.7" fill="#55ff55" fill-opacity="0.69"/></g>
<text x="316.1" y="135.3" font-size="11.5" font-weight="bold" fill="#fff" text-anchor="start">G</text>
<text x="383" y="134.2" font-size="8" fill="#fff" text-anchor="start">Nrp2a<tspan font-size="4.7" dy="-2.6">KD</tspan></text>
<rect x="320.4" y="180.2" width="67.90000000000003" height="31.0" fill="none" stroke="#d8d8d8" stroke-width="0.8"/>
<text x="397.5" y="190" font-size="8" font-weight="bold" fill="#fff" text-anchor="start">DA</text>
<text x="394.8" y="205.6" font-size="8" font-weight="bold" fill="#fff" text-anchor="start">PCV</text>
<rect x="398.6" y="208.6" width="13.399999999999977" height="1.7" fill="#fff"/>
<g clip-path="url(#cpH)"><rect x="445" y="125" width="71.0" height="7.0" fill="#fff" fill-opacity="0.6" filter="url(#tC)"/><rect x="458" y="132" width="58.0" height="25.0" fill="#fff" fill-opacity="0.55" filter="url(#tD)"/><rect x="418" y="137" width="44.0" height="30.0" fill="#fff" fill-opacity="1.0" filter="url(#tE)"/><rect x="418" y="156" width="98.0" height="11.0" fill="#fff" fill-opacity="1.0" filter="url(#tF)"/><rect x="505" y="135" width="11.0" height="25.0" fill="#fff" fill-opacity="0.8" filter="url(#tD)"/><ellipse cx="440.5" cy="150.5" rx="6.5" ry="5.5" fill="#000" fill-opacity="1.0" filter="url(#blur1)"/><ellipse cx="473" cy="150" rx="16.5" ry="8.5" fill="#000" fill-opacity="1.0" filter="url(#blur1)"/><ellipse cx="501" cy="150" rx="6.5" ry="6.5" fill="#000" fill-opacity="1.0" filter="url(#blur1)"/><path d="M438.0,137.0 C439.3,137.3 443.0,138.2 446.0,139.0 C449.0,139.8 453.3,141.0 456.0,141.5 C458.7,142.0 461.0,141.9 462.0,142.0" fill="none" stroke="#129a12" stroke-width="5.1" stroke-opacity="0.50" stroke-linecap="round" stroke-linejoin="round"/><path d="M438.0,137.0 C439.3,137.3 443.0,138.2 446.0,139.0 C449.0,139.8 453.3,141.0 456.0,141.5 C458.7,142.0 461.0,141.9 462.0,142.0" fill="none" stroke="#2ee02e" stroke-width="2.2" stroke-opacity="0.85" stroke-linecap="round" stroke-linejoin="round"/><path d="M446.0,141.0 C444.3,141.7 438.5,143.2 436.0,145.0 C433.5,146.8 431.7,149.5 431.0,152.0 C430.3,154.5 431.5,158.7 431.6,160.0" fill="none" stroke="#129a12" stroke-width="5.1" stroke-opacity="0.50" stroke-linecap="round" stroke-linejoin="round"/><path d="M446.0,141.0 C444.3,141.7 438.5,143.2 436.0,145.0 C433.5,146.8 431.7,149.5 431.0,152.0 C430.3,154.5 431.5,158.7 431.6,160.0" fill="none" stroke="#2ee02e" stroke-width="2.2" stroke-opacity="0.85" stroke-linecap="round" stroke-linejoin="round"/><circle cx="445.8" cy="141.0" r="0.8" fill="#55ff55" fill-opacity="0.86"/><circle cx="443.5" cy="142.4" r="1.2" fill="#55ff55" fill-opacity="0.86"/><circle cx="441.3" cy="142.8" r="1.3" fill="#55ff55" fill-opacity="0.35"/><circle cx="438.3" cy="144.4" r="1.6" fill="#55ff55" fill-opacity="0.52"/><circle cx="435.9" cy="145.1" r="1.1" fill="#55ff55" fill-opacity="0.48"/><circle cx="434.1" cy="147.6" r="0.8" fill="#55ff55" fill-opacity="0.46"/><circle cx="432.5" cy="149.6" r="0.8" fill="#55ff55" fill-opacity="0.63"/><circle cx="430.7" cy="151.8" r="1.3" fill="#55ff55" fill-opacity="0.70"/><circle cx="430.9" cy="154.4" r="0.9" fill="#55ff55" fill-opacity="0.87"/><circle cx="431.7" cy="157.0" r="1.3" fill="#55ff55" fill-opacity="0.61"/><circle cx="431.7" cy="160.0" r="1.0" fill="#55ff55" fill-opacity="0.32"/><path d="M447.4,148.0 C448.0,147.9 449.7,147.3 451.0,147.6 C452.3,147.9 454.2,148.6 455.0,150.0 C455.8,151.4 455.8,155.0 456.0,156.0" fill="none" stroke="#129a12" stroke-width="6.9" stroke-opacity="0.50" stroke-linecap="round" stroke-linejoin="round"/><path d="M447.4,148.0 C448.0,147.9 449.7,147.3 451.0,147.6 C452.3,147.9 454.2,148.6 455.0,150.0 C455.8,151.4 455.8,155.0 456.0,156.0" fill="none" stroke="#2ee02e" stroke-width="3.0" stroke-opacity="0.85" stroke-linecap="round" stroke-linejoin="round"/><circle cx="447.5" cy="148.3" r="1.6" fill="#55ff55" fill-opacity="0.82"/><circle cx="451.4" cy="147.5" r="2.2" fill="#55ff55" fill-opacity="0.39"/><circle cx="452.7" cy="148.4" r="1.2" fill="#55ff55" fill-opacity="0.84"/><circle cx="455.4" cy="150.3" r="1.5" fill="#55ff55" fill-opacity="0.40"/><circle cx="455.8" cy="153.2" r="1.6" fill="#55ff55" fill-opacity="0.57"/><circle cx="455.7" cy="155.8" r="1.9" fill="#55ff55" fill-opacity="0.56"/><path d="M491.5,136.0 C491.4,138.0 491.0,144.3 491.0,148.0 C491.0,151.7 491.4,156.3 491.5,158.0" fill="none" stroke="#129a12" stroke-width="3.4" stroke-opacity="0.35" stroke-linecap="round" stroke-linejoin="round"/><path d="M491.5,136.0 C491.4,138.0 491.0,144.3 491.0,148.0 C491.0,151.7 491.4,156.3 491.5,158.0" fill="none" stroke="#2ee02e" stroke-width="1.5" stroke-opacity="0.59" stroke-linecap="round" stroke-linejoin="round"/><circle cx="491.7" cy="136.3" r="0.9" fill="#55ff55" fill-opacity="0.43"/><circle cx="491.1" cy="138.7" r="1.1" fill="#55ff55" fill-opacity="0.23"/><circle cx="491.5" cy="140.6" r="0.9" fill="#55ff55" fill-opacity="0.23"/><circle cx="491.2" cy="143.3" r="0.7" fill="#55ff55" fill-opacity="0.32"/><circle cx="491.2" cy="145.6" r="0.6" fill="#55ff55" fill-opacity="0.50"/><circle cx="490.6" cy="148.0" r="0.9" fill="#55ff55" fill-opacity="0.53"/><circle cx="491.2" cy="150.2" r="0.9" fill="#55ff55" fill-opacity="0.49"/><circle cx="491.0" cy="152.9" r="1.1" fill="#55ff55" fill-opacity="0.52"/><circle cx="491.3" cy="155.9" r="1.1" fill="#55ff55" fill-opacity="0.24"/><circle cx="491.7" cy="157.9" r="1.1" fill="#55ff55" fill-opacity="0.25"/><path d="M458.0,158.5 C460.8,158.7 469.7,159.5 475.0,159.5 C480.3,159.5 483.2,158.6 490.0,158.5 C496.8,158.4 511.7,158.9 516.0,159.0" fill="none" stroke="#129a12" stroke-width="4.6" stroke-opacity="0.50" stroke-linecap="round" stroke-linejoin="round"/><path d="M458.0,158.5 C460.8,158.7 469.7,159.5 475.0,159.5 C480.3,159.5 483.2,158.6 490.0,158.5 C496.8,158.4 511.7,158.9 516.0,159.0" fill="none" stroke="#2ee02e" stroke-width="2.0" stroke-opacity="0.85" stroke-linecap="round" stroke-linejoin="round"/><circle cx="457.7" cy="158.3" r="1.2" fill="#55ff55" fill-opacity="0.74"/><circle cx="460.1" cy="158.4" r="0.9" fill="#55ff55" fill-opacity="0.39"/><circle cx="462.5" cy="158.9" r="1.1" fill="#55ff55" fill-opacity="0.49"/><circle cx="465.2" cy="159.1" r="1.5" fill="#55ff55" fill-opacity="0.60"/><circle cx="467.7" cy="158.7" r="1.1" fill="#55ff55" fill-opacity="0.32"/><circle cx="470.0" cy="159.6" r="1.3" fill="#55ff55" fill-opacity="0.31"/><circle cx="472.7" cy="159.5" r="1.3" fill="#55ff55" fill-opacity="0.78"/><circle cx="474.8" cy="159.7" r="1.3" fill="#55ff55" fill-opacity="0.88"/><circle cx="477.8" cy="159.4" r="1.0" fill="#55ff55" fill-opacity="0.38"/><circle cx="480.1" cy="158.9" r="1.4" fill="#55ff55" fill-opacity="0.81"/><circle cx="482.7" cy="158.8" r="0.8" fill="#55ff55" fill-opacity="0.57"/><circle cx="484.7" cy="159.0" r="0.8" fill="#55ff55" fill-opacity="0.20"/><circle cx="487.3" cy="158.8" r="0.8" fill="#55ff55" fill-opacity="0.36"/><circle cx="489.7" cy="158.8" r="1.5" fill="#55ff55" fill-opacity="0.21"/><circle cx="492.2" cy="158.6" r="1.5" fill="#55ff55" fill-opacity="0.30"/><circle cx="494.7" cy="158.4" r="1.0" fill="#55ff55" fill-opacity="0.49"/><circle cx="496.8" cy="158.3" r="0.8" fill="#55ff55" fill-opacity="0.26"/><circle cx="499.3" cy="158.9" r="1.2" fill="#55ff55" fill-opacity="0.69"/><circle cx="501.8" cy="158.5" r="1.3" fill="#55ff55" fill-opacity="0.44"/><circle cx="503.8" cy="158.5" r="1.4" fill="#55ff55" fill-opacity="0.59"/><circle cx="506.7" cy="158.6" r="1.3" fill="#55ff55" fill-opacity="0.47"/><circle cx="508.6" cy="158.9" r="1.3" fill="#55ff55" fill-opacity="0.76"/><circle cx="511.5" cy="159.1" r="0.9" fill="#55ff55" fill-opacity="0.70"/><circle cx="513.8" cy="159.0" r="0.9" fill="#55ff55" fill-opacity="0.27"/><circle cx="516.1" cy="158.7" r="0.9" fill="#55ff55" fill-opacity="0.33"/><path d="M418.0,158.0 C420.0,158.5 425.5,160.7 430.0,161.0 C434.5,161.3 440.3,160.4 445.0,160.0 C449.7,159.6 455.8,158.8 458.0,158.5" fill="none" stroke="#129a12" stroke-width="4.6" stroke-opacity="0.50" stroke-linecap="round" stroke-linejoin="round"/><path d="M418.0,158.0 C420.0,158.5 425.5,160.7 430.0,161.0 C434.5,161.3 440.3,160.4 445.0,160.0 C449.7,159.6 455.8,158.8 458.0,158.5" fill="none" stroke="#2ee02e" stroke-width="2.0" stroke-opacity="0.85" stroke-linecap="round" stroke-linejoin="round"/><circle cx="417.8" cy="157.9" r="1.2" fill="#55ff55" fill-opacity="0.37"/><circle cx="420.0" cy="158.8" r="1.1" fill="#55ff55" fill-opacity="0.71"/><circle cx="422.9" cy="159.4" r="0.9" fill="#55ff55" fill-opacity="0.40"/><circle cx="425.0" cy="159.6" r="1.2" fill="#55ff55" fill-opacity="0.83"/><circle cx="427.3" cy="160.2" r="1.2" fill="#55ff55" fill-opacity="0.38"/><circle cx="430.2" cy="161.4" r="1.3" fill="#55ff55" fill-opacity="0.78"/><circle cx="432.4" cy="161.0" r="1.3" fill="#55ff55" fill-opacity="0.42"/><circle cx="434.7" cy="160.3" r="0.8" fill="#55ff55" fill-opacity="0.63"/><circle cx="437.8" cy="160.8" r="1.1" fill="#55ff55" fill-opacity="0.31"/><circle cx="439.7" cy="160.3" r="1.1" fill="#55ff55" fill-opacity="0.34"/><circle cx="442.7" cy="160.2" r="1.1" fill="#55ff55" fill-opacity="0.45"/><circle cx="444.7" cy="159.9" r="1.3" fill="#55ff55" fill-opacity="0.27"/><circle cx="447.7" cy="159.5" r="1.1" fill="#55ff55" fill-opacity="0.38"/><circle cx="450.4" cy="159.6" r="1.0" fill="#55ff55" fill-opacity="0.53"/><circle cx="453.1" cy="159.4" r="1.0" fill="#55ff55" fill-opacity="0.51"/><circle cx="455.4" cy="158.9" r="1.2" fill="#55ff55" fill-opacity="0.27"/><circle cx="458.4" cy="158.8" r="1.0" fill="#55ff55" fill-opacity="0.23"/></g>
<text x="421.0" y="136.2" font-size="11.5" font-weight="bold" fill="#fff" text-anchor="start">H</text>
<text x="434.5" y="136.3" font-size="8" font-weight="bold" fill="#fff" text-anchor="start">DA</text>
<text x="512.9" y="134.1" font-size="8" font-weight="normal" fill="#fff" text-anchor="end">control</text>
<text x="428.8" y="163.3" font-size="8" font-weight="bold" fill="#fff" text-anchor="start">PCV</text>
<path transform="translate(453.6,144.6) rotate(0) scale(1.0)" d="M0,0 L0,7.4 L1.8,5.9 L3.0,8.3 L4.0,7.8 L2.9,5.5 L5.0,5.3 Z" fill="#fff"/>
<path transform="translate(475.8,141.6) rotate(0) scale(1.0)" d="M0,0 L0,7.4 L1.8,5.9 L3.0,8.3 L4.0,7.8 L2.9,5.5 L5.0,5.3 Z" fill="#fff"/>
<path transform="translate(506.6,141.6) rotate(0) scale(1.0)" d="M0,0 L0,7.4 L1.8,5.9 L3.0,8.3 L4.0,7.8 L2.9,5.5 L5.0,5.3 Z" fill="#fff"/>
<rect x="491" y="163.79999999999998" width="22.5" height="1.7" fill="#fff"/>
<g clip-path="url(#cpI)"><rect x="440" y="170" width="76.0" height="12.0" fill="#fff" fill-opacity="0.7" filter="url(#tC)"/><rect x="418" y="176" width="24.0" height="7.0" fill="#fff" fill-opacity="1.0" filter="url(#tE)"/><rect x="418" y="185" width="28.0" height="27.0" fill="#fff" fill-opacity="1.0" filter="url(#tE)"/><rect x="446" y="186" width="70.0" height="26.0" fill="#fff" fill-opacity="0.8" filter="url(#tD)"/><rect x="418" y="202" width="98.0" height="10.0" fill="#fff" fill-opacity="1.0" filter="url(#tF)"/><ellipse cx="456" cy="195" rx="10.5" ry="8.5" fill="#000" fill-opacity="1.0" filter="url(#blur1)"/><ellipse cx="496" cy="194" rx="16" ry="7.5" fill="#000" fill-opacity="1.0" filter="url(#blur1)"/><ellipse cx="425" cy="190" rx="5" ry="4" fill="#000" fill-opacity="0.8" filter="url(#blur1)"/><path d="M418.0,184.5 L516.0,184.3" fill="none" stroke="#129a12" stroke-width="6.4" stroke-opacity="0.50" stroke-linecap="round" stroke-linejoin="round"/><path d="M418.0,184.5 L516.0,184.3" fill="none" stroke="#2ee02e" stroke-width="2.8" stroke-opacity="0.85" stroke-linecap="round" stroke-linejoin="round"/><circle cx="418.1" cy="184.3" r="1.2" fill="#55ff55" fill-opacity="0.53"/><circle cx="420.4" cy="184.4" r="1.1" fill="#55ff55" fill-opacity="0.73"/><circle cx="422.1" cy="184.9" r="1.1" fill="#55ff55" fill-opacity="0.48"/><circle cx="424.9" cy="184.2" r="1.1" fill="#55ff55" fill-opacity="0.40"/><circle cx="426.6" cy="184.5" r="1.2" fill="#55ff55" fill-opacity="0.25"/><circle cx="428.9" cy="184.7" r="1.9" fill="#55ff55" fill-opacity="0.32"/><circle cx="431.1" cy="184.3" r="1.5" fill="#55ff55" fill-opacity="0.44"/><circle cx="433.4" cy="184.7" r="2.1" fill="#55ff55" fill-opacity="0.28"/><circle cx="435.8" cy="184.8" r="2.0" fill="#55ff55" fill-opacity="0.83"/><circle cx="438.0" cy="184.6" r="1.7" fill="#55ff55" fill-opacity="0.40"/><circle cx="440.0" cy="184.8" r="1.8" fill="#55ff55" fill-opacity="0.29"/><circle cx="442.4" cy="184.2" r="1.2" fill="#55ff55" fill-opacity="0.77"/><circle cx="445.1" cy="184.2" r="1.3" fill="#55ff55" fill-opacity="0.53"/><circle cx="446.7" cy="184.6" r="1.9" fill="#55ff55" fill-opacity="0.42"/><circle cx="449.1" cy="184.7" r="1.4" fill="#55ff55" fill-opacity="0.33"/><circle cx="451.0" cy="184.6" r="2.0" fill="#55ff55" fill-opacity="0.60"/><circle cx="454.0" cy="184.3" r="1.7" fill="#55ff55" fill-opacity="0.83"/><circle cx="455.7" cy="184.3" r="1.9" fill="#55ff55" fill-opacity="0.77"/><circle cx="458.0" cy="184.1" r="1.4" fill="#55ff55" fill-opacity="0.45"/><circle cx="460.2" cy="184.5" r="1.3" fill="#55ff55" fill-opacity="0.84"/><circle cx="462.3" cy="184.7" r="2.0" fill="#55ff55" fill-opacity="0.73"/><circle cx="465.0" cy="184.6" r="1.9" fill="#55ff55" fill-opacity="0.89"/><circle cx="467.1" cy="184.3" r="1.9" fill="#55ff55" fill-opacity="0.38"/><circle cx="469.3" cy="184.3" r="1.9" fill="#55ff55" fill-opacity="0.29"/><circle cx="471.7" cy="184.7" r="1.9" fill="#55ff55" fill-opacity="0.44"/><circle cx="474.0" cy="184.6" r="2.0" fill="#55ff55" fill-opacity="0.30"/><circle cx="475.5" cy="184.7" r="1.8" fill="#55ff55" fill-opacity="0.66"/><circle cx="478.0" cy="184.6" r="1.6" fill="#55ff55" fill-opacity="0.52"/><circle cx="480.1" cy="184.2" r="1.9" fill="#55ff55" fill-opacity="0.81"/><circle cx="482.5" cy="184.0" r="1.3" fill="#55ff55" fill-opacity="0.27"/><circle cx="484.5" cy="184.0" r="1.9" fill="#55ff55" fill-opacity="0.36"/><circle cx="487.0" cy="184.3" r="1.8" fill="#55ff55" fill-opacity="0.34"/><circle cx="489.1" cy="184.5" r="1.9" fill="#55ff55" fill-opacity="0.87"/><circle cx="491.8" cy="184.5" r="2.0" fill="#55ff55" fill-opacity="0.53"/><circle cx="493.8" cy="184.0" r="1.4" fill="#55ff55" fill-opacity="0.81"/><circle cx="496.0" cy="184.3" r="1.7" fill="#55ff55" fill-opacity="0.78"/><circle cx="498.3" cy="184.1" r="1.5" fill="#55ff55" fill-opacity="0.82"/><circle cx="500.8" cy="184.5" r="1.4" fill="#55ff55" fill-opacity="0.45"/><circle cx="502.3" cy="184.4" r="1.2" fill="#55ff55" fill-opacity="0.84"/><circle cx="504.8" cy="184.0" r="1.5" fill="#55ff55" fill-opacity="0.70"/><circle cx="507.3" cy="184.2" r="1.6" fill="#55ff55" fill-opacity="0.77"/><circle cx="509.6" cy="184.1" r="1.3" fill="#55ff55" fill-opacity="0.72"/><circle cx="511.5" cy="184.2" r="2.0" fill="#55ff55" fill-opacity="0.89"/><circle cx="513.5" cy="184.1" r="1.8" fill="#55ff55" fill-opacity="0.85"/><circle cx="515.7" cy="184.3" r="1.4" fill="#55ff55" fill-opacity="0.71"/><path d="M445.0,180.5 C449.2,180.4 461.7,180.0 470.0,180.0 C478.3,180.0 490.8,180.4 495.0,180.5" fill="none" stroke="#129a12" stroke-width="3.4" stroke-opacity="0.35" stroke-linecap="round" stroke-linejoin="round"/><path d="M445.0,180.5 C449.2,180.4 461.7,180.0 470.0,180.0 C478.3,180.0 490.8,180.4 495.0,180.5" fill="none" stroke="#2ee02e" stroke-width="1.5" stroke-opacity="0.59" stroke-linecap="round" stroke-linejoin="round"/><circle cx="444.7" cy="180.9" r="0.8" fill="#55ff55" fill-opacity="0.47"/><circle cx="447.5" cy="180.2" r="1.1" fill="#55ff55" fill-opacity="0.41"/><circle cx="449.8" cy="180.7" r="1.1" fill="#55ff55" fill-opacity="0.41"/><circle cx="451.6" cy="180.0" r="0.8" fill="#55ff55" fill-opacity="0.59"/><circle cx="454.4" cy="180.7" r="0.8" fill="#55ff55" fill-opacity="0.58"/><circle cx="456.4" cy="180.0" r="0.8" fill="#55ff55" fill-opacity="0.60"/><circle cx="458.6" cy="180.3" r="0.9" fill="#55ff55" fill-opacity="0.53"/><circle cx="460.8" cy="180.2" r="0.7" fill="#55ff55" fill-opacity="0.28"/><circle cx="462.8" cy="180.0" r="0.8" fill="#55ff55" fill-opacity="0.19"/><circle cx="465.2" cy="179.9" r="1.0" fill="#55ff55" fill-opacity="0.51"/><circle cx="467.8" cy="180.4" r="0.9" fill="#55ff55" fill-opacity="0.23"/><circle cx="470.2" cy="180.2" r="0.7" fill="#55ff55" fill-opacity="0.43"/><circle cx="472.1" cy="180.3" r="1.0" fill="#55ff55" fill-opacity="0.49"/><circle cx="474.9" cy="180.0" r="1.1" fill="#55ff55" fill-opacity="0.17"/><circle cx="477.1" cy="180.3" r="0.6" fill="#55ff55" fill-opacity="0.17"/><circle cx="479.2" cy="180.6" r="0.6" fill="#55ff55" fill-opacity="0.37"/><circle cx="481.2" cy="180.0" r="0.8" fill="#55ff55" fill-opacity="0.52"/><circle cx="483.7" cy="180.1" r="0.7" fill="#55ff55" fill-opacity="0.34"/><circle cx="485.6" cy="180.1" r="0.7" fill="#55ff55" fill-opacity="0.25"/><circle cx="487.9" cy="180.3" r="0.7" fill="#55ff55" fill-opacity="0.39"/><circle cx="490.4" cy="180.8" r="0.8" fill="#55ff55" fill-opacity="0.62"/><circle cx="492.8" cy="180.2" r="0.8" fill="#55ff55" fill-opacity="0.24"/><circle cx="495.2" cy="180.9" r="0.7" fill="#55ff55" fill-opacity="0.18"/><path d="M445.0,175.0 C446.7,174.3 451.7,170.7 455.0,171.0 C458.3,171.3 463.3,176.0 465.0,177.0" fill="none" stroke="#129a12" stroke-width="2.8" stroke-opacity="0.35" stroke-linecap="round" stroke-linejoin="round"/><path d="M445.0,175.0 C446.7,174.3 451.7,170.7 455.0,171.0 C458.3,171.3 463.3,176.0 465.0,177.0" fill="none" stroke="#2ee02e" stroke-width="1.2" stroke-opacity="0.59" stroke-linecap="round" stroke-linejoin="round"/><path d="M445.0,188.0 C445.2,189.5 444.3,194.3 446.0,197.0 C447.7,199.7 451.8,203.2 455.0,204.0 C458.2,204.8 462.8,204.0 465.0,202.0 C467.2,200.0 467.5,193.7 468.0,192.0" fill="none" stroke="#129a12" stroke-width="3.4" stroke-opacity="0.50" stroke-linecap="round" stroke-linejoin="round"/><path d="M445.0,188.0 C445.2,189.5 444.3,194.3 446.0,197.0 C447.7,199.7 451.8,203.2 455.0,204.0 C458.2,204.8 462.8,204.0 465.0,202.0 C467.2,200.0 467.5,193.7 468.0,192.0" fill="none" stroke="#2ee02e" stroke-width="1.5" stroke-opacity="0.85" stroke-linecap="round" stroke-linejoin="round"/><circle cx="444.9" cy="187.9" r="0.8" fill="#55ff55" fill-opacity="0.45"/><circle cx="445.0" cy="190.5" r="1.0" fill="#55ff55" fill-opacity="0.47"/><circle cx="445.8" cy="192.7" r="0.9" fill="#55ff55" fill-opacity="0.20"/><circle cx="446.1" cy="194.7" r="0.8" fill="#55ff55" fill-opacity="0.64"/><circle cx="446.0" cy="197.1" r="0.8" fill="#55ff55" fill-opacity="0.41"/><circle cx="447.5" cy="198.3" r="1.0" fill="#55ff55" fill-opacity="0.86"/><circle cx="449.7" cy="199.9" r="1.0" fill="#55ff55" fill-opacity="0.75"/><circle cx="451.4" cy="201.1" r="0.8" fill="#55ff55" fill-opacity="0.86"/><circle cx="453.5" cy="202.8" r="0.7" fill="#55ff55" fill-opacity="0.28"/><circle cx="455.0" cy="204.0" r="0.6" fill="#55ff55" fill-opacity="0.43"/><circle cx="457.4" cy="203.5" r="0.8" fill="#55ff55" fill-opacity="0.83"/><circle cx="460.0" cy="202.9" r="1.1" fill="#55ff55" fill-opacity="0.65"/><circle cx="462.7" cy="202.3" r="0.8" fill="#55ff55" fill-opacity="0.63"/><circle cx="464.9" cy="202.3" r="0.8" fill="#55ff55" fill-opacity="0.47"/><circle cx="465.6" cy="199.8" r="0.9" fill="#55ff55" fill-opacity="0.39"/><circle cx="466.1" cy="196.8" r="0.7" fill="#55ff55" fill-opacity="0.68"/><circle cx="467.0" cy="194.3" r="0.6" fill="#55ff55" fill-opacity="0.76"/><circle cx="468.2" cy="192.2" r="0.6" fill="#55ff55" fill-opacity="0.38"/><path d="M466.0,185.2 C467.0,186.5 470.0,190.5 472.0,193.0 C474.0,195.5 476.8,198.8 477.8,200.0" fill="none" stroke="#129a12" stroke-width="3.2" stroke-opacity="0.50" stroke-linecap="round" stroke-linejoin="round"/><path d="M466.0,185.2 C467.0,186.5 470.0,190.5 472.0,193.0 C474.0,195.5 476.8,198.8 477.8,200.0" fill="none" stroke="#2ee02e" stroke-width="1.4" stroke-opacity="0.85" stroke-linecap="round" stroke-linejoin="round"/><circle cx="466.0" cy="185.5" r="1.0" fill="#55ff55" fill-opacity="0.86"/><circle cx="467.4" cy="186.9" r="0.6" fill="#55ff55" fill-opacity="0.85"/><circle cx="468.9" cy="188.8" r="0.9" fill="#55ff55" fill-opacity="0.80"/><circle cx="470.6" cy="191.4" r="1.0" fill="#55ff55" fill-opacity="0.73"/><circle cx="471.7" cy="192.6" r="0.5" fill="#55ff55" fill-opacity="0.24"/><circle cx="473.1" cy="194.5" r="0.9" fill="#55ff55" fill-opacity="0.64"/><circle cx="475.0" cy="196.9" r="0.6" fill="#55ff55" fill-opacity="0.63"/><circle cx="476.3" cy="198.2" r="0.7" fill="#55ff55" fill-opacity="0.89"/><circle cx="478.2" cy="200.4" r="0.7" fill="#55ff55" fill-opacity="0.36"/><path d="M478.0,186.0 C477.7,187.5 475.7,192.2 476.0,195.0 C476.3,197.8 476.0,201.6 480.0,203.0 C484.0,204.4 494.3,203.8 500.0,203.5 C505.7,203.2 511.7,201.4 514.0,201.0" fill="none" stroke="#129a12" stroke-width="3.2" stroke-opacity="0.40" stroke-linecap="round" stroke-linejoin="round"/><path d="M478.0,186.0 C477.7,187.5 475.7,192.2 476.0,195.0 C476.3,197.8 476.0,201.6 480.0,203.0 C484.0,204.4 494.3,203.8 500.0,203.5 C505.7,203.2 511.7,201.4 514.0,201.0" fill="none" stroke="#2ee02e" stroke-width="1.4" stroke-opacity="0.68" stroke-linecap="round" stroke-linejoin="round"/><circle cx="477.7" cy="185.7" r="0.9" fill="#55ff55" fill-opacity="0.26"/><circle cx="477.1" cy="188.3" r="0.7" fill="#55ff55" fill-opacity="0.57"/><circle cx="477.0" cy="190.7" r="0.9" fill="#55ff55" fill-opacity="0.18"/><circle cx="476.8" cy="192.8" r="0.8" fill="#55ff55" fill-opacity="0.41"/><circle cx="476.4" cy="195.3" r="0.7" fill="#55ff55" fill-opacity="0.38"/><circle cx="476.7" cy="196.7" r="1.0" fill="#55ff55" fill-opacity="0.47"/><circle cx="477.6" cy="199.2" r="0.7" fill="#55ff55" fill-opacity="0.55"/><circle cx="478.6" cy="201.2" r="0.9" fill="#55ff55" fill-opacity="0.45"/><circle cx="480.1" cy="203.2" r="0.7" fill="#55ff55" fill-opacity="0.53"/><circle cx="482.6" cy="203.4" r="0.7" fill="#55ff55" fill-opacity="0.70"/><circle cx="484.3" cy="202.9" r="0.8" fill="#55ff55" fill-opacity="0.34"/><circle cx="486.9" cy="203.4" r="1.0" fill="#55ff55" fill-opacity="0.60"/><circle cx="488.7" cy="203.4" r="1.0" fill="#55ff55" fill-opacity="0.55"/><circle cx="490.8" cy="203.6" r="0.7" fill="#55ff55" fill-opacity="0.50"/><circle cx="493.7" cy="203.0" r="0.8" fill="#55ff55" fill-opacity="0.31"/><circle cx="495.3" cy="203.6" r="1.0" fill="#55ff55" fill-opacity="0.58"/><circle cx="497.8" cy="203.4" r="0.8" fill="#55ff55" fill-opacity="0.67"/><circle cx="500.2" cy="203.2" r="1.0" fill="#55ff55" fill-opacity="0.21"/><circle cx="502.6" cy="203.0" r="0.7" fill="#55ff55" fill-opacity="0.22"/><circle cx="504.9" cy="202.8" r="0.9" fill="#55ff55" fill-opacity="0.30"/><circle cx="507.2" cy="202.0" r="0.6" fill="#55ff55" fill-opacity="0.44"/><circle cx="509.2" cy="202.2" r="0.9" fill="#55ff55" fill-opacity="0.32"/><circle cx="511.6" cy="201.5" r="1.0" fill="#55ff55" fill-opacity="0.72"/><circle cx="514.0" cy="201.3" r="0.9" fill="#55ff55" fill-opacity="0.58"/><path d="M420.0,188.0 C421.7,189.2 427.0,192.5 430.0,195.0 C433.0,197.5 436.7,201.7 438.0,203.0" fill="none" stroke="#129a12" stroke-width="3.7" stroke-opacity="0.50" stroke-linecap="round" stroke-linejoin="round"/><path d="M420.0,188.0 C421.7,189.2 427.0,192.5 430.0,195.0 C433.0,197.5 436.7,201.7 438.0,203.0" fill="none" stroke="#2ee02e" stroke-width="1.6" stroke-opacity="0.85" stroke-linecap="round" stroke-linejoin="round"/><circle cx="420.0" cy="187.7" r="0.8" fill="#55ff55" fill-opacity="0.87"/><circle cx="422.1" cy="189.0" r="1.0" fill="#55ff55" fill-opacity="0.30"/><circle cx="424.2" cy="190.5" r="1.2" fill="#55ff55" fill-opacity="0.58"/><circle cx="425.8" cy="192.5" r="1.0" fill="#55ff55" fill-opacity="0.46"/><circle cx="427.7" cy="193.9" r="0.6" fill="#55ff55" fill-opacity="0.53"/><circle cx="430.0" cy="195.0" r="1.1" fill="#55ff55" fill-opacity="0.22"/><circle cx="431.5" cy="196.9" r="1.0" fill="#55ff55" fill-opacity="0.71"/><circle cx="433.5" cy="197.9" r="0.7" fill="#55ff55" fill-opacity="0.30"/><circle cx="434.7" cy="199.5" r="0.7" fill="#55ff55" fill-opacity="0.55"/><circle cx="436.6" cy="201.2" r="1.2" fill="#55ff55" fill-opacity="0.53"/><circle cx="438.3" cy="203.1" r="1.1" fill="#55ff55" fill-opacity="0.35"/><path d="M505.0,172.0 C506.2,173.0 510.2,176.7 512.0,178.0 C513.8,179.3 515.3,179.7 516.0,180.0" fill="none" stroke="#129a12" stroke-width="3.4" stroke-opacity="0.40" stroke-linecap="round" stroke-linejoin="round"/><path d="M505.0,172.0 C506.2,173.0 510.2,176.7 512.0,178.0 C513.8,179.3 515.3,179.7 516.0,180.0" fill="none" stroke="#2ee02e" stroke-width="1.5" stroke-opacity="0.68" stroke-linecap="round" stroke-linejoin="round"/><circle cx="505.1" cy="172.0" r="1.1" fill="#55ff55" fill-opacity="0.59"/><circle cx="506.4" cy="173.8" r="1.0" fill="#55ff55" fill-opacity="0.41"/><circle cx="508.7" cy="174.8" r="1.0" fill="#55ff55" fill-opacity="0.54"/><circle cx="510.6" cy="176.8" r="0.8" fill="#55ff55" fill-opacity="0.62"/><circle cx="512.0" cy="177.9" r="0.7" fill="#55ff55" fill-opacity="0.54"/><circle cx="514.0" cy="179.0" r="0.7" fill="#55ff55" fill-opacity="0.24"/><circle cx="516.0" cy="180.2" r="0.7" fill="#55ff55" fill-opacity="0.37"/></g>
<text x="421.1" y="180.8" font-size="11.5" font-weight="bold" fill="#fff" text-anchor="start">I</text>
<text x="431.7" y="183.7" font-size="8" font-weight="bold" fill="#fff" text-anchor="start">DA</text>
<text x="483.7" y="180" font-size="8" fill="#fff" text-anchor="start">Nrp2a<tspan font-size="4.7" dy="-2.6">KD</tspan></text>
<text x="422.9" y="207.2" font-size="8" font-weight="bold" fill="#fff" text-anchor="start">PCV</text>
<path d="M455.20,186.50 L455.20,190.70 M453.38,187.55 L457.02,189.65 M453.38,189.65 L457.02,187.55 " stroke="#aaa3b2" stroke-width="1.3" fill="none"/>
<path d="M484.70,187.50 L484.70,191.70 M482.88,188.55 L486.52,190.65 M482.88,190.65 L486.52,188.55 " stroke="#aaa3b2" stroke-width="1.3" fill="none"/>
<rect x="491.5" y="208.6" width="22.0" height="1.7" fill="#fff"/>
</svg></body></html>
